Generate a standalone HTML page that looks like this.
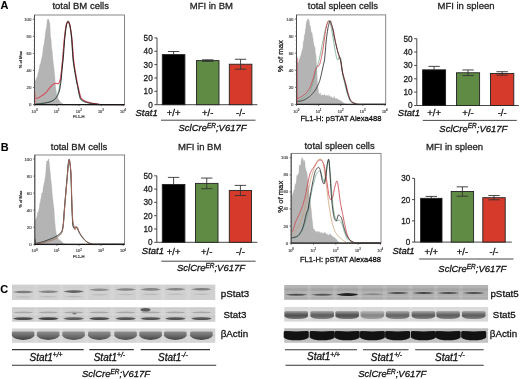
<!DOCTYPE html>
<html><head><meta charset="utf-8"><style>
html,body{margin:0;padding:0;background:#fff;width:520px;height:379px;overflow:hidden}
svg{display:block}
text{font-family:"Liberation Sans", sans-serif}
svg{filter:blur(0.35px)}
</style></head><body>
<svg width="520" height="379" viewBox="0 0 520 379">
<defs><filter id="b1" x="-20%" y="-50%" width="140%" height="200%"><feGaussianBlur stdDeviation="0.6"/></filter><filter id="b2" x="-20%" y="-50%" width="140%" height="200%"><feGaussianBlur stdDeviation="0.9"/></filter></defs>
<rect width="520" height="379" fill="#ffffff"/>
<g font-family='"Liberation Sans", sans-serif'>
<text x="0.50" y="9.20" font-size="10.9" text-anchor="start" font-weight="bold" font-style="normal" fill="#000" stroke="#000" stroke-width="0.1" >A</text>
<text x="0.80" y="151.20" font-size="10.9" text-anchor="start" font-weight="bold" font-style="normal" fill="#000" stroke="#000" stroke-width="0.1" >B</text>
<text x="0.30" y="293.00" font-size="10.9" text-anchor="start" font-weight="bold" font-style="normal" fill="#000" stroke="#000" stroke-width="0.1" >C</text>
<text x="80.70" y="9.00" font-size="9.5" text-anchor="middle" font-weight="normal" font-style="normal" fill="#222" stroke="#222" stroke-width="0.28" >total BM cells</text>
<text x="211.40" y="8.80" font-size="9.5" text-anchor="middle" font-weight="normal" font-style="normal" fill="#222" stroke="#222" stroke-width="0.28" >MFI in BM</text>
<text x="342.90" y="8.90" font-size="9.5" text-anchor="middle" font-weight="normal" font-style="normal" fill="#222" stroke="#222" stroke-width="0.28" >total spleen cells</text>
<text x="466.00" y="8.80" font-size="9.5" text-anchor="middle" font-weight="normal" font-style="normal" fill="#222" stroke="#222" stroke-width="0.28" >MFI in spleen</text>
<text x="79.00" y="149.90" font-size="9.5" text-anchor="middle" font-weight="normal" font-style="normal" fill="#222" stroke="#222" stroke-width="0.28" >total BM cells</text>
<text x="199.70" y="149.90" font-size="9.5" text-anchor="middle" font-weight="normal" font-style="normal" fill="#222" stroke="#222" stroke-width="0.28" >MFI in BM</text>
<text x="339.60" y="148.60" font-size="9.5" text-anchor="middle" font-weight="normal" font-style="normal" fill="#222" stroke="#222" stroke-width="0.28" >total spleen cells</text>
<text x="454.50" y="149.90" font-size="9.5" text-anchor="middle" font-weight="normal" font-style="normal" fill="#222" stroke="#222" stroke-width="0.28" >MFI in spleen</text>
<polygon points="34.80,104.60 34.80,80.72 35.02,80.48 35.25,81.36 35.47,80.58 35.70,80.98 35.92,79.58 36.15,79.85 36.37,78.46 36.60,78.74 36.82,77.19 37.05,77.35 37.27,76.49 37.50,76.31 37.72,74.00 37.95,73.37 38.17,72.37 38.40,72.40 38.62,71.04 38.85,69.85 39.07,69.10 39.30,67.73 39.52,66.70 39.75,65.05 39.97,64.25 40.20,64.09 40.42,63.45 40.65,63.39 40.87,62.19 41.09,60.82 41.32,59.61 41.54,58.56 41.77,58.05 41.99,56.96 42.22,55.89 42.44,54.28 42.67,53.16 42.89,51.35 43.12,49.07 43.34,46.63 43.57,45.48 43.79,45.57 44.02,45.05 44.24,42.49 44.47,40.46 44.69,38.93 44.92,38.39 45.14,35.61 45.37,33.55 45.59,31.49 45.82,30.76 46.04,29.13 46.27,28.40 46.49,27.06 46.72,25.38 46.94,22.86 47.16,21.05 47.39,19.49 47.61,19.30 47.84,19.30 48.06,19.30 48.29,19.30 48.51,19.30 48.74,19.30 48.96,20.35 49.19,21.72 49.41,21.77 49.64,22.60 49.86,23.22 50.09,27.50 50.31,32.19 50.54,36.59 50.76,38.01 50.99,38.90 51.21,40.80 51.44,44.53 51.66,47.63 51.89,49.72 52.11,50.81 52.34,52.58 52.56,55.46 52.78,57.92 53.01,60.36 53.23,62.03 53.46,63.69 53.68,65.52 53.91,67.84 54.13,69.69 54.36,71.81 54.58,73.60 54.81,76.35 55.03,79.49 55.26,82.82 55.48,85.57 55.71,87.44 55.93,89.16 56.16,90.80 56.38,92.48 56.61,94.03 56.83,94.93 57.06,95.95 57.28,96.22 57.51,96.89 57.73,97.23 57.96,98.19 58.18,98.67 58.41,99.04 58.63,99.38 58.85,99.80 59.08,100.23 59.30,100.60 59.53,100.80 59.75,100.98 59.98,101.20 60.20,101.48 60.43,102.04 60.65,102.19 60.88,102.67 61.10,102.62 61.33,102.80 61.55,102.86 61.78,103.24 62.00,103.35 62.23,103.36 62.45,103.60 62.68,103.74 62.90,103.90 63.13,103.91 63.35,104.17 63.58,104.32 63.80,104.43 64.03,104.50 64.25,104.59 64.48,104.60 64.70,104.60 64.92,104.60 65.15,104.60 65.37,104.60 65.60,104.60 65.82,104.60 66.05,104.60 66.27,104.60 66.50,104.60 66.72,104.60 66.95,104.60 67.17,104.60 67.40,104.60 67.62,104.60 67.85,104.60 68.07,104.60 68.30,104.60 68.52,104.60 68.75,104.60 68.97,104.60 69.20,104.60 69.42,104.60 69.65,104.60 69.87,104.60 70.10,104.60 70.32,104.60 70.55,104.60 70.77,104.60 70.99,104.60 71.22,104.60 71.44,104.60 71.67,104.60 71.89,104.60 72.12,104.60 72.34,104.60 72.57,104.60 72.79,104.60 73.02,104.60 73.24,104.60 73.47,104.60 73.69,104.60 73.92,104.60 74.14,104.60 74.37,104.60 74.59,104.60 74.82,104.60 75.04,104.60 75.27,104.60 75.49,104.60 75.72,104.60 75.94,104.60 76.17,104.60 76.39,104.60 76.62,104.60 76.84,104.60 77.06,104.60 77.29,104.60 77.51,104.60 77.74,104.60 77.96,104.60 78.19,104.60 78.41,104.60 78.64,104.60 78.86,104.60 79.09,104.60 79.31,104.60 79.54,104.60 79.76,104.60 79.99,104.60 80.21,104.60 80.44,104.60 80.66,104.60 80.89,104.60 81.11,104.60 81.34,104.60 81.56,104.60 81.79,104.60 82.01,104.60 82.24,104.60 82.46,104.60 82.68,104.60 82.91,104.60 83.13,104.60 83.36,104.60 83.58,104.60 83.81,104.60 84.03,104.60 84.26,104.60 84.48,104.60 84.71,104.60 84.93,104.60 85.16,104.60 85.38,104.60 85.61,104.60 85.83,104.60 86.06,104.60 86.28,104.60 86.51,104.60 86.73,104.60 86.96,104.60 87.18,104.60 87.41,104.60 87.63,104.60 87.86,104.60 88.08,104.60 88.31,104.60 88.53,104.60 88.75,104.60 88.98,104.60 89.20,104.60 89.43,104.60 89.65,104.60 89.88,104.60 90.10,104.60 90.33,104.60 90.55,104.60 90.78,104.60 91.00,104.60 91.23,104.60 91.45,104.60 91.68,104.60 91.90,104.60 92.13,104.60 92.35,104.60 92.58,104.60 92.80,104.60 93.03,104.60 93.25,104.60 93.48,104.60 93.70,104.60 93.93,104.60 94.15,104.60 94.38,104.60 94.60,104.60 94.82,104.60 95.05,104.60 95.27,104.60 95.50,104.60 95.72,104.60 95.95,104.60 96.17,104.60 96.40,104.60 96.62,104.60 96.85,104.60 97.07,104.60 97.30,104.60 97.52,104.60 97.75,104.60 97.97,104.60 98.20,104.60 98.42,104.60 98.65,104.60 98.87,104.60 99.10,104.60 99.32,104.60 99.55,104.60 99.77,104.60 100.00,104.60 100.22,104.60 100.45,104.60 100.67,104.60 100.89,104.60 101.12,104.60 101.34,104.60 101.57,104.60 101.79,104.60 102.02,104.60 102.24,104.60 102.47,104.60 102.69,104.60 102.92,104.60 103.14,104.60 103.37,104.60 103.59,104.60 103.82,104.60 104.04,104.60 104.27,104.60 104.49,104.60 104.72,104.60 104.94,104.60 105.17,104.60 105.39,104.60 105.62,104.60 105.84,104.60 106.07,104.60 106.29,104.60 106.52,104.60 106.74,104.60 106.96,104.60 107.19,104.60 107.41,104.60 107.64,104.60 107.86,104.60 108.09,104.60 108.31,104.60 108.54,104.60 108.76,104.60 108.99,104.60 109.21,104.60 109.44,104.60 109.66,104.60 109.89,104.60 110.11,104.60 110.34,104.60 110.56,104.60 110.79,104.60 111.01,104.60 111.24,104.60 111.46,104.60 111.69,104.60 111.91,104.60 112.14,104.60 112.36,104.60 112.58,104.60 112.81,104.60 113.03,104.60 113.26,104.60 113.48,104.60 113.71,104.60 113.93,104.60 114.16,104.60 114.38,104.60 114.61,104.60 114.83,104.60 115.06,104.60 115.28,104.60 115.51,104.60 115.73,104.60 115.96,104.60 116.18,104.60 116.41,104.60 116.63,104.60 116.86,104.60 117.08,104.60 117.31,104.60 117.53,104.60 117.76,104.60 117.98,104.60 118.21,104.60 118.43,104.60 118.65,104.60 118.88,104.60 119.10,104.60 119.33,104.60 119.55,104.60 119.78,104.60 120.00,104.60 120.23,104.60 120.45,104.60 120.68,104.60 120.90,104.60 121.13,104.60 121.35,104.60 121.58,104.60 121.80,104.60 122.03,104.60 122.25,104.60 122.48,104.60 122.70,104.60 122.93,104.60 123.15,104.60 123.38,104.60 123.60,104.60 123.83,104.60 124.05,104.60 124.28,104.60 124.50,104.60 124.50,104.60" fill="#b4b4b4" stroke="#acacac" stroke-width="0.3"/>
<polyline points="34.80,103.75 35.02,103.75 35.25,103.74 35.47,103.74 35.70,103.73 35.92,103.72 36.15,103.71 36.37,103.70 36.60,103.69 36.82,103.68 37.05,103.66 37.27,103.65 37.50,103.63 37.72,103.62 37.95,103.60 38.17,103.58 38.40,103.56 38.62,103.53 38.85,103.51 39.07,103.49 39.30,103.46 39.52,103.44 39.75,103.41 39.97,103.38 40.20,103.35 40.42,103.33 40.65,103.30 40.87,103.26 41.09,103.23 41.32,103.20 41.54,103.17 41.77,103.14 41.99,103.10 42.22,103.07 42.44,103.03 42.67,103.00 42.89,102.96 43.12,102.93 43.34,102.89 43.57,102.85 43.79,102.82 44.02,102.78 44.24,102.74 44.47,102.70 44.69,102.67 44.92,102.63 45.14,102.59 45.37,102.55 45.59,102.51 45.82,102.47 46.04,102.43 46.27,102.39 46.49,102.35 46.72,102.31 46.94,102.27 47.16,102.22 47.39,102.17 47.61,102.12 47.84,102.07 48.06,102.02 48.29,101.96 48.51,101.91 48.74,101.85 48.96,101.79 49.19,101.72 49.41,101.65 49.64,101.59 49.86,101.51 50.09,101.44 50.31,101.36 50.54,101.28 50.76,101.20 50.99,101.11 51.21,101.02 51.44,100.93 51.66,100.83 51.89,100.73 52.11,100.62 52.34,100.50 52.56,100.38 52.78,100.24 53.01,100.09 53.23,99.94 53.46,99.77 53.68,99.59 53.91,99.40 54.13,99.20 54.36,98.99 54.58,98.77 54.81,98.53 55.03,98.28 55.26,98.02 55.48,97.75 55.71,97.46 55.93,97.16 56.16,96.85 56.38,96.52 56.61,96.18 56.83,95.81 57.06,95.37 57.28,94.85 57.51,94.26 57.73,93.60 57.96,92.89 58.18,92.11 58.41,91.29 58.63,90.41 58.85,89.49 59.08,88.53 59.30,87.47 59.53,86.23 59.75,84.85 59.98,83.33 60.20,81.71 60.43,80.00 60.65,78.24 60.88,76.45 61.10,74.55 61.33,72.50 61.55,70.32 61.78,68.05 62.00,65.74 62.23,63.42 62.45,60.99 62.68,58.42 62.90,55.74 63.13,53.00 63.35,50.24 63.58,47.51 63.80,44.86 64.03,42.32 64.25,39.94 64.48,37.76 64.70,35.82 64.92,33.93 65.15,32.07 65.37,30.28 65.60,28.62 65.82,27.13 66.05,25.85 66.27,24.85 66.50,24.14 66.72,23.50 66.95,22.92 67.17,22.44 67.40,22.08 67.62,21.88 67.85,21.88 68.07,22.03 68.30,22.31 68.52,22.68 68.75,23.14 68.97,23.66 69.20,24.22 69.42,24.83 69.65,25.66 69.87,26.68 70.10,27.88 70.32,29.25 70.55,30.77 70.77,32.40 70.99,34.15 71.22,35.98 71.44,38.11 71.67,40.91 71.89,44.17 72.12,47.68 72.34,51.24 72.57,54.64 72.79,57.67 73.02,60.11 73.24,62.04 73.47,63.80 73.69,65.39 73.92,66.87 74.14,68.27 74.37,69.61 74.59,70.94 74.82,72.28 75.04,73.62 75.27,74.93 75.49,76.21 75.72,77.46 75.94,78.69 76.17,79.89 76.39,81.05 76.62,82.19 76.84,83.30 77.06,84.39 77.29,85.50 77.51,86.66 77.74,87.85 77.96,89.05 78.19,90.26 78.41,91.45 78.64,92.62 78.86,93.75 79.09,94.84 79.31,95.85 79.54,96.79 79.76,97.63 79.99,98.37 80.21,98.98 80.44,99.47 80.66,99.80 80.89,100.00 81.11,100.18 81.34,100.34 81.56,100.50 81.79,100.65 82.01,100.79 82.24,100.93 82.46,101.06 82.68,101.18 82.91,101.30 83.13,101.41 83.36,101.52 83.58,101.62 83.81,101.72 84.03,101.81 84.26,101.90 84.48,101.98 84.71,102.06 84.93,102.14 85.16,102.21 85.38,102.28 85.61,102.34 85.83,102.40 86.06,102.46 86.28,102.52 86.51,102.58 86.73,102.63 86.96,102.68 87.18,102.73 87.41,102.78 87.63,102.83 87.86,102.88 88.08,102.93 88.31,102.98 88.53,103.02 88.75,103.07 88.98,103.12 89.20,103.16 89.43,103.21 89.65,103.25 89.88,103.30 90.10,103.34 90.33,103.38 90.55,103.41 90.78,103.45 91.00,103.49 91.23,103.53 91.45,103.56 91.68,103.59 91.90,103.63 92.13,103.66 92.35,103.69 92.58,103.72 92.80,103.75 93.03,103.78 93.25,103.81 93.48,103.84 93.70,103.87 93.93,103.90 94.15,103.92 94.38,103.95 94.60,103.98 94.82,104.00 95.05,104.03 95.27,104.05 95.50,104.08 95.72,104.11 95.95,104.13 96.17,104.16 96.40,104.19 96.62,104.21 96.85,104.24 97.07,104.27 97.30,104.30 97.52,104.33 97.75,104.35 97.97,104.38 98.20,104.41 98.42,104.43 98.65,104.46 98.87,104.48 99.10,104.50 99.32,104.52 99.55,104.54 99.77,104.55 100.00,104.57 100.22,104.58 100.45,104.59 100.67,104.59 100.89,104.60 101.12,104.60 101.34,104.60 101.57,104.60 101.79,104.60 102.02,104.60 102.24,104.60 102.47,104.60 102.69,104.60 102.92,104.60 103.14,104.60 103.37,104.60 103.59,104.60 103.82,104.60 104.04,104.60 104.27,104.60 104.49,104.60 104.72,104.60 104.94,104.60 105.17,104.60 105.39,104.60 105.62,104.60 105.84,104.60 106.07,104.60 106.29,104.60 106.52,104.60 106.74,104.60 106.96,104.60 107.19,104.60 107.41,104.60 107.64,104.60 107.86,104.60 108.09,104.60 108.31,104.60 108.54,104.60 108.76,104.60 108.99,104.60 109.21,104.60 109.44,104.60 109.66,104.60 109.89,104.60 110.11,104.60 110.34,104.60 110.56,104.60 110.79,104.60 111.01,104.60 111.24,104.60 111.46,104.60 111.69,104.60 111.91,104.60 112.14,104.60 112.36,104.60 112.58,104.60 112.81,104.60 113.03,104.60 113.26,104.60 113.48,104.60 113.71,104.60 113.93,104.60 114.16,104.60 114.38,104.60 114.61,104.60 114.83,104.60 115.06,104.60 115.28,104.60 115.51,104.60 115.73,104.60 115.96,104.60 116.18,104.60 116.41,104.60 116.63,104.60 116.86,104.60 117.08,104.60 117.31,104.60 117.53,104.60 117.76,104.60 117.98,104.60 118.21,104.60 118.43,104.60 118.65,104.60 118.88,104.60 119.10,104.60 119.33,104.60 119.55,104.60 119.78,104.60 120.00,104.60 120.23,104.60 120.45,104.60 120.68,104.60 120.90,104.60 121.13,104.60 121.35,104.60 121.58,104.60 121.80,104.60 122.03,104.60 122.25,104.60 122.48,104.60 122.70,104.60 122.93,104.60 123.15,104.60 123.38,104.60 123.60,104.60 123.83,104.60 124.05,104.60 124.28,104.60 124.50,104.60" fill="none" stroke="#6aa488" stroke-width="0.8" stroke-linejoin="round"/>
<polyline points="34.80,97.78 35.02,97.89 35.25,98.00 35.47,98.09 35.70,98.18 35.92,98.24 36.15,98.28 36.37,98.29 36.60,98.28 36.82,98.25 37.05,98.21 37.27,98.16 37.50,98.09 37.72,98.01 37.95,97.92 38.17,97.83 38.40,97.72 38.62,97.61 38.85,97.48 39.07,97.36 39.30,97.23 39.52,97.09 39.75,96.95 39.97,96.82 40.20,96.68 40.42,96.54 40.65,96.40 40.87,96.27 41.09,96.14 41.32,96.01 41.54,95.88 41.77,95.74 41.99,95.61 42.22,95.46 42.44,95.32 42.67,95.17 42.89,95.02 43.12,94.86 43.34,94.70 43.57,94.54 43.79,94.37 44.02,94.20 44.24,94.03 44.47,93.85 44.69,93.67 44.92,93.48 45.14,93.29 45.37,93.09 45.59,92.89 45.82,92.69 46.04,92.48 46.27,92.25 46.49,92.01 46.72,91.75 46.94,91.48 47.16,91.21 47.39,90.92 47.61,90.63 47.84,90.33 48.06,90.03 48.29,89.72 48.51,89.42 48.74,89.11 48.96,88.81 49.19,88.51 49.41,88.22 49.64,87.93 49.86,87.65 50.09,87.38 50.31,87.12 50.54,86.87 50.76,86.64 50.99,86.40 51.21,86.17 51.44,85.94 51.66,85.70 51.89,85.48 52.11,85.26 52.34,85.04 52.56,84.84 52.78,84.66 53.01,84.48 53.23,84.33 53.46,84.19 53.68,84.08 53.91,83.97 54.13,83.85 54.36,83.74 54.58,83.64 54.81,83.55 55.03,83.46 55.26,83.39 55.48,83.33 55.71,83.30 55.93,83.28 56.16,83.28 56.38,83.31 56.61,83.35 56.83,83.41 57.06,83.47 57.28,83.53 57.51,83.60 57.73,83.65 57.96,83.68 58.18,83.70 58.41,83.65 58.63,83.45 58.85,83.11 59.08,82.65 59.30,82.09 59.53,81.43 59.75,80.69 59.98,79.90 60.20,79.06 60.43,78.19 60.65,77.12 60.88,75.69 61.10,73.98 61.33,72.05 61.55,69.96 61.78,67.78 62.00,65.59 62.23,63.44 62.45,61.17 62.68,58.68 62.90,56.03 63.13,53.27 63.35,50.47 63.58,47.67 63.80,44.95 64.03,42.34 64.25,39.92 64.48,37.74 64.70,35.83 64.92,33.98 65.15,32.14 65.37,30.36 65.60,28.67 65.82,27.14 66.05,25.79 66.27,24.69 66.50,23.88 66.72,23.36 66.95,22.93 67.17,22.54 67.40,22.22 67.62,21.99 67.85,21.87 68.07,21.88 68.30,22.04 68.52,22.32 68.75,22.71 68.97,23.17 69.20,23.69 69.42,24.23 69.65,24.82 69.87,25.57 70.10,26.47 70.32,27.51 70.55,28.68 70.77,29.97 70.99,31.37 71.22,32.86 71.44,34.43 71.67,36.08 71.89,37.97 72.12,40.36 72.34,43.13 72.57,46.15 72.79,49.28 73.02,52.38 73.24,55.33 73.47,57.98 73.69,60.21 73.92,62.11 74.14,63.87 74.37,65.52 74.59,67.07 74.82,68.55 75.04,69.98 75.27,71.36 75.49,72.72 75.72,74.08 75.94,75.43 76.17,76.77 76.39,78.09 76.62,79.38 76.84,80.63 77.06,81.84 77.29,83.01 77.51,84.11 77.74,85.15 77.96,86.13 78.19,87.10 78.41,88.08 78.64,89.07 78.86,90.04 79.09,91.01 79.31,91.95 79.54,92.87 79.76,93.75 79.99,94.58 80.21,95.37 80.44,96.09 80.66,96.74 80.89,97.32 81.11,97.82 81.34,98.23 81.56,98.53 81.79,98.75 82.01,98.96 82.24,99.15 82.46,99.34 82.68,99.52 82.91,99.69 83.13,99.86 83.36,100.02 83.58,100.17 83.81,100.32 84.03,100.46 84.26,100.59 84.48,100.72 84.71,100.84 84.93,100.96 85.16,101.08 85.38,101.18 85.61,101.29 85.83,101.39 86.06,101.48 86.28,101.57 86.51,101.66 86.73,101.74 86.96,101.83 87.18,101.90 87.41,101.98 87.63,102.05 87.86,102.12 88.08,102.19 88.31,102.25 88.53,102.32 88.75,102.38 88.98,102.44 89.20,102.50 89.43,102.56 89.65,102.62 89.88,102.68 90.10,102.74 90.33,102.79 90.55,102.85 90.78,102.90 91.00,102.95 91.23,103.00 91.45,103.05 91.68,103.10 91.90,103.15 92.13,103.19 92.35,103.23 92.58,103.27 92.80,103.32 93.03,103.36 93.25,103.39 93.48,103.43 93.70,103.47 93.93,103.51 94.15,103.54 94.38,103.58 94.60,103.61 94.82,103.65 95.05,103.68 95.27,103.71 95.50,103.75 95.72,103.78 95.95,103.81 96.17,103.84 96.40,103.88 96.62,103.91 96.85,103.94 97.07,103.98 97.30,104.01 97.52,104.05 97.75,104.09 97.97,104.12 98.20,104.16 98.42,104.20 98.65,104.23 98.87,104.27 99.10,104.31 99.32,104.34 99.55,104.37 99.77,104.41 100.00,104.44 100.22,104.47 100.45,104.49 100.67,104.52 100.89,104.54 101.12,104.56 101.34,104.57 101.57,104.58 101.79,104.59 102.02,104.60 102.24,104.60 102.47,104.60 102.69,104.60 102.92,104.60 103.14,104.60 103.37,104.60 103.59,104.60 103.82,104.60 104.04,104.60 104.27,104.60 104.49,104.60 104.72,104.60 104.94,104.60 105.17,104.60 105.39,104.60 105.62,104.60 105.84,104.60 106.07,104.60 106.29,104.60 106.52,104.60 106.74,104.60 106.96,104.60 107.19,104.60 107.41,104.60 107.64,104.60 107.86,104.60 108.09,104.60 108.31,104.60 108.54,104.60 108.76,104.60 108.99,104.60 109.21,104.60 109.44,104.60 109.66,104.60 109.89,104.60 110.11,104.60 110.34,104.60 110.56,104.60 110.79,104.60 111.01,104.60 111.24,104.60 111.46,104.60 111.69,104.60 111.91,104.60 112.14,104.60 112.36,104.60 112.58,104.60 112.81,104.60 113.03,104.60 113.26,104.60 113.48,104.60 113.71,104.60 113.93,104.60 114.16,104.60 114.38,104.60 114.61,104.60 114.83,104.60 115.06,104.60 115.28,104.60 115.51,104.60 115.73,104.60 115.96,104.60 116.18,104.60 116.41,104.60 116.63,104.60 116.86,104.60 117.08,104.60 117.31,104.60 117.53,104.60 117.76,104.60 117.98,104.60 118.21,104.60 118.43,104.60 118.65,104.60 118.88,104.60 119.10,104.60 119.33,104.60 119.55,104.60 119.78,104.60 120.00,104.60 120.23,104.60 120.45,104.60 120.68,104.60 120.90,104.60 121.13,104.60 121.35,104.60 121.58,104.60 121.80,104.60 122.03,104.60 122.25,104.60 122.48,104.60 122.70,104.60 122.93,104.60 123.15,104.60 123.38,104.60 123.60,104.60 123.83,104.60 124.05,104.60 124.28,104.60 124.50,104.60" fill="none" stroke="#d44a5a" stroke-width="1.1" stroke-linejoin="round"/>
<polyline points="34.80,104.17 35.02,104.17 35.25,104.16 35.47,104.16 35.70,104.15 35.92,104.14 36.15,104.13 36.37,104.12 36.60,104.11 36.82,104.09 37.05,104.08 37.27,104.06 37.50,104.04 37.72,104.03 37.95,104.01 38.17,103.99 38.40,103.96 38.62,103.94 38.85,103.92 39.07,103.90 39.30,103.87 39.52,103.85 39.75,103.82 39.97,103.79 40.20,103.76 40.42,103.73 40.65,103.71 40.87,103.68 41.09,103.64 41.32,103.61 41.54,103.58 41.77,103.55 41.99,103.52 42.22,103.48 42.44,103.45 42.67,103.41 42.89,103.38 43.12,103.34 43.34,103.31 43.57,103.27 43.79,103.24 44.02,103.20 44.24,103.16 44.47,103.13 44.69,103.09 44.92,103.05 45.14,103.01 45.37,102.98 45.59,102.94 45.82,102.90 46.04,102.86 46.27,102.82 46.49,102.78 46.72,102.74 46.94,102.70 47.16,102.65 47.39,102.61 47.61,102.56 47.84,102.51 48.06,102.46 48.29,102.41 48.51,102.35 48.74,102.30 48.96,102.24 49.19,102.18 49.41,102.11 49.64,102.05 49.86,101.98 50.09,101.91 50.31,101.84 50.54,101.76 50.76,101.68 50.99,101.60 51.21,101.52 51.44,101.43 51.66,101.34 51.89,101.24 52.11,101.14 52.34,101.03 52.56,100.91 52.78,100.79 53.01,100.65 53.23,100.50 53.46,100.35 53.68,100.18 53.91,100.01 54.13,99.83 54.36,99.64 54.58,99.44 54.81,99.23 55.03,99.01 55.26,98.78 55.48,98.54 55.71,98.29 55.93,98.03 56.16,97.76 56.38,97.48 56.61,97.19 56.83,96.88 57.06,96.55 57.28,96.17 57.51,95.76 57.73,95.32 57.96,94.83 58.18,94.30 58.41,93.73 58.63,93.11 58.85,92.45 59.08,91.74 59.30,90.99 59.53,90.18 59.75,89.25 59.98,88.09 60.20,86.74 60.43,85.23 60.65,83.58 60.88,81.82 61.10,79.98 61.33,78.09 61.55,75.94 61.78,73.46 62.00,70.85 62.23,68.28 62.45,65.96 62.68,63.95 62.90,62.01 63.13,59.85 63.35,57.28 63.58,54.40 63.80,51.33 64.03,48.17 64.25,45.03 64.48,42.04 64.70,39.31 64.92,36.95 65.15,34.93 65.37,32.96 65.60,31.07 65.82,29.28 66.05,27.63 66.27,26.17 66.50,24.94 66.72,23.97 66.95,23.26 67.17,22.63 67.40,22.05 67.62,21.57 67.85,21.21 68.07,21.03 68.30,21.04 68.52,21.25 68.75,21.63 68.97,22.13 69.20,22.71 69.42,23.35 69.65,24.04 69.87,24.96 70.10,26.08 70.32,27.38 70.55,28.86 70.77,30.48 70.99,32.22 71.22,34.07 71.44,36.00 71.67,38.21 71.89,41.06 72.12,44.33 72.34,47.83 72.57,51.37 72.79,54.73 73.02,57.73 73.24,60.14 73.47,62.08 73.69,63.82 73.92,65.42 74.14,66.90 74.37,68.29 74.59,69.64 74.82,70.96 75.04,72.30 75.27,73.64 75.49,74.96 75.72,76.24 75.94,77.50 76.17,78.73 76.39,79.93 76.62,81.09 76.84,82.23 77.06,83.33 77.29,84.40 77.51,85.50 77.74,86.63 77.96,87.78 78.19,88.95 78.41,90.12 78.64,91.28 78.86,92.41 79.09,93.50 79.31,94.54 79.54,95.52 79.76,96.42 79.99,97.24 80.21,97.95 80.44,98.56 80.66,99.04 80.89,99.38 81.11,99.59 81.34,99.78 81.56,99.96 81.79,100.13 82.01,100.29 82.24,100.45 82.46,100.60 82.68,100.75 82.91,100.88 83.13,101.01 83.36,101.14 83.58,101.25 83.81,101.37 84.03,101.47 84.26,101.58 84.48,101.67 84.71,101.76 84.93,101.85 85.16,101.94 85.38,102.02 85.61,102.09 85.83,102.16 86.06,102.23 86.28,102.30 86.51,102.36 86.73,102.42 86.96,102.48 87.18,102.54 87.41,102.59 87.63,102.65 87.86,102.70 88.08,102.75 88.31,102.80 88.53,102.85 88.75,102.90 88.98,102.95 89.20,103.00 89.43,103.04 89.65,103.08 89.88,103.13 90.10,103.17 90.33,103.21 90.55,103.24 90.78,103.28 91.00,103.31 91.23,103.35 91.45,103.38 91.68,103.41 91.90,103.45 92.13,103.48 92.35,103.51 92.58,103.54 92.80,103.57 93.03,103.59 93.25,103.62 93.48,103.65 93.70,103.68 93.93,103.71 94.15,103.73 94.38,103.76 94.60,103.79 94.82,103.82 95.05,103.85 95.27,103.88 95.50,103.91 95.72,103.94 95.95,103.97 96.17,104.00 96.40,104.04 96.62,104.07 96.85,104.11 97.07,104.15 97.30,104.19 97.52,104.22 97.75,104.26 97.97,104.30 98.20,104.33 98.42,104.36 98.65,104.40 98.87,104.43 99.10,104.46 99.32,104.49 99.55,104.51 99.77,104.53 100.00,104.55 100.22,104.57 100.45,104.58 100.67,104.59 100.89,104.60 101.12,104.60 101.34,104.60 101.57,104.60 101.79,104.60 102.02,104.60 102.24,104.60 102.47,104.60 102.69,104.60 102.92,104.60 103.14,104.60 103.37,104.60 103.59,104.60 103.82,104.60 104.04,104.60 104.27,104.60 104.49,104.60 104.72,104.60 104.94,104.60 105.17,104.60 105.39,104.60 105.62,104.60 105.84,104.60 106.07,104.60 106.29,104.60 106.52,104.60 106.74,104.60 106.96,104.60 107.19,104.60 107.41,104.60 107.64,104.60 107.86,104.60 108.09,104.60 108.31,104.60 108.54,104.60 108.76,104.60 108.99,104.60 109.21,104.60 109.44,104.60 109.66,104.60 109.89,104.60 110.11,104.60 110.34,104.60 110.56,104.60 110.79,104.60 111.01,104.60 111.24,104.60 111.46,104.60 111.69,104.60 111.91,104.60 112.14,104.60 112.36,104.60 112.58,104.60 112.81,104.60 113.03,104.60 113.26,104.60 113.48,104.60 113.71,104.60 113.93,104.60 114.16,104.60 114.38,104.60 114.61,104.60 114.83,104.60 115.06,104.60 115.28,104.60 115.51,104.60 115.73,104.60 115.96,104.60 116.18,104.60 116.41,104.60 116.63,104.60 116.86,104.60 117.08,104.60 117.31,104.60 117.53,104.60 117.76,104.60 117.98,104.60 118.21,104.60 118.43,104.60 118.65,104.60 118.88,104.60 119.10,104.60 119.33,104.60 119.55,104.60 119.78,104.60 120.00,104.60 120.23,104.60 120.45,104.60 120.68,104.60 120.90,104.60 121.13,104.60 121.35,104.60 121.58,104.60 121.80,104.60 122.03,104.60 122.25,104.60 122.48,104.60 122.70,104.60 122.93,104.60 123.15,104.60 123.38,104.60 123.60,104.60 123.83,104.60 124.05,104.60 124.28,104.60 124.50,104.60" fill="none" stroke="#1a1a1a" stroke-width="0.9" stroke-linejoin="round"/>
<line x1="35.30" y1="104.60" x2="35.30" y2="92.66" stroke="#e07a7a" stroke-width="0.8" />
<rect x="34.50" y="15.00" width="90.00" height="89.60" fill="none" stroke="#7a7a7a" stroke-width="0.9"/>
<line x1="34.50" y1="15.00" x2="34.50" y2="104.60" stroke="#444" stroke-width="0.9" />
<line x1="34.50" y1="104.60" x2="124.50" y2="104.60" stroke="#111" stroke-width="1.3" />
<line x1="32.90" y1="104.60" x2="34.50" y2="104.60" stroke="#444" stroke-width="0.7" />
<text x="31.30" y="106.10" font-size="4.3" text-anchor="end" fill="#555" stroke="#555" stroke-width="0.2">0</text>
<line x1="32.90" y1="87.54" x2="34.50" y2="87.54" stroke="#444" stroke-width="0.7" />
<text x="31.30" y="89.04" font-size="4.3" text-anchor="end" fill="#555" stroke="#555" stroke-width="0.2">20</text>
<line x1="32.90" y1="70.48" x2="34.50" y2="70.48" stroke="#444" stroke-width="0.7" />
<text x="31.30" y="71.98" font-size="4.3" text-anchor="end" fill="#555" stroke="#555" stroke-width="0.2">40</text>
<line x1="32.90" y1="53.42" x2="34.50" y2="53.42" stroke="#444" stroke-width="0.7" />
<text x="31.30" y="54.92" font-size="4.3" text-anchor="end" fill="#555" stroke="#555" stroke-width="0.2">60</text>
<line x1="32.90" y1="36.36" x2="34.50" y2="36.36" stroke="#444" stroke-width="0.7" />
<text x="31.30" y="37.86" font-size="4.3" text-anchor="end" fill="#555" stroke="#555" stroke-width="0.2">80</text>
<line x1="32.90" y1="19.30" x2="34.50" y2="19.30" stroke="#444" stroke-width="0.7" />
<text x="31.30" y="20.80" font-size="4.3" text-anchor="end" fill="#555" stroke="#555" stroke-width="0.2">100</text>
<line x1="33.60" y1="104.60" x2="34.50" y2="104.60" stroke="#666" stroke-width="0.5" />
<line x1="33.60" y1="100.33" x2="34.50" y2="100.33" stroke="#666" stroke-width="0.5" />
<line x1="33.60" y1="96.07" x2="34.50" y2="96.07" stroke="#666" stroke-width="0.5" />
<line x1="33.60" y1="91.80" x2="34.50" y2="91.80" stroke="#666" stroke-width="0.5" />
<line x1="33.60" y1="87.54" x2="34.50" y2="87.54" stroke="#666" stroke-width="0.5" />
<line x1="33.60" y1="83.27" x2="34.50" y2="83.27" stroke="#666" stroke-width="0.5" />
<line x1="33.60" y1="79.01" x2="34.50" y2="79.01" stroke="#666" stroke-width="0.5" />
<line x1="33.60" y1="74.74" x2="34.50" y2="74.74" stroke="#666" stroke-width="0.5" />
<line x1="33.60" y1="70.48" x2="34.50" y2="70.48" stroke="#666" stroke-width="0.5" />
<line x1="33.60" y1="66.22" x2="34.50" y2="66.22" stroke="#666" stroke-width="0.5" />
<line x1="33.60" y1="61.95" x2="34.50" y2="61.95" stroke="#666" stroke-width="0.5" />
<line x1="33.60" y1="57.68" x2="34.50" y2="57.68" stroke="#666" stroke-width="0.5" />
<line x1="33.60" y1="53.42" x2="34.50" y2="53.42" stroke="#666" stroke-width="0.5" />
<line x1="33.60" y1="49.15" x2="34.50" y2="49.15" stroke="#666" stroke-width="0.5" />
<line x1="33.60" y1="44.89" x2="34.50" y2="44.89" stroke="#666" stroke-width="0.5" />
<line x1="33.60" y1="40.62" x2="34.50" y2="40.62" stroke="#666" stroke-width="0.5" />
<line x1="33.60" y1="36.36" x2="34.50" y2="36.36" stroke="#666" stroke-width="0.5" />
<line x1="33.60" y1="32.09" x2="34.50" y2="32.09" stroke="#666" stroke-width="0.5" />
<line x1="33.60" y1="27.83" x2="34.50" y2="27.83" stroke="#666" stroke-width="0.5" />
<line x1="33.60" y1="23.56" x2="34.50" y2="23.56" stroke="#666" stroke-width="0.5" />
<line x1="33.60" y1="19.30" x2="34.50" y2="19.30" stroke="#666" stroke-width="0.5" />
<line x1="34.80" y1="104.60" x2="34.80" y2="106.20" stroke="#333" stroke-width="0.7" />
<text x="34.60" y="112.60" font-size="3.9" text-anchor="middle" fill="#555" stroke="#555" stroke-width="0.2">10<tspan dy="-1.8" font-size="2.92">0</tspan></text>
<line x1="41.45" y1="104.60" x2="41.45" y2="105.60" stroke="#555" stroke-width="0.5" />
<line x1="45.34" y1="104.60" x2="45.34" y2="105.60" stroke="#555" stroke-width="0.5" />
<line x1="48.11" y1="104.60" x2="48.11" y2="105.60" stroke="#555" stroke-width="0.5" />
<line x1="50.25" y1="104.60" x2="50.25" y2="105.60" stroke="#555" stroke-width="0.5" />
<line x1="52.00" y1="104.60" x2="52.00" y2="105.60" stroke="#555" stroke-width="0.5" />
<line x1="53.48" y1="104.60" x2="53.48" y2="105.60" stroke="#555" stroke-width="0.5" />
<line x1="54.76" y1="104.60" x2="54.76" y2="105.60" stroke="#555" stroke-width="0.5" />
<line x1="55.89" y1="104.60" x2="55.89" y2="105.60" stroke="#555" stroke-width="0.5" />
<line x1="56.90" y1="104.60" x2="56.90" y2="106.20" stroke="#333" stroke-width="0.7" />
<text x="56.70" y="112.60" font-size="3.9" text-anchor="middle" fill="#555" stroke="#555" stroke-width="0.2">10<tspan dy="-1.8" font-size="2.92">1</tspan></text>
<line x1="63.55" y1="104.60" x2="63.55" y2="105.60" stroke="#555" stroke-width="0.5" />
<line x1="67.44" y1="104.60" x2="67.44" y2="105.60" stroke="#555" stroke-width="0.5" />
<line x1="70.21" y1="104.60" x2="70.21" y2="105.60" stroke="#555" stroke-width="0.5" />
<line x1="72.35" y1="104.60" x2="72.35" y2="105.60" stroke="#555" stroke-width="0.5" />
<line x1="74.10" y1="104.60" x2="74.10" y2="105.60" stroke="#555" stroke-width="0.5" />
<line x1="75.58" y1="104.60" x2="75.58" y2="105.60" stroke="#555" stroke-width="0.5" />
<line x1="76.86" y1="104.60" x2="76.86" y2="105.60" stroke="#555" stroke-width="0.5" />
<line x1="77.99" y1="104.60" x2="77.99" y2="105.60" stroke="#555" stroke-width="0.5" />
<line x1="79.00" y1="104.60" x2="79.00" y2="106.20" stroke="#333" stroke-width="0.7" />
<text x="78.80" y="112.60" font-size="3.9" text-anchor="middle" fill="#555" stroke="#555" stroke-width="0.2">10<tspan dy="-1.8" font-size="2.92">2</tspan></text>
<line x1="85.65" y1="104.60" x2="85.65" y2="105.60" stroke="#555" stroke-width="0.5" />
<line x1="89.54" y1="104.60" x2="89.54" y2="105.60" stroke="#555" stroke-width="0.5" />
<line x1="92.31" y1="104.60" x2="92.31" y2="105.60" stroke="#555" stroke-width="0.5" />
<line x1="94.45" y1="104.60" x2="94.45" y2="105.60" stroke="#555" stroke-width="0.5" />
<line x1="96.20" y1="104.60" x2="96.20" y2="105.60" stroke="#555" stroke-width="0.5" />
<line x1="97.68" y1="104.60" x2="97.68" y2="105.60" stroke="#555" stroke-width="0.5" />
<line x1="98.96" y1="104.60" x2="98.96" y2="105.60" stroke="#555" stroke-width="0.5" />
<line x1="100.09" y1="104.60" x2="100.09" y2="105.60" stroke="#555" stroke-width="0.5" />
<line x1="101.10" y1="104.60" x2="101.10" y2="106.20" stroke="#333" stroke-width="0.7" />
<text x="100.90" y="112.60" font-size="3.9" text-anchor="middle" fill="#555" stroke="#555" stroke-width="0.2">10<tspan dy="-1.8" font-size="2.92">3</tspan></text>
<line x1="107.75" y1="104.60" x2="107.75" y2="105.60" stroke="#555" stroke-width="0.5" />
<line x1="111.64" y1="104.60" x2="111.64" y2="105.60" stroke="#555" stroke-width="0.5" />
<line x1="114.41" y1="104.60" x2="114.41" y2="105.60" stroke="#555" stroke-width="0.5" />
<line x1="116.55" y1="104.60" x2="116.55" y2="105.60" stroke="#555" stroke-width="0.5" />
<line x1="118.30" y1="104.60" x2="118.30" y2="105.60" stroke="#555" stroke-width="0.5" />
<line x1="119.78" y1="104.60" x2="119.78" y2="105.60" stroke="#555" stroke-width="0.5" />
<line x1="121.06" y1="104.60" x2="121.06" y2="105.60" stroke="#555" stroke-width="0.5" />
<line x1="122.19" y1="104.60" x2="122.19" y2="105.60" stroke="#555" stroke-width="0.5" />
<line x1="123.20" y1="104.60" x2="123.20" y2="106.20" stroke="#333" stroke-width="0.7" />
<text x="123.00" y="112.60" font-size="3.9" text-anchor="middle" fill="#555" stroke="#555" stroke-width="0.2">10<tspan dy="-1.8" font-size="2.92">4</tspan></text>
<text x="78.7" y="117.6" font-size="4.2" text-anchor="middle" fill="#333" stroke="#333" stroke-width="0.2">FL1-H</text>
<text transform="translate(21.7,59.8) rotate(-90)" font-size="4.1" text-anchor="middle" fill="#333" stroke="#333" stroke-width="0.2">% of Max</text>
<polygon points="296.60,104.40 296.60,61.70 296.82,63.53 297.05,62.05 297.27,63.23 297.49,62.25 297.72,62.97 297.94,62.49 298.16,62.53 298.39,63.40 298.61,61.99 298.83,59.45 299.06,58.48 299.28,59.19 299.50,59.85 299.73,59.62 299.95,58.09 300.17,56.90 300.40,56.26 300.62,55.43 300.84,56.13 301.07,54.78 301.29,53.64 301.51,52.74 301.74,51.86 301.96,51.20 302.18,49.83 302.41,49.40 302.63,49.24 302.85,47.69 303.08,45.75 303.30,41.47 303.52,42.18 303.75,40.63 303.97,41.02 304.19,36.47 304.42,34.87 304.64,34.70 304.86,34.55 305.09,33.03 305.31,30.99 305.53,28.68 305.76,29.37 305.98,25.93 306.20,23.86 306.43,21.13 306.65,21.17 306.87,21.72 307.10,21.40 307.32,21.15 307.54,19.55 307.77,19.00 307.99,19.00 308.21,19.88 308.44,19.38 308.66,19.00 308.88,19.53 309.11,20.23 309.33,22.04 309.55,23.95 309.78,25.61 310.00,26.75 310.22,25.85 310.45,26.05 310.67,28.80 310.89,29.70 311.12,31.65 311.34,32.12 311.56,32.74 311.78,32.54 312.01,32.95 312.23,33.80 312.45,35.96 312.68,36.46 312.90,39.28 313.12,38.64 313.35,42.07 313.57,42.27 313.79,44.11 314.02,44.70 314.24,45.95 314.46,47.81 314.69,46.78 314.91,47.03 315.13,48.83 315.36,52.21 315.58,53.88 315.80,54.56 316.03,55.98 316.25,59.01 316.47,62.78 316.70,66.47 316.92,71.04 317.14,74.81 317.37,80.46 317.59,83.51 317.81,86.42 318.04,87.71 318.26,89.35 318.48,92.10 318.71,93.03 318.93,94.01 319.15,93.78 319.38,94.18 319.60,94.54 319.82,93.35 320.05,92.95 320.27,92.77 320.49,93.95 320.72,94.82 320.94,95.14 321.16,95.14 321.39,95.29 321.61,95.43 321.83,95.37 322.06,95.28 322.28,95.36 322.50,95.61 322.73,94.63 322.95,94.93 323.17,95.00 323.40,95.74 323.62,95.39 323.84,94.96 324.07,94.87 324.29,94.39 324.51,94.32 324.74,94.94 324.96,95.02 325.18,95.87 325.41,95.62 325.63,96.17 325.85,95.98 326.08,95.79 326.30,95.72 326.52,95.09 326.75,95.80 326.97,95.51 327.19,95.72 327.42,95.26 327.64,96.03 327.86,96.32 328.09,96.90 328.31,97.17 328.53,96.14 328.76,95.44 328.98,94.35 329.20,95.59 329.43,95.79 329.65,96.23 329.87,96.03 330.10,96.36 330.32,96.74 330.54,97.64 330.77,97.57 330.99,97.48 331.21,96.66 331.44,97.01 331.66,96.73 331.88,97.25 332.11,97.60 332.33,97.89 332.55,97.96 332.78,98.01 333.00,98.29 333.22,98.01 333.45,97.65 333.67,97.60 333.89,96.74 334.12,96.64 334.34,96.42 334.56,98.12 334.79,98.30 335.01,98.56 335.23,98.20 335.46,98.60 335.68,98.78 335.90,98.84 336.13,98.85 336.35,98.75 336.57,98.42 336.80,98.29 337.02,98.79 337.24,99.09 337.47,99.07 337.69,98.91 337.91,99.49 338.14,99.87 338.36,100.04 338.58,99.67 338.81,99.48 339.03,99.51 339.25,100.03 339.48,100.51 339.70,101.05 339.92,100.54 340.15,100.47 340.37,100.23 340.59,100.51 340.82,100.74 341.04,101.21 341.26,101.62 341.48,101.72 341.71,101.38 341.93,101.31 342.15,101.64 342.38,101.95 342.60,102.13 342.82,102.28 343.05,102.55 343.27,103.07 343.49,103.00 343.72,103.15 343.94,103.20 344.16,103.43 344.39,103.46 344.61,103.48 344.83,103.49 345.06,103.58 345.28,103.72 345.50,103.88 345.73,103.87 345.95,103.91 346.17,104.05 346.40,104.24 346.62,104.36 346.84,104.34 347.07,104.37 347.29,104.38 347.51,104.40 347.74,104.40 347.96,104.40 348.18,104.40 348.41,104.40 348.63,104.40 348.85,104.40 349.08,104.40 349.30,104.40 349.52,104.40 349.75,104.40 349.97,104.40 350.19,104.40 350.42,104.40 350.64,104.40 350.86,104.40 351.09,104.40 351.31,104.40 351.53,104.40 351.76,104.40 351.98,104.40 352.20,104.40 352.43,104.40 352.65,104.40 352.87,104.40 353.10,104.40 353.32,104.40 353.54,104.40 353.77,104.40 353.99,104.40 354.21,104.40 354.44,104.40 354.66,104.40 354.88,104.40 355.11,104.40 355.33,104.40 355.55,104.40 355.78,104.40 356.00,104.40 356.22,104.40 356.45,104.40 356.67,104.40 356.89,104.40 357.12,104.40 357.34,104.40 357.56,104.40 357.79,104.40 358.01,104.40 358.23,104.40 358.46,104.40 358.68,104.40 358.90,104.40 359.13,104.40 359.35,104.40 359.57,104.40 359.80,104.40 360.02,104.40 360.24,104.40 360.47,104.40 360.69,104.40 360.91,104.40 361.14,104.40 361.36,104.40 361.58,104.40 361.81,104.40 362.03,104.40 362.25,104.40 362.48,104.40 362.70,104.40 362.92,104.40 363.15,104.40 363.37,104.40 363.59,104.40 363.82,104.40 364.04,104.40 364.26,104.40 364.49,104.40 364.71,104.40 364.93,104.40 365.16,104.40 365.38,104.40 365.60,104.40 365.83,104.40 366.05,104.40 366.27,104.40 366.50,104.40 366.72,104.40 366.94,104.40 367.17,104.40 367.39,104.40 367.61,104.40 367.84,104.40 368.06,104.40 368.28,104.40 368.51,104.40 368.73,104.40 368.95,104.40 369.18,104.40 369.40,104.40 369.62,104.40 369.85,104.40 370.07,104.40 370.29,104.40 370.52,104.40 370.74,104.40 370.96,104.40 371.18,104.40 371.41,104.40 371.63,104.40 371.85,104.40 372.08,104.40 372.30,104.40 372.52,104.40 372.75,104.40 372.97,104.40 373.19,104.40 373.42,104.40 373.64,104.40 373.86,104.40 374.09,104.40 374.31,104.40 374.53,104.40 374.76,104.40 374.98,104.40 375.20,104.40 375.43,104.40 375.65,104.40 375.87,104.40 376.10,104.40 376.32,104.40 376.54,104.40 376.77,104.40 376.99,104.40 377.21,104.40 377.44,104.40 377.66,104.40 377.88,104.40 378.11,104.40 378.33,104.40 378.55,104.40 378.78,104.40 379.00,104.40 379.22,104.40 379.45,104.40 379.67,104.40 379.89,104.40 380.12,104.40 380.34,104.40 380.56,104.40 380.79,104.40 381.01,104.40 381.23,104.40 381.46,104.40 381.68,104.40 381.90,104.40 382.13,104.40 382.35,104.40 382.57,104.40 382.80,104.40 383.02,104.40 383.24,104.40 383.47,104.40 383.69,104.40 383.91,104.40 384.14,104.40 384.36,104.40 384.58,104.40 384.81,104.40 385.03,104.40 385.25,104.40 385.48,104.40 385.70,104.40 385.70,104.40" fill="#b4b4b4" stroke="#acacac" stroke-width="0.3"/>
<polyline points="296.60,100.98 296.82,100.94 297.05,100.89 297.27,100.84 297.49,100.78 297.72,100.71 297.94,100.64 298.16,100.57 298.39,100.49 298.61,100.40 298.83,100.31 299.06,100.22 299.28,100.12 299.50,100.02 299.73,99.92 299.95,99.81 300.17,99.70 300.40,99.59 300.62,99.47 300.84,99.35 301.07,99.23 301.29,99.11 301.51,98.98 301.74,98.85 301.96,98.72 302.18,98.59 302.41,98.45 302.63,98.32 302.85,98.18 303.08,98.04 303.30,97.90 303.52,97.75 303.75,97.60 303.97,97.45 304.19,97.29 304.42,97.13 304.64,96.96 304.86,96.79 305.09,96.62 305.31,96.44 305.53,96.25 305.76,96.05 305.98,95.86 306.20,95.65 306.43,95.44 306.65,95.22 306.87,94.99 307.10,94.76 307.32,94.52 307.54,94.27 307.77,94.01 307.99,93.74 308.21,93.47 308.44,93.19 308.66,92.90 308.88,92.60 309.11,92.29 309.33,91.97 309.55,91.64 309.78,91.29 310.00,90.94 310.22,90.53 310.45,90.08 310.67,89.59 310.89,89.06 311.12,88.49 311.34,87.89 311.56,87.25 311.78,86.59 312.01,85.90 312.23,85.19 312.45,84.46 312.68,83.71 312.90,82.94 313.12,82.16 313.35,81.38 313.57,80.58 313.79,79.79 314.02,78.96 314.24,78.03 314.46,77.04 314.69,76.00 314.91,74.96 315.13,73.93 315.36,72.95 315.58,72.04 315.80,71.21 316.03,70.42 316.25,69.67 316.47,68.95 316.70,68.25 316.92,67.56 317.14,66.88 317.37,66.20 317.59,65.51 317.81,64.80 318.04,64.07 318.26,63.31 318.48,62.52 318.71,61.67 318.93,60.78 319.15,59.84 319.38,58.86 319.60,57.85 319.82,56.81 320.05,55.74 320.27,54.64 320.49,53.52 320.72,52.39 320.94,51.25 321.16,50.10 321.39,48.95 321.61,47.80 321.83,46.65 322.06,45.52 322.28,44.39 322.50,43.28 322.73,42.20 322.95,41.14 323.17,40.10 323.40,39.05 323.62,37.97 323.84,36.88 324.07,35.77 324.29,34.66 324.51,33.56 324.74,32.48 324.96,31.43 325.18,30.41 325.41,29.44 325.63,28.53 325.85,27.68 326.08,26.90 326.30,26.21 326.52,25.60 326.75,24.99 326.97,24.39 327.19,23.79 327.42,23.22 327.64,22.67 327.86,22.17 328.09,21.72 328.31,21.34 328.53,21.04 328.76,20.83 328.98,20.72 329.20,20.74 329.43,21.01 329.65,21.48 329.87,22.12 330.10,22.89 330.32,23.74 330.54,24.62 330.77,25.50 330.99,26.36 331.21,27.33 331.44,28.41 331.66,29.57 331.88,30.81 332.11,32.09 332.33,33.42 332.55,34.75 332.78,36.09 333.00,37.41 333.22,38.72 333.45,40.09 333.67,41.52 333.89,42.98 334.12,44.45 334.34,45.91 334.56,47.34 334.79,48.71 335.01,50.02 335.23,51.23 335.46,52.38 335.68,53.53 335.90,54.65 336.13,55.71 336.35,56.68 336.57,57.52 336.80,58.21 337.02,58.81 337.24,59.37 337.47,59.81 337.69,59.99 337.91,59.83 338.14,59.35 338.36,58.68 338.58,57.95 338.81,57.27 339.03,56.77 339.25,56.58 339.48,56.60 339.70,56.69 339.92,56.82 340.15,56.99 340.37,57.20 340.59,57.45 340.82,58.17 341.04,59.61 341.26,61.55 341.48,63.81 341.71,66.20 341.93,68.51 342.15,70.55 342.38,72.14 342.60,73.47 342.82,74.73 343.05,75.93 343.27,77.08 343.49,78.17 343.72,79.22 343.94,80.24 344.16,81.22 344.39,82.18 344.61,83.12 344.83,84.04 345.06,84.95 345.28,85.86 345.50,86.77 345.73,87.66 345.95,88.54 346.17,89.41 346.40,90.25 346.62,91.08 346.84,91.89 347.07,92.67 347.29,93.42 347.51,94.14 347.74,94.83 347.96,95.49 348.18,96.11 348.41,96.74 348.63,97.36 348.85,97.99 349.08,98.59 349.30,99.18 349.52,99.73 349.75,100.25 349.97,100.71 350.19,101.12 350.42,101.47 350.64,101.74 350.86,101.94 351.09,102.11 351.31,102.28 351.53,102.43 351.76,102.56 351.98,102.69 352.20,102.81 352.43,102.92 352.65,103.02 352.87,103.11 353.10,103.20 353.32,103.29 353.54,103.37 353.77,103.44 353.99,103.52 354.21,103.60 354.44,103.68 354.66,103.76 354.88,103.84 355.11,103.92 355.33,103.99 355.55,104.06 355.78,104.13 356.00,104.20 356.22,104.25 356.45,104.30 356.67,104.34 356.89,104.37 357.12,104.39 357.34,104.40 357.56,104.40 357.79,104.40 358.01,104.40 358.23,104.40 358.46,104.40 358.68,104.40 358.90,104.40 359.13,104.40 359.35,104.40 359.57,104.40 359.80,104.40 360.02,104.40 360.24,104.40 360.47,104.40 360.69,104.40 360.91,104.40 361.14,104.40 361.36,104.40 361.58,104.40 361.81,104.40 362.03,104.40 362.25,104.40 362.48,104.40 362.70,104.40 362.92,104.40 363.15,104.40 363.37,104.40 363.59,104.40 363.82,104.40 364.04,104.40 364.26,104.40 364.49,104.40 364.71,104.40 364.93,104.40 365.16,104.40 365.38,104.40 365.60,104.40 365.83,104.40 366.05,104.40 366.27,104.40 366.50,104.40 366.72,104.40 366.94,104.40 367.17,104.40 367.39,104.40 367.61,104.40 367.84,104.40 368.06,104.40 368.28,104.40 368.51,104.40 368.73,104.40 368.95,104.40 369.18,104.40 369.40,104.40 369.62,104.40 369.85,104.40 370.07,104.40 370.29,104.40 370.52,104.40 370.74,104.40 370.96,104.40 371.18,104.40 371.41,104.40 371.63,104.40 371.85,104.40 372.08,104.40 372.30,104.40 372.52,104.40 372.75,104.40 372.97,104.40 373.19,104.40 373.42,104.40 373.64,104.40 373.86,104.40 374.09,104.40 374.31,104.40 374.53,104.40 374.76,104.40 374.98,104.40 375.20,104.40 375.43,104.40 375.65,104.40 375.87,104.40 376.10,104.40 376.32,104.40 376.54,104.40 376.77,104.40 376.99,104.40 377.21,104.40 377.44,104.40 377.66,104.40 377.88,104.40 378.11,104.40 378.33,104.40 378.55,104.40 378.78,104.40 379.00,104.40 379.22,104.40 379.45,104.40 379.67,104.40 379.89,104.40 380.12,104.40 380.34,104.40 380.56,104.40 380.79,104.40 381.01,104.40 381.23,104.40 381.46,104.40 381.68,104.40 381.90,104.40 382.13,104.40 382.35,104.40 382.57,104.40 382.80,104.40 383.02,104.40 383.24,104.40 383.47,104.40 383.69,104.40 383.91,104.40 384.14,104.40 384.36,104.40 384.58,104.40 384.81,104.40 385.03,104.40 385.25,104.40 385.48,104.40 385.70,104.40" fill="none" stroke="#6aa488" stroke-width="0.8" stroke-linejoin="round"/>
<polyline points="296.60,97.57 296.82,97.71 297.05,97.85 297.27,97.97 297.49,98.05 297.72,98.08 297.94,98.07 298.16,98.05 298.39,98.02 298.61,97.97 298.83,97.91 299.06,97.85 299.28,97.77 299.50,97.68 299.73,97.59 299.95,97.48 300.17,97.37 300.40,97.25 300.62,97.13 300.84,97.00 301.07,96.86 301.29,96.73 301.51,96.58 301.74,96.44 301.96,96.30 302.18,96.15 302.41,96.00 302.63,95.85 302.85,95.71 303.08,95.56 303.30,95.41 303.52,95.25 303.75,95.09 303.97,94.92 304.19,94.74 304.42,94.55 304.64,94.36 304.86,94.16 305.09,93.96 305.31,93.74 305.53,93.52 305.76,93.29 305.98,93.06 306.20,92.81 306.43,92.56 306.65,92.30 306.87,92.04 307.10,91.76 307.32,91.48 307.54,91.19 307.77,90.89 307.99,90.58 308.21,90.26 308.44,89.94 308.66,89.61 308.88,89.27 309.11,88.92 309.33,88.56 309.55,88.16 309.78,87.73 310.00,87.27 310.22,86.79 310.45,86.27 310.67,85.73 310.89,85.16 311.12,84.58 311.34,83.97 311.56,83.34 311.78,82.69 312.01,82.03 312.23,81.35 312.45,80.66 312.68,79.96 312.90,79.25 313.12,78.54 313.35,77.82 313.57,77.09 313.79,76.36 314.02,75.59 314.24,74.71 314.46,73.76 314.69,72.79 314.91,71.83 315.13,70.93 315.36,70.12 315.58,69.45 315.80,68.88 316.03,68.31 316.25,67.78 316.47,67.29 316.70,66.89 316.92,66.58 317.14,66.40 317.37,66.31 317.59,66.25 317.81,66.20 318.04,66.17 318.26,66.12 318.48,66.06 318.71,65.97 318.93,65.77 319.15,65.43 319.38,64.97 319.60,64.42 319.82,63.81 320.05,63.15 320.27,62.48 320.49,61.70 320.72,60.76 320.94,59.72 321.16,58.61 321.39,57.49 321.61,56.40 321.83,55.32 322.06,54.23 322.28,53.11 322.50,51.95 322.73,50.73 322.95,49.44 323.17,48.02 323.40,46.48 323.62,44.84 323.84,43.14 324.07,41.40 324.29,39.65 324.51,37.92 324.74,36.23 324.96,34.62 325.18,33.12 325.41,31.75 325.63,30.54 325.85,29.35 326.08,28.17 326.30,27.03 326.52,25.95 326.75,24.95 326.97,24.06 327.19,23.29 327.42,22.68 327.64,22.23 327.86,21.81 328.09,21.42 328.31,21.10 328.53,20.86 328.76,20.73 328.98,20.73 329.20,20.88 329.43,21.15 329.65,21.51 329.87,21.95 330.10,22.44 330.32,22.95 330.54,23.46 330.77,23.94 330.99,24.39 331.21,24.82 331.44,25.26 331.66,25.71 331.88,26.17 332.11,26.67 332.33,27.19 332.55,27.76 332.78,28.37 333.00,29.04 333.22,29.81 333.45,30.75 333.67,31.84 333.89,33.03 334.12,34.30 334.34,35.59 334.56,36.88 334.79,38.12 335.01,39.28 335.23,40.36 335.46,41.43 335.68,42.50 335.90,43.57 336.13,44.62 336.35,45.66 336.57,46.68 336.80,47.68 337.02,48.65 337.24,49.59 337.47,50.51 337.69,51.39 337.91,52.22 338.14,52.99 338.36,53.72 338.58,54.41 338.81,55.08 339.03,55.73 339.25,56.38 339.48,57.04 339.70,57.72 339.92,58.43 340.15,59.18 340.37,59.97 340.59,60.83 340.82,61.77 341.04,62.85 341.26,64.12 341.48,65.50 341.71,66.94 341.93,68.37 342.15,69.75 342.38,71.01 342.60,72.10 342.82,73.07 343.05,73.98 343.27,74.84 343.49,75.66 343.72,76.45 343.94,77.21 344.16,77.95 344.39,78.68 344.61,79.41 344.83,80.14 345.06,80.89 345.28,81.66 345.50,82.46 345.73,83.30 345.95,84.18 346.17,85.11 346.40,86.05 346.62,87.02 346.84,87.99 347.07,88.96 347.29,89.92 347.51,90.86 347.74,91.76 347.96,92.63 348.18,93.44 348.41,94.18 348.63,94.87 348.85,95.54 349.08,96.21 349.30,96.87 349.52,97.52 349.75,98.13 349.97,98.72 350.19,99.26 350.42,99.75 350.64,100.19 350.86,100.57 351.09,100.87 351.31,101.11 351.53,101.32 351.76,101.52 351.98,101.71 352.20,101.88 352.43,102.04 352.65,102.19 352.87,102.33 353.10,102.46 353.32,102.58 353.54,102.69 353.77,102.80 353.99,102.90 354.21,103.00 354.44,103.09 354.66,103.18 354.88,103.28 355.11,103.37 355.33,103.46 355.55,103.55 355.78,103.64 356.00,103.73 356.22,103.81 356.45,103.89 356.67,103.97 356.89,104.04 357.12,104.11 357.34,104.17 357.56,104.23 357.79,104.28 358.01,104.32 358.23,104.35 358.46,104.38 358.68,104.39 358.90,104.40 359.13,104.40 359.35,104.40 359.57,104.40 359.80,104.40 360.02,104.40 360.24,104.40 360.47,104.40 360.69,104.40 360.91,104.40 361.14,104.40 361.36,104.40 361.58,104.40 361.81,104.40 362.03,104.40 362.25,104.40 362.48,104.40 362.70,104.40 362.92,104.40 363.15,104.40 363.37,104.40 363.59,104.40 363.82,104.40 364.04,104.40 364.26,104.40 364.49,104.40 364.71,104.40 364.93,104.40 365.16,104.40 365.38,104.40 365.60,104.40 365.83,104.40 366.05,104.40 366.27,104.40 366.50,104.40 366.72,104.40 366.94,104.40 367.17,104.40 367.39,104.40 367.61,104.40 367.84,104.40 368.06,104.40 368.28,104.40 368.51,104.40 368.73,104.40 368.95,104.40 369.18,104.40 369.40,104.40 369.62,104.40 369.85,104.40 370.07,104.40 370.29,104.40 370.52,104.40 370.74,104.40 370.96,104.40 371.18,104.40 371.41,104.40 371.63,104.40 371.85,104.40 372.08,104.40 372.30,104.40 372.52,104.40 372.75,104.40 372.97,104.40 373.19,104.40 373.42,104.40 373.64,104.40 373.86,104.40 374.09,104.40 374.31,104.40 374.53,104.40 374.76,104.40 374.98,104.40 375.20,104.40 375.43,104.40 375.65,104.40 375.87,104.40 376.10,104.40 376.32,104.40 376.54,104.40 376.77,104.40 376.99,104.40 377.21,104.40 377.44,104.40 377.66,104.40 377.88,104.40 378.11,104.40 378.33,104.40 378.55,104.40 378.78,104.40 379.00,104.40 379.22,104.40 379.45,104.40 379.67,104.40 379.89,104.40 380.12,104.40 380.34,104.40 380.56,104.40 380.79,104.40 381.01,104.40 381.23,104.40 381.46,104.40 381.68,104.40 381.90,104.40 382.13,104.40 382.35,104.40 382.57,104.40 382.80,104.40 383.02,104.40 383.24,104.40 383.47,104.40 383.69,104.40 383.91,104.40 384.14,104.40 384.36,104.40 384.58,104.40 384.81,104.40 385.03,104.40 385.25,104.40 385.48,104.40 385.70,104.40" fill="none" stroke="#cc4a52" stroke-width="0.9" stroke-linejoin="round"/>
<polyline points="296.60,101.41 296.82,101.41 297.05,101.41 297.27,101.41 297.49,101.41 297.72,101.41 297.94,101.41 298.16,101.40 298.39,101.38 298.61,101.37 298.83,101.34 299.06,101.31 299.28,101.28 299.50,101.25 299.73,101.21 299.95,101.17 300.17,101.12 300.40,101.08 300.62,101.03 300.84,100.98 301.07,100.93 301.29,100.87 301.51,100.82 301.74,100.77 301.96,100.71 302.18,100.66 302.41,100.59 302.63,100.52 302.85,100.45 303.08,100.37 303.30,100.28 303.52,100.19 303.75,100.10 303.97,100.00 304.19,99.89 304.42,99.78 304.64,99.67 304.86,99.55 305.09,99.44 305.31,99.31 305.53,99.19 305.76,99.06 305.98,98.93 306.20,98.79 306.43,98.66 306.65,98.52 306.87,98.38 307.10,98.24 307.32,98.10 307.54,97.95 307.77,97.81 307.99,97.66 308.21,97.51 308.44,97.35 308.66,97.19 308.88,97.02 309.11,96.84 309.33,96.66 309.55,96.47 309.78,96.28 310.00,96.08 310.22,95.88 310.45,95.67 310.67,95.46 310.89,95.24 311.12,95.02 311.34,94.80 311.56,94.57 311.78,94.34 312.01,94.10 312.23,93.86 312.45,93.62 312.68,93.37 312.90,93.12 313.12,92.86 313.35,92.59 313.57,92.32 313.79,92.04 314.02,91.75 314.24,91.46 314.46,91.16 314.69,90.85 314.91,90.54 315.13,90.21 315.36,89.88 315.58,89.54 315.80,89.18 316.03,88.82 316.25,88.45 316.47,88.07 316.70,87.69 316.92,87.28 317.14,86.87 317.37,86.44 317.59,86.00 317.81,85.53 318.04,85.05 318.26,84.55 318.48,84.03 318.71,83.49 318.93,82.93 319.15,82.34 319.38,81.73 319.60,81.09 319.82,80.43 320.05,79.70 320.27,78.88 320.49,78.00 320.72,77.07 320.94,76.10 321.16,75.11 321.39,74.13 321.61,73.15 321.83,72.16 322.06,71.14 322.28,70.10 322.50,69.04 322.73,67.98 322.95,66.93 323.17,65.88 323.40,64.87 323.62,63.94 323.84,63.05 324.07,62.12 324.29,61.05 324.51,59.72 324.74,57.91 324.96,55.65 325.18,53.06 325.41,50.28 325.63,47.44 325.85,44.65 326.08,42.07 326.30,39.80 326.52,37.95 326.75,36.23 326.97,34.56 327.19,32.97 327.42,31.46 327.64,30.03 327.86,28.70 328.09,27.49 328.31,26.39 328.53,25.41 328.76,24.56 328.98,23.70 329.20,22.86 329.43,22.10 329.65,21.45 329.87,20.98 330.10,20.73 330.32,20.75 330.54,20.99 330.77,21.43 330.99,22.03 331.21,22.76 331.44,23.59 331.66,24.49 331.88,25.42 332.11,26.36 332.33,27.26 332.55,28.14 332.78,29.13 333.00,30.21 333.22,31.36 333.45,32.56 333.67,33.77 333.89,34.99 334.12,36.18 334.34,37.33 334.56,38.41 334.79,39.43 335.01,40.43 335.23,41.42 335.46,42.40 335.68,43.36 335.90,44.31 336.13,45.25 336.35,46.17 336.57,47.08 336.80,47.97 337.02,48.85 337.24,49.71 337.47,50.56 337.69,51.39 337.91,52.18 338.14,52.93 338.36,53.62 338.58,54.29 338.81,54.94 339.03,55.58 339.25,56.22 339.48,56.88 339.70,57.56 339.92,58.28 340.15,59.05 340.37,59.88 340.59,60.78 340.82,61.77 341.04,62.98 341.26,64.45 341.48,66.08 341.71,67.76 341.93,69.39 342.15,70.87 342.38,72.10 342.60,73.17 342.82,74.17 343.05,75.11 343.27,75.99 343.49,76.84 343.72,77.65 343.94,78.44 344.16,79.22 344.39,80.00 344.61,80.79 344.83,81.59 345.06,82.42 345.28,83.29 345.50,84.20 345.73,85.14 345.95,86.09 346.17,87.06 346.40,88.03 346.62,89.00 346.84,89.95 347.07,90.87 347.29,91.77 347.51,92.62 347.74,93.42 347.96,94.17 348.18,94.85 348.41,95.53 348.63,96.20 348.85,96.86 349.08,97.50 349.30,98.12 349.52,98.70 349.75,99.25 349.97,99.74 350.19,100.18 350.42,100.56 350.64,100.87 350.86,101.11 351.09,101.32 351.31,101.52 351.53,101.71 351.76,101.88 351.98,102.04 352.20,102.19 352.43,102.33 352.65,102.46 352.87,102.58 353.10,102.69 353.32,102.80 353.54,102.90 353.77,103.00 353.99,103.09 354.21,103.18 354.44,103.27 354.66,103.37 354.88,103.46 355.11,103.55 355.33,103.64 355.55,103.73 355.78,103.81 356.00,103.89 356.22,103.97 356.45,104.04 356.67,104.11 356.89,104.17 357.12,104.23 357.34,104.28 357.56,104.32 357.79,104.35 358.01,104.38 358.23,104.39 358.46,104.40 358.68,104.40 358.90,104.40 359.13,104.40 359.35,104.40 359.57,104.40 359.80,104.40 360.02,104.40 360.24,104.40 360.47,104.40 360.69,104.40 360.91,104.40 361.14,104.40 361.36,104.40 361.58,104.40 361.81,104.40 362.03,104.40 362.25,104.40 362.48,104.40 362.70,104.40 362.92,104.40 363.15,104.40 363.37,104.40 363.59,104.40 363.82,104.40 364.04,104.40 364.26,104.40 364.49,104.40 364.71,104.40 364.93,104.40 365.16,104.40 365.38,104.40 365.60,104.40 365.83,104.40 366.05,104.40 366.27,104.40 366.50,104.40 366.72,104.40 366.94,104.40 367.17,104.40 367.39,104.40 367.61,104.40 367.84,104.40 368.06,104.40 368.28,104.40 368.51,104.40 368.73,104.40 368.95,104.40 369.18,104.40 369.40,104.40 369.62,104.40 369.85,104.40 370.07,104.40 370.29,104.40 370.52,104.40 370.74,104.40 370.96,104.40 371.18,104.40 371.41,104.40 371.63,104.40 371.85,104.40 372.08,104.40 372.30,104.40 372.52,104.40 372.75,104.40 372.97,104.40 373.19,104.40 373.42,104.40 373.64,104.40 373.86,104.40 374.09,104.40 374.31,104.40 374.53,104.40 374.76,104.40 374.98,104.40 375.20,104.40 375.43,104.40 375.65,104.40 375.87,104.40 376.10,104.40 376.32,104.40 376.54,104.40 376.77,104.40 376.99,104.40 377.21,104.40 377.44,104.40 377.66,104.40 377.88,104.40 378.11,104.40 378.33,104.40 378.55,104.40 378.78,104.40 379.00,104.40 379.22,104.40 379.45,104.40 379.67,104.40 379.89,104.40 380.12,104.40 380.34,104.40 380.56,104.40 380.79,104.40 381.01,104.40 381.23,104.40 381.46,104.40 381.68,104.40 381.90,104.40 382.13,104.40 382.35,104.40 382.57,104.40 382.80,104.40 383.02,104.40 383.24,104.40 383.47,104.40 383.69,104.40 383.91,104.40 384.14,104.40 384.36,104.40 384.58,104.40 384.81,104.40 385.03,104.40 385.25,104.40 385.48,104.40 385.70,104.40" fill="none" stroke="#1a1a1a" stroke-width="0.8" stroke-linejoin="round"/>
<line x1="297.20" y1="104.40" x2="297.20" y2="57.43" stroke="#d05a62" stroke-width="0.9" />
<rect x="296.50" y="14.90" width="89.20" height="89.50" fill="none" stroke="#7a7a7a" stroke-width="0.9"/>
<line x1="296.50" y1="14.90" x2="296.50" y2="104.40" stroke="#444" stroke-width="0.9" />
<line x1="296.50" y1="104.40" x2="385.70" y2="104.40" stroke="#222" stroke-width="1.1" />
<line x1="294.90" y1="104.40" x2="296.50" y2="104.40" stroke="#444" stroke-width="0.7" />
<text x="293.50" y="105.90" font-size="4.3" text-anchor="end" fill="#555" stroke="#555" stroke-width="0.2">0</text>
<line x1="294.90" y1="87.32" x2="296.50" y2="87.32" stroke="#444" stroke-width="0.7" />
<text x="293.50" y="88.82" font-size="4.3" text-anchor="end" fill="#555" stroke="#555" stroke-width="0.2">20</text>
<line x1="294.90" y1="70.24" x2="296.50" y2="70.24" stroke="#444" stroke-width="0.7" />
<text x="293.50" y="71.74" font-size="4.3" text-anchor="end" fill="#555" stroke="#555" stroke-width="0.2">40</text>
<line x1="294.90" y1="53.16" x2="296.50" y2="53.16" stroke="#444" stroke-width="0.7" />
<text x="293.50" y="54.66" font-size="4.3" text-anchor="end" fill="#555" stroke="#555" stroke-width="0.2">60</text>
<line x1="294.90" y1="36.08" x2="296.50" y2="36.08" stroke="#444" stroke-width="0.7" />
<text x="293.50" y="37.58" font-size="4.3" text-anchor="end" fill="#555" stroke="#555" stroke-width="0.2">80</text>
<line x1="294.90" y1="19.00" x2="296.50" y2="19.00" stroke="#444" stroke-width="0.7" />
<text x="293.50" y="20.50" font-size="4.3" text-anchor="end" fill="#555" stroke="#555" stroke-width="0.2">100</text>
<line x1="295.60" y1="104.40" x2="296.50" y2="104.40" stroke="#666" stroke-width="0.5" />
<line x1="295.60" y1="100.13" x2="296.50" y2="100.13" stroke="#666" stroke-width="0.5" />
<line x1="295.60" y1="95.86" x2="296.50" y2="95.86" stroke="#666" stroke-width="0.5" />
<line x1="295.60" y1="91.59" x2="296.50" y2="91.59" stroke="#666" stroke-width="0.5" />
<line x1="295.60" y1="87.32" x2="296.50" y2="87.32" stroke="#666" stroke-width="0.5" />
<line x1="295.60" y1="83.05" x2="296.50" y2="83.05" stroke="#666" stroke-width="0.5" />
<line x1="295.60" y1="78.78" x2="296.50" y2="78.78" stroke="#666" stroke-width="0.5" />
<line x1="295.60" y1="74.51" x2="296.50" y2="74.51" stroke="#666" stroke-width="0.5" />
<line x1="295.60" y1="70.24" x2="296.50" y2="70.24" stroke="#666" stroke-width="0.5" />
<line x1="295.60" y1="65.97" x2="296.50" y2="65.97" stroke="#666" stroke-width="0.5" />
<line x1="295.60" y1="61.70" x2="296.50" y2="61.70" stroke="#666" stroke-width="0.5" />
<line x1="295.60" y1="57.43" x2="296.50" y2="57.43" stroke="#666" stroke-width="0.5" />
<line x1="295.60" y1="53.16" x2="296.50" y2="53.16" stroke="#666" stroke-width="0.5" />
<line x1="295.60" y1="48.89" x2="296.50" y2="48.89" stroke="#666" stroke-width="0.5" />
<line x1="295.60" y1="44.62" x2="296.50" y2="44.62" stroke="#666" stroke-width="0.5" />
<line x1="295.60" y1="40.35" x2="296.50" y2="40.35" stroke="#666" stroke-width="0.5" />
<line x1="295.60" y1="36.08" x2="296.50" y2="36.08" stroke="#666" stroke-width="0.5" />
<line x1="295.60" y1="31.81" x2="296.50" y2="31.81" stroke="#666" stroke-width="0.5" />
<line x1="295.60" y1="27.54" x2="296.50" y2="27.54" stroke="#666" stroke-width="0.5" />
<line x1="295.60" y1="23.27" x2="296.50" y2="23.27" stroke="#666" stroke-width="0.5" />
<line x1="295.60" y1="19.00" x2="296.50" y2="19.00" stroke="#666" stroke-width="0.5" />
<line x1="296.60" y1="104.40" x2="296.60" y2="106.00" stroke="#333" stroke-width="0.7" />
<text x="296.40" y="112.80" font-size="3.7" text-anchor="middle" fill="#555" stroke="#555" stroke-width="0.2">10<tspan dy="-1.8" font-size="2.78">0</tspan></text>
<line x1="303.25" y1="104.40" x2="303.25" y2="105.40" stroke="#555" stroke-width="0.5" />
<line x1="307.14" y1="104.40" x2="307.14" y2="105.40" stroke="#555" stroke-width="0.5" />
<line x1="309.91" y1="104.40" x2="309.91" y2="105.40" stroke="#555" stroke-width="0.5" />
<line x1="312.05" y1="104.40" x2="312.05" y2="105.40" stroke="#555" stroke-width="0.5" />
<line x1="313.80" y1="104.40" x2="313.80" y2="105.40" stroke="#555" stroke-width="0.5" />
<line x1="315.28" y1="104.40" x2="315.28" y2="105.40" stroke="#555" stroke-width="0.5" />
<line x1="316.56" y1="104.40" x2="316.56" y2="105.40" stroke="#555" stroke-width="0.5" />
<line x1="317.69" y1="104.40" x2="317.69" y2="105.40" stroke="#555" stroke-width="0.5" />
<line x1="318.70" y1="104.40" x2="318.70" y2="106.00" stroke="#333" stroke-width="0.7" />
<text x="318.50" y="112.80" font-size="3.7" text-anchor="middle" fill="#555" stroke="#555" stroke-width="0.2">10<tspan dy="-1.8" font-size="2.78">1</tspan></text>
<line x1="325.35" y1="104.40" x2="325.35" y2="105.40" stroke="#555" stroke-width="0.5" />
<line x1="329.24" y1="104.40" x2="329.24" y2="105.40" stroke="#555" stroke-width="0.5" />
<line x1="332.01" y1="104.40" x2="332.01" y2="105.40" stroke="#555" stroke-width="0.5" />
<line x1="334.15" y1="104.40" x2="334.15" y2="105.40" stroke="#555" stroke-width="0.5" />
<line x1="335.90" y1="104.40" x2="335.90" y2="105.40" stroke="#555" stroke-width="0.5" />
<line x1="337.38" y1="104.40" x2="337.38" y2="105.40" stroke="#555" stroke-width="0.5" />
<line x1="338.66" y1="104.40" x2="338.66" y2="105.40" stroke="#555" stroke-width="0.5" />
<line x1="339.79" y1="104.40" x2="339.79" y2="105.40" stroke="#555" stroke-width="0.5" />
<line x1="340.80" y1="104.40" x2="340.80" y2="106.00" stroke="#333" stroke-width="0.7" />
<text x="340.60" y="112.80" font-size="3.7" text-anchor="middle" fill="#555" stroke="#555" stroke-width="0.2">10<tspan dy="-1.8" font-size="2.78">2</tspan></text>
<line x1="347.45" y1="104.40" x2="347.45" y2="105.40" stroke="#555" stroke-width="0.5" />
<line x1="351.34" y1="104.40" x2="351.34" y2="105.40" stroke="#555" stroke-width="0.5" />
<line x1="354.11" y1="104.40" x2="354.11" y2="105.40" stroke="#555" stroke-width="0.5" />
<line x1="356.25" y1="104.40" x2="356.25" y2="105.40" stroke="#555" stroke-width="0.5" />
<line x1="358.00" y1="104.40" x2="358.00" y2="105.40" stroke="#555" stroke-width="0.5" />
<line x1="359.48" y1="104.40" x2="359.48" y2="105.40" stroke="#555" stroke-width="0.5" />
<line x1="360.76" y1="104.40" x2="360.76" y2="105.40" stroke="#555" stroke-width="0.5" />
<line x1="361.89" y1="104.40" x2="361.89" y2="105.40" stroke="#555" stroke-width="0.5" />
<line x1="362.90" y1="104.40" x2="362.90" y2="106.00" stroke="#333" stroke-width="0.7" />
<text x="362.70" y="112.80" font-size="3.7" text-anchor="middle" fill="#555" stroke="#555" stroke-width="0.2">10<tspan dy="-1.8" font-size="2.78">3</tspan></text>
<line x1="369.55" y1="104.40" x2="369.55" y2="105.40" stroke="#555" stroke-width="0.5" />
<line x1="373.44" y1="104.40" x2="373.44" y2="105.40" stroke="#555" stroke-width="0.5" />
<line x1="376.21" y1="104.40" x2="376.21" y2="105.40" stroke="#555" stroke-width="0.5" />
<line x1="378.35" y1="104.40" x2="378.35" y2="105.40" stroke="#555" stroke-width="0.5" />
<line x1="380.10" y1="104.40" x2="380.10" y2="105.40" stroke="#555" stroke-width="0.5" />
<line x1="381.58" y1="104.40" x2="381.58" y2="105.40" stroke="#555" stroke-width="0.5" />
<line x1="382.86" y1="104.40" x2="382.86" y2="105.40" stroke="#555" stroke-width="0.5" />
<line x1="383.99" y1="104.40" x2="383.99" y2="105.40" stroke="#555" stroke-width="0.5" />
<line x1="385.00" y1="104.40" x2="385.00" y2="106.00" stroke="#333" stroke-width="0.7" />
<text x="384.80" y="112.80" font-size="3.7" text-anchor="middle" fill="#555" stroke="#555" stroke-width="0.2">10<tspan dy="-1.8" font-size="2.78">4</tspan></text>
<text x="341.00" y="120.90" font-size="7.6" text-anchor="middle" font-weight="normal" font-style="normal" fill="#111" stroke="#111" stroke-width="0.28" >FL1-H: pSTAT Alexa488</text>
<text transform="translate(283.3,56.2) rotate(-90)" font-size="7.7" text-anchor="middle" fill="#222" stroke="#222" stroke-width="0.28">% of max</text>
<polygon points="34.80,244.30 34.80,220.42 35.03,219.32 35.25,220.42 35.48,220.37 35.70,220.18 35.93,219.08 36.15,218.73 36.38,218.05 36.60,217.59 36.83,217.20 37.05,216.10 37.28,214.78 37.50,212.70 37.73,212.21 37.95,211.92 38.18,212.05 38.40,211.85 38.63,210.25 38.85,209.45 39.08,208.19 39.30,207.62 39.53,205.22 39.75,203.34 39.98,202.54 40.20,202.46 40.43,201.11 40.65,199.54 40.88,198.47 41.10,197.82 41.33,196.27 41.55,193.71 41.78,193.18 42.00,192.87 42.23,193.35 42.45,192.95 42.68,192.06 42.90,191.12 43.13,187.98 43.35,186.40 43.58,185.60 43.80,184.72 44.03,183.66 44.25,182.50 44.48,182.00 44.70,180.85 44.93,178.97 45.15,177.19 45.38,176.71 45.60,174.54 45.83,171.94 46.05,167.86 46.28,164.95 46.50,163.04 46.73,161.03 46.95,161.38 47.18,160.59 47.40,162.01 47.63,160.86 47.85,162.29 48.08,160.05 48.30,159.00 48.53,159.00 48.75,159.00 48.98,160.92 49.20,161.74 49.43,164.44 49.65,166.89 49.88,169.26 50.10,170.81 50.33,173.46 50.55,175.55 50.78,179.14 51.00,179.69 51.23,182.22 51.45,184.00 51.68,186.91 51.90,189.28 52.13,192.65 52.35,194.42 52.58,197.44 52.81,198.71 53.03,201.20 53.26,202.88 53.48,204.81 53.71,206.45 53.93,208.10 54.16,210.78 54.38,215.11 54.61,218.54 54.83,221.61 55.06,223.68 55.28,226.16 55.51,228.22 55.73,230.35 55.96,231.76 56.18,232.85 56.41,233.96 56.63,234.94 56.86,235.43 57.08,235.79 57.31,236.65 57.53,237.63 57.76,238.10 57.98,237.96 58.21,238.24 58.43,238.73 58.66,239.34 58.88,239.49 59.11,239.57 59.33,239.74 59.56,240.06 59.78,240.35 60.01,240.33 60.23,240.57 60.46,240.60 60.68,240.75 60.91,240.75 61.13,241.10 61.36,241.21 61.58,241.55 61.81,241.59 62.03,242.04 62.26,242.36 62.48,242.57 62.71,242.66 62.93,242.69 63.16,242.89 63.38,243.16 63.61,243.39 63.83,243.59 64.06,243.58 64.28,243.66 64.51,243.83 64.73,244.01 64.96,244.16 65.18,244.23 65.41,244.27 65.63,244.30 65.86,244.30 66.08,244.30 66.31,244.30 66.53,244.30 66.76,244.30 66.98,244.30 67.21,244.30 67.43,244.30 67.66,244.30 67.88,244.30 68.11,244.30 68.33,244.30 68.56,244.30 68.78,244.30 69.01,244.30 69.23,244.30 69.46,244.30 69.68,244.30 69.91,244.30 70.13,244.30 70.36,244.30 70.58,244.30 70.81,244.30 71.04,244.30 71.26,244.30 71.49,244.30 71.71,244.30 71.94,244.30 72.16,244.30 72.39,244.30 72.61,244.30 72.84,244.30 73.06,244.30 73.29,244.30 73.51,244.30 73.74,244.30 73.96,244.30 74.19,244.30 74.41,244.30 74.64,244.30 74.86,244.30 75.09,244.30 75.31,244.30 75.54,244.30 75.76,244.30 75.99,244.30 76.21,244.30 76.44,244.30 76.66,244.30 76.89,244.30 77.11,244.30 77.34,244.30 77.56,244.30 77.79,244.30 78.01,244.30 78.24,244.30 78.46,244.30 78.69,244.30 78.91,244.30 79.14,244.30 79.36,244.30 79.59,244.30 79.81,244.30 80.04,244.30 80.26,244.30 80.49,244.30 80.71,244.30 80.94,244.30 81.16,244.30 81.39,244.30 81.61,244.30 81.84,244.30 82.06,244.30 82.29,244.30 82.51,244.30 82.74,244.30 82.96,244.30 83.19,244.30 83.41,244.30 83.64,244.30 83.86,244.30 84.09,244.30 84.31,244.30 84.54,244.30 84.76,244.30 84.99,244.30 85.21,244.30 85.44,244.30 85.66,244.30 85.89,244.30 86.11,244.30 86.34,244.30 86.56,244.30 86.79,244.30 87.01,244.30 87.24,244.30 87.46,244.30 87.69,244.30 87.91,244.30 88.14,244.30 88.36,244.30 88.59,244.30 88.82,244.30 89.04,244.30 89.27,244.30 89.49,244.30 89.72,244.30 89.94,244.30 90.17,244.30 90.39,244.30 90.62,244.30 90.84,244.30 91.07,244.30 91.29,244.30 91.52,244.30 91.74,244.30 91.97,244.30 92.19,244.30 92.42,244.30 92.64,244.30 92.87,244.30 93.09,244.30 93.32,244.30 93.54,244.30 93.77,244.30 93.99,244.30 94.22,244.30 94.44,244.30 94.67,244.30 94.89,244.30 95.12,244.30 95.34,244.30 95.57,244.30 95.79,244.30 96.02,244.30 96.24,244.30 96.47,244.30 96.69,244.30 96.92,244.30 97.14,244.30 97.37,244.30 97.59,244.30 97.82,244.30 98.04,244.30 98.27,244.30 98.49,244.30 98.72,244.30 98.94,244.30 99.17,244.30 99.39,244.30 99.62,244.30 99.84,244.30 100.07,244.30 100.29,244.30 100.52,244.30 100.74,244.30 100.97,244.30 101.19,244.30 101.42,244.30 101.64,244.30 101.87,244.30 102.09,244.30 102.32,244.30 102.54,244.30 102.77,244.30 102.99,244.30 103.22,244.30 103.44,244.30 103.67,244.30 103.89,244.30 104.12,244.30 104.34,244.30 104.57,244.30 104.79,244.30 105.02,244.30 105.24,244.30 105.47,244.30 105.69,244.30 105.92,244.30 106.14,244.30 106.37,244.30 106.59,244.30 106.82,244.30 107.05,244.30 107.27,244.30 107.50,244.30 107.72,244.30 107.95,244.30 108.17,244.30 108.40,244.30 108.62,244.30 108.85,244.30 109.07,244.30 109.30,244.30 109.52,244.30 109.75,244.30 109.97,244.30 110.20,244.30 110.42,244.30 110.65,244.30 110.87,244.30 111.10,244.30 111.32,244.30 111.55,244.30 111.77,244.30 112.00,244.30 112.22,244.30 112.45,244.30 112.67,244.30 112.90,244.30 113.12,244.30 113.35,244.30 113.57,244.30 113.80,244.30 114.02,244.30 114.25,244.30 114.47,244.30 114.70,244.30 114.92,244.30 115.15,244.30 115.37,244.30 115.60,244.30 115.82,244.30 116.05,244.30 116.27,244.30 116.50,244.30 116.72,244.30 116.95,244.30 117.17,244.30 117.40,244.30 117.62,244.30 117.85,244.30 118.07,244.30 118.30,244.30 118.52,244.30 118.75,244.30 118.97,244.30 119.20,244.30 119.42,244.30 119.65,244.30 119.87,244.30 120.10,244.30 120.32,244.30 120.55,244.30 120.77,244.30 121.00,244.30 121.22,244.30 121.45,244.30 121.67,244.30 121.90,244.30 122.12,244.30 122.35,244.30 122.57,244.30 122.80,244.30 123.02,244.30 123.25,244.30 123.47,244.30 123.70,244.30 123.92,244.30 124.15,244.30 124.37,244.30 124.60,244.30 124.60,244.30" fill="#b4b4b4" stroke="#acacac" stroke-width="0.3"/>
<polyline points="34.80,243.62 35.03,243.60 35.25,243.57 35.48,243.55 35.70,243.52 35.93,243.50 36.15,243.47 36.38,243.44 36.60,243.41 36.83,243.38 37.05,243.35 37.28,243.31 37.50,243.28 37.73,243.24 37.95,243.21 38.18,243.17 38.40,243.13 38.63,243.09 38.85,243.05 39.08,243.01 39.30,242.97 39.53,242.93 39.75,242.89 39.98,242.84 40.20,242.80 40.43,242.75 40.65,242.71 40.88,242.66 41.10,242.62 41.33,242.57 41.55,242.52 41.78,242.47 42.00,242.42 42.23,242.36 42.45,242.31 42.68,242.25 42.90,242.19 43.13,242.13 43.35,242.07 43.58,242.00 43.80,241.94 44.03,241.87 44.25,241.81 44.48,241.74 44.70,241.67 44.93,241.60 45.15,241.53 45.38,241.45 45.60,241.38 45.83,241.31 46.05,241.23 46.28,241.16 46.50,241.08 46.73,241.00 46.95,240.92 47.18,240.85 47.40,240.77 47.63,240.69 47.85,240.61 48.08,240.53 48.30,240.45 48.53,240.37 48.75,240.29 48.98,240.21 49.20,240.13 49.43,240.05 49.65,239.97 49.88,239.89 50.10,239.81 50.33,239.72 50.55,239.64 50.78,239.55 51.00,239.47 51.23,239.38 51.45,239.29 51.68,239.20 51.90,239.11 52.13,239.01 52.35,238.92 52.58,238.82 52.81,238.73 53.03,238.63 53.26,238.52 53.48,238.42 53.71,238.32 53.93,238.21 54.16,238.10 54.38,237.99 54.61,237.87 54.83,237.76 55.06,237.64 55.28,237.52 55.51,237.39 55.73,237.26 55.96,237.13 56.18,236.98 56.41,236.84 56.63,236.69 56.86,236.53 57.08,236.37 57.31,236.21 57.53,236.04 57.76,235.86 57.98,235.68 58.21,235.50 58.43,235.31 58.66,235.12 58.88,234.92 59.11,234.73 59.33,234.55 59.56,234.37 59.78,234.20 60.01,234.01 60.23,233.82 60.46,233.62 60.68,233.40 60.91,233.15 61.13,232.88 61.36,232.57 61.58,232.23 61.81,231.84 62.03,231.40 62.26,230.75 62.48,229.84 62.71,228.70 62.93,227.35 63.16,225.81 63.38,224.05 63.61,221.44 63.83,218.17 64.06,214.71 64.28,211.46 64.51,208.13 64.73,204.76 64.96,201.53 65.18,198.58 65.41,195.81 65.63,193.15 65.86,190.59 66.08,188.09 66.31,185.63 66.53,183.19 66.76,180.74 66.98,178.24 67.21,175.68 67.43,172.84 67.66,169.85 67.88,167.00 68.11,164.60 68.33,162.93 68.56,161.55 68.78,160.43 69.01,159.87 69.23,160.12 69.46,161.05 69.68,162.36 69.91,163.80 70.13,165.54 70.36,167.76 70.58,170.52 70.81,173.91 71.04,178.50 71.26,186.78 71.49,196.08 71.71,203.35 71.94,209.47 72.16,214.60 72.39,219.38 72.61,222.96 72.84,224.76 73.06,226.15 73.29,227.23 73.51,227.91 73.74,228.09 73.96,228.07 74.19,228.01 74.41,227.94 74.64,227.86 74.86,227.78 75.09,227.72 75.31,227.68 75.54,227.67 75.76,227.70 75.99,227.76 76.21,227.85 76.44,227.97 76.66,228.10 76.89,228.26 77.11,228.43 77.34,228.62 77.56,228.95 77.79,229.40 78.01,229.94 78.24,230.53 78.46,231.12 78.69,231.69 78.91,232.19 79.14,232.61 79.36,233.02 79.59,233.42 79.81,233.81 80.04,234.20 80.26,234.58 80.49,234.96 80.71,235.33 80.94,235.68 81.16,236.03 81.39,236.38 81.61,236.71 81.84,237.03 82.06,237.34 82.29,237.65 82.51,237.94 82.74,238.22 82.96,238.49 83.19,238.74 83.41,238.99 83.64,239.24 83.86,239.48 84.09,239.71 84.31,239.95 84.54,240.17 84.76,240.39 84.99,240.61 85.21,240.82 85.44,241.02 85.66,241.21 85.89,241.40 86.11,241.58 86.34,241.75 86.56,241.91 86.79,242.06 87.01,242.20 87.24,242.34 87.46,242.46 87.69,242.57 87.91,242.69 88.14,242.80 88.36,242.90 88.59,243.00 88.82,243.10 89.04,243.19 89.27,243.28 89.49,243.36 89.72,243.44 89.94,243.52 90.17,243.59 90.39,243.66 90.62,243.73 90.84,243.79 91.07,243.85 91.29,243.91 91.52,243.97 91.74,244.03 91.97,244.08 92.19,244.14 92.42,244.19 92.64,244.23 92.87,244.27 93.09,244.29 93.32,244.30 93.54,244.30 93.77,244.30 93.99,244.30 94.22,244.30 94.44,244.30 94.67,244.30 94.89,244.30 95.12,244.30 95.34,244.30 95.57,244.30 95.79,244.30 96.02,244.30 96.24,244.30 96.47,244.30 96.69,244.30 96.92,244.30 97.14,244.30 97.37,244.30 97.59,244.30 97.82,244.30 98.04,244.30 98.27,244.30 98.49,244.30 98.72,244.30 98.94,244.30 99.17,244.30 99.39,244.30 99.62,244.30 99.84,244.30 100.07,244.30 100.29,244.30 100.52,244.30 100.74,244.30 100.97,244.30 101.19,244.30 101.42,244.30 101.64,244.30 101.87,244.30 102.09,244.30 102.32,244.30 102.54,244.30 102.77,244.30 102.99,244.30 103.22,244.30 103.44,244.30 103.67,244.30 103.89,244.30 104.12,244.30 104.34,244.30 104.57,244.30 104.79,244.30 105.02,244.30 105.24,244.30 105.47,244.30 105.69,244.30 105.92,244.30 106.14,244.30 106.37,244.30 106.59,244.30 106.82,244.30 107.05,244.30 107.27,244.30 107.50,244.30 107.72,244.30 107.95,244.30 108.17,244.30 108.40,244.30 108.62,244.30 108.85,244.30 109.07,244.30 109.30,244.30 109.52,244.30 109.75,244.30 109.97,244.30 110.20,244.30 110.42,244.30 110.65,244.30 110.87,244.30 111.10,244.30 111.32,244.30 111.55,244.30 111.77,244.30 112.00,244.30 112.22,244.30 112.45,244.30 112.67,244.30 112.90,244.30 113.12,244.30 113.35,244.30 113.57,244.30 113.80,244.30 114.02,244.30 114.25,244.30 114.47,244.30 114.70,244.30 114.92,244.30 115.15,244.30 115.37,244.30 115.60,244.30 115.82,244.30 116.05,244.30 116.27,244.30 116.50,244.30 116.72,244.30 116.95,244.30 117.17,244.30 117.40,244.30 117.62,244.30 117.85,244.30 118.07,244.30 118.30,244.30 118.52,244.30 118.75,244.30 118.97,244.30 119.20,244.30 119.42,244.30 119.65,244.30 119.87,244.30 120.10,244.30 120.32,244.30 120.55,244.30 120.77,244.30 121.00,244.30 121.22,244.30 121.45,244.30 121.67,244.30 121.90,244.30 122.12,244.30 122.35,244.30 122.57,244.30 122.80,244.30 123.02,244.30 123.25,244.30 123.47,244.30 123.70,244.30 123.92,244.30 124.15,244.30 124.37,244.30 124.60,244.30" fill="none" stroke="#7fb0a0" stroke-width="0.8" stroke-linejoin="round"/>
<polyline points="34.80,243.45 35.03,243.42 35.25,243.39 35.48,243.37 35.70,243.34 35.93,243.31 36.15,243.27 36.38,243.24 36.60,243.20 36.83,243.17 37.05,243.13 37.28,243.09 37.50,243.05 37.73,243.01 37.95,242.97 38.18,242.92 38.40,242.88 38.63,242.83 38.85,242.79 39.08,242.74 39.30,242.69 39.53,242.64 39.75,242.59 39.98,242.54 40.20,242.49 40.43,242.44 40.65,242.39 40.88,242.33 41.10,242.28 41.33,242.22 41.55,242.17 41.78,242.11 42.00,242.05 42.23,241.98 42.45,241.91 42.68,241.85 42.90,241.78 43.13,241.70 43.35,241.63 43.58,241.55 43.80,241.48 44.03,241.40 44.25,241.32 44.48,241.24 44.70,241.16 44.93,241.07 45.15,240.99 45.38,240.90 45.60,240.82 45.83,240.73 46.05,240.64 46.28,240.56 46.50,240.47 46.73,240.38 46.95,240.29 47.18,240.21 47.40,240.12 47.63,240.03 47.85,239.94 48.08,239.86 48.30,239.77 48.53,239.68 48.75,239.60 48.98,239.51 49.20,239.43 49.43,239.34 49.65,239.26 49.88,239.17 50.10,239.09 50.33,239.00 50.55,238.92 50.78,238.83 51.00,238.74 51.23,238.65 51.45,238.56 51.68,238.47 51.90,238.38 52.13,238.29 52.35,238.20 52.58,238.10 52.81,238.01 53.03,237.91 53.26,237.81 53.48,237.71 53.71,237.61 53.93,237.50 54.16,237.40 54.38,237.29 54.61,237.18 54.83,237.07 55.06,236.95 55.28,236.83 55.51,236.71 55.73,236.59 55.96,236.46 56.18,236.33 56.41,236.19 56.63,236.06 56.86,235.91 57.08,235.77 57.31,235.61 57.53,235.46 57.76,235.30 57.98,235.13 58.21,234.96 58.43,234.78 58.66,234.60 58.88,234.41 59.11,234.22 59.33,234.05 59.56,233.87 59.78,233.69 60.01,233.50 60.23,233.31 60.46,233.10 60.68,232.87 60.91,232.61 61.13,232.33 61.36,232.01 61.58,231.65 61.81,231.25 62.03,230.80 62.26,230.13 62.48,229.18 62.71,227.99 62.93,226.58 63.16,224.99 63.38,223.17 63.61,220.47 63.83,217.14 64.06,213.73 64.28,210.75 64.51,207.97 64.73,205.28 64.96,202.63 65.18,199.99 65.41,197.37 65.63,194.78 65.86,192.22 66.08,189.67 66.31,187.14 66.53,184.60 66.76,182.07 66.98,179.52 67.21,176.95 67.43,174.28 67.66,171.36 67.88,168.43 68.11,165.77 68.33,163.68 68.56,162.13 68.78,160.71 69.01,159.71 69.23,159.45 69.46,160.14 69.68,161.47 69.91,163.06 70.13,164.72 70.36,166.72 70.58,169.17 70.81,172.19 71.04,175.90 71.26,182.37 71.49,191.61 71.71,200.04 71.94,206.60 72.16,212.14 72.39,217.11 72.61,221.42 72.84,224.00 73.06,225.49 73.29,226.69 73.51,227.45 73.74,227.67 73.96,227.64 74.19,227.59 74.41,227.51 74.64,227.43 74.86,227.35 75.09,227.29 75.31,227.25 75.54,227.24 75.76,227.27 75.99,227.33 76.21,227.42 76.44,227.54 76.66,227.68 76.89,227.83 77.11,228.00 77.34,228.20 77.56,228.53 77.79,229.00 78.01,229.55 78.24,230.15 78.46,230.76 78.69,231.34 78.91,231.85 79.14,232.27 79.36,232.67 79.59,233.07 79.81,233.46 80.04,233.85 80.26,234.22 80.49,234.59 80.71,234.95 80.94,235.30 81.16,235.64 81.39,235.97 81.61,236.30 81.84,236.61 82.06,236.92 82.29,237.22 82.51,237.51 82.74,237.79 82.96,238.06 83.19,238.32 83.41,238.57 83.64,238.82 83.86,239.07 84.09,239.31 84.31,239.55 84.54,239.79 84.76,240.02 84.99,240.24 85.21,240.46 85.44,240.67 85.66,240.87 85.89,241.07 86.11,241.26 86.34,241.44 86.56,241.61 86.79,241.78 87.01,241.93 87.24,242.07 87.46,242.21 87.69,242.33 87.91,242.46 88.14,242.58 88.36,242.69 88.59,242.80 88.82,242.91 89.04,243.01 89.27,243.11 89.49,243.20 89.72,243.29 89.94,243.38 90.17,243.46 90.39,243.54 90.62,243.62 90.84,243.69 91.07,243.76 91.29,243.83 91.52,243.90 91.74,243.97 91.97,244.04 92.19,244.11 92.42,244.17 92.64,244.22 92.87,244.26 93.09,244.29 93.32,244.30 93.54,244.30 93.77,244.30 93.99,244.30 94.22,244.30 94.44,244.30 94.67,244.30 94.89,244.30 95.12,244.30 95.34,244.30 95.57,244.30 95.79,244.30 96.02,244.30 96.24,244.30 96.47,244.30 96.69,244.30 96.92,244.30 97.14,244.30 97.37,244.30 97.59,244.30 97.82,244.30 98.04,244.30 98.27,244.30 98.49,244.30 98.72,244.30 98.94,244.30 99.17,244.30 99.39,244.30 99.62,244.30 99.84,244.30 100.07,244.30 100.29,244.30 100.52,244.30 100.74,244.30 100.97,244.30 101.19,244.30 101.42,244.30 101.64,244.30 101.87,244.30 102.09,244.30 102.32,244.30 102.54,244.30 102.77,244.30 102.99,244.30 103.22,244.30 103.44,244.30 103.67,244.30 103.89,244.30 104.12,244.30 104.34,244.30 104.57,244.30 104.79,244.30 105.02,244.30 105.24,244.30 105.47,244.30 105.69,244.30 105.92,244.30 106.14,244.30 106.37,244.30 106.59,244.30 106.82,244.30 107.05,244.30 107.27,244.30 107.50,244.30 107.72,244.30 107.95,244.30 108.17,244.30 108.40,244.30 108.62,244.30 108.85,244.30 109.07,244.30 109.30,244.30 109.52,244.30 109.75,244.30 109.97,244.30 110.20,244.30 110.42,244.30 110.65,244.30 110.87,244.30 111.10,244.30 111.32,244.30 111.55,244.30 111.77,244.30 112.00,244.30 112.22,244.30 112.45,244.30 112.67,244.30 112.90,244.30 113.12,244.30 113.35,244.30 113.57,244.30 113.80,244.30 114.02,244.30 114.25,244.30 114.47,244.30 114.70,244.30 114.92,244.30 115.15,244.30 115.37,244.30 115.60,244.30 115.82,244.30 116.05,244.30 116.27,244.30 116.50,244.30 116.72,244.30 116.95,244.30 117.17,244.30 117.40,244.30 117.62,244.30 117.85,244.30 118.07,244.30 118.30,244.30 118.52,244.30 118.75,244.30 118.97,244.30 119.20,244.30 119.42,244.30 119.65,244.30 119.87,244.30 120.10,244.30 120.32,244.30 120.55,244.30 120.77,244.30 121.00,244.30 121.22,244.30 121.45,244.30 121.67,244.30 121.90,244.30 122.12,244.30 122.35,244.30 122.57,244.30 122.80,244.30 123.02,244.30 123.25,244.30 123.47,244.30 123.70,244.30 123.92,244.30 124.15,244.30 124.37,244.30 124.60,244.30" fill="none" stroke="#1a1a1a" stroke-width="0.9" stroke-linejoin="round"/>
<polyline points="34.80,243.87 35.03,243.85 35.25,243.83 35.48,243.81 35.70,243.79 35.93,243.77 36.15,243.75 36.38,243.72 36.60,243.70 36.83,243.67 37.05,243.64 37.28,243.61 37.50,243.59 37.73,243.56 37.95,243.53 38.18,243.49 38.40,243.46 38.63,243.43 38.85,243.40 39.08,243.36 39.30,243.33 39.53,243.30 39.75,243.26 39.98,243.22 40.20,243.19 40.43,243.15 40.65,243.11 40.88,243.08 41.10,243.04 41.33,243.00 41.55,242.96 41.78,242.92 42.00,242.88 42.23,242.83 42.45,242.79 42.68,242.74 42.90,242.70 43.13,242.65 43.35,242.60 43.58,242.55 43.80,242.50 44.03,242.45 44.25,242.39 44.48,242.34 44.70,242.28 44.93,242.23 45.15,242.17 45.38,242.11 45.60,242.05 45.83,242.00 46.05,241.94 46.28,241.88 46.50,241.82 46.73,241.75 46.95,241.69 47.18,241.63 47.40,241.57 47.63,241.50 47.85,241.44 48.08,241.37 48.30,241.31 48.53,241.24 48.75,241.18 48.98,241.11 49.20,241.05 49.43,240.98 49.65,240.91 49.88,240.84 50.10,240.78 50.33,240.71 50.55,240.64 50.78,240.57 51.00,240.49 51.23,240.42 51.45,240.35 51.68,240.27 51.90,240.19 52.13,240.11 52.35,240.03 52.58,239.95 52.81,239.87 53.03,239.78 53.26,239.69 53.48,239.60 53.71,239.51 53.93,239.41 54.16,239.32 54.38,239.22 54.61,239.11 54.83,239.01 55.06,238.90 55.28,238.79 55.51,238.68 55.73,238.56 55.96,238.43 56.18,238.29 56.41,238.15 56.63,238.00 56.86,237.85 57.08,237.69 57.31,237.52 57.53,237.35 57.76,237.17 57.98,236.99 58.21,236.80 58.43,236.61 58.66,236.41 58.88,236.20 59.11,236.00 59.33,235.81 59.56,235.61 59.78,235.42 60.01,235.21 60.23,235.00 60.46,234.76 60.68,234.51 60.91,234.23 61.13,233.91 61.36,233.56 61.58,233.17 61.81,232.73 62.03,232.24 62.26,231.49 62.48,230.43 62.71,229.11 62.93,227.58 63.16,225.89 63.38,224.03 63.61,221.50 63.83,218.44 64.06,215.20 64.28,212.14 64.51,209.36 64.73,206.64 64.96,203.95 65.18,201.29 65.41,198.65 65.63,196.05 65.86,193.47 66.08,190.92 66.31,188.38 66.53,185.85 66.76,183.31 66.98,180.77 67.21,178.22 67.43,175.63 67.66,172.82 67.88,169.86 68.11,167.04 68.33,164.64 68.56,162.87 68.78,161.33 69.01,160.07 69.23,159.44 69.46,159.75 69.68,160.82 69.91,162.30 70.13,163.86 70.36,165.67 70.58,167.88 70.81,170.62 71.04,173.98 71.26,178.62 71.49,186.95 71.71,196.23 71.94,203.52 72.16,209.69 72.39,214.39 72.61,218.50 72.84,221.45 73.06,222.84 73.29,223.71 73.51,224.35 73.74,224.95 73.96,225.70 74.19,226.73 74.41,227.88 74.64,228.92 74.86,229.63 75.09,229.75 75.31,228.94 75.54,227.68 75.76,226.63 75.99,226.39 76.21,226.43 76.44,226.51 76.66,226.63 76.89,226.77 77.11,226.94 77.34,227.13 77.56,227.37 77.79,227.82 78.01,228.45 78.24,229.19 78.46,229.96 78.69,230.69 78.91,231.31 79.14,231.78 79.36,232.23 79.59,232.65 79.81,233.06 80.04,233.46 80.26,233.84 80.49,234.20 80.71,234.56 80.94,234.90 81.16,235.23 81.39,235.56 81.61,235.87 81.84,236.18 82.06,236.47 82.29,236.77 82.51,237.05 82.74,237.34 82.96,237.61 83.19,237.89 83.41,238.16 83.64,238.44 83.86,238.71 84.09,238.98 84.31,239.25 84.54,239.51 84.76,239.77 84.99,240.02 85.21,240.27 85.44,240.51 85.66,240.74 85.89,240.96 86.11,241.18 86.34,241.38 86.56,241.57 86.79,241.75 87.01,241.92 87.24,242.07 87.46,242.21 87.69,242.34 87.91,242.46 88.14,242.58 88.36,242.70 88.59,242.81 88.82,242.92 89.04,243.02 89.27,243.12 89.49,243.21 89.72,243.30 89.94,243.39 90.17,243.47 90.39,243.55 90.62,243.62 90.84,243.69 91.07,243.76 91.29,243.83 91.52,243.90 91.74,243.97 91.97,244.04 92.19,244.11 92.42,244.17 92.64,244.22 92.87,244.26 93.09,244.29 93.32,244.30 93.54,244.30 93.77,244.30 93.99,244.30 94.22,244.30 94.44,244.30 94.67,244.30 94.89,244.30 95.12,244.30 95.34,244.30 95.57,244.30 95.79,244.30 96.02,244.30 96.24,244.30 96.47,244.30 96.69,244.30 96.92,244.30 97.14,244.30 97.37,244.30 97.59,244.30 97.82,244.30 98.04,244.30 98.27,244.30 98.49,244.30 98.72,244.30 98.94,244.30 99.17,244.30 99.39,244.30 99.62,244.30 99.84,244.30 100.07,244.30 100.29,244.30 100.52,244.30 100.74,244.30 100.97,244.30 101.19,244.30 101.42,244.30 101.64,244.30 101.87,244.30 102.09,244.30 102.32,244.30 102.54,244.30 102.77,244.30 102.99,244.30 103.22,244.30 103.44,244.30 103.67,244.30 103.89,244.30 104.12,244.30 104.34,244.30 104.57,244.30 104.79,244.30 105.02,244.30 105.24,244.30 105.47,244.30 105.69,244.30 105.92,244.30 106.14,244.30 106.37,244.30 106.59,244.30 106.82,244.30 107.05,244.30 107.27,244.30 107.50,244.30 107.72,244.30 107.95,244.30 108.17,244.30 108.40,244.30 108.62,244.30 108.85,244.30 109.07,244.30 109.30,244.30 109.52,244.30 109.75,244.30 109.97,244.30 110.20,244.30 110.42,244.30 110.65,244.30 110.87,244.30 111.10,244.30 111.32,244.30 111.55,244.30 111.77,244.30 112.00,244.30 112.22,244.30 112.45,244.30 112.67,244.30 112.90,244.30 113.12,244.30 113.35,244.30 113.57,244.30 113.80,244.30 114.02,244.30 114.25,244.30 114.47,244.30 114.70,244.30 114.92,244.30 115.15,244.30 115.37,244.30 115.60,244.30 115.82,244.30 116.05,244.30 116.27,244.30 116.50,244.30 116.72,244.30 116.95,244.30 117.17,244.30 117.40,244.30 117.62,244.30 117.85,244.30 118.07,244.30 118.30,244.30 118.52,244.30 118.75,244.30 118.97,244.30 119.20,244.30 119.42,244.30 119.65,244.30 119.87,244.30 120.10,244.30 120.32,244.30 120.55,244.30 120.77,244.30 121.00,244.30 121.22,244.30 121.45,244.30 121.67,244.30 121.90,244.30 122.12,244.30 122.35,244.30 122.57,244.30 122.80,244.30 123.02,244.30 123.25,244.30 123.47,244.30 123.70,244.30 123.92,244.30 124.15,244.30 124.37,244.30 124.60,244.30" fill="none" stroke="#a86a5e" stroke-width="1.0" stroke-linejoin="round"/>
<line x1="35.30" y1="244.30" x2="35.30" y2="239.18" stroke="#1a1a1a" stroke-width="0.8" />
<rect x="34.80" y="155.00" width="89.80" height="89.30" fill="none" stroke="#7a7a7a" stroke-width="0.9"/>
<line x1="34.80" y1="155.00" x2="34.80" y2="244.30" stroke="#444" stroke-width="0.9" />
<line x1="34.80" y1="244.30" x2="124.60" y2="244.30" stroke="#111" stroke-width="1.3" />
<line x1="33.20" y1="244.30" x2="34.80" y2="244.30" stroke="#444" stroke-width="0.7" />
<text x="31.60" y="245.80" font-size="4.3" text-anchor="end" fill="#555" stroke="#555" stroke-width="0.2">0</text>
<line x1="33.20" y1="227.24" x2="34.80" y2="227.24" stroke="#444" stroke-width="0.7" />
<text x="31.60" y="228.74" font-size="4.3" text-anchor="end" fill="#555" stroke="#555" stroke-width="0.2">20</text>
<line x1="33.20" y1="210.18" x2="34.80" y2="210.18" stroke="#444" stroke-width="0.7" />
<text x="31.60" y="211.68" font-size="4.3" text-anchor="end" fill="#555" stroke="#555" stroke-width="0.2">40</text>
<line x1="33.20" y1="193.12" x2="34.80" y2="193.12" stroke="#444" stroke-width="0.7" />
<text x="31.60" y="194.62" font-size="4.3" text-anchor="end" fill="#555" stroke="#555" stroke-width="0.2">60</text>
<line x1="33.20" y1="176.06" x2="34.80" y2="176.06" stroke="#444" stroke-width="0.7" />
<text x="31.60" y="177.56" font-size="4.3" text-anchor="end" fill="#555" stroke="#555" stroke-width="0.2">80</text>
<line x1="33.20" y1="159.00" x2="34.80" y2="159.00" stroke="#444" stroke-width="0.7" />
<text x="31.60" y="160.50" font-size="4.3" text-anchor="end" fill="#555" stroke="#555" stroke-width="0.2">100</text>
<line x1="33.90" y1="244.30" x2="34.80" y2="244.30" stroke="#666" stroke-width="0.5" />
<line x1="33.90" y1="240.04" x2="34.80" y2="240.04" stroke="#666" stroke-width="0.5" />
<line x1="33.90" y1="235.77" x2="34.80" y2="235.77" stroke="#666" stroke-width="0.5" />
<line x1="33.90" y1="231.51" x2="34.80" y2="231.51" stroke="#666" stroke-width="0.5" />
<line x1="33.90" y1="227.24" x2="34.80" y2="227.24" stroke="#666" stroke-width="0.5" />
<line x1="33.90" y1="222.98" x2="34.80" y2="222.98" stroke="#666" stroke-width="0.5" />
<line x1="33.90" y1="218.71" x2="34.80" y2="218.71" stroke="#666" stroke-width="0.5" />
<line x1="33.90" y1="214.45" x2="34.80" y2="214.45" stroke="#666" stroke-width="0.5" />
<line x1="33.90" y1="210.18" x2="34.80" y2="210.18" stroke="#666" stroke-width="0.5" />
<line x1="33.90" y1="205.92" x2="34.80" y2="205.92" stroke="#666" stroke-width="0.5" />
<line x1="33.90" y1="201.65" x2="34.80" y2="201.65" stroke="#666" stroke-width="0.5" />
<line x1="33.90" y1="197.39" x2="34.80" y2="197.39" stroke="#666" stroke-width="0.5" />
<line x1="33.90" y1="193.12" x2="34.80" y2="193.12" stroke="#666" stroke-width="0.5" />
<line x1="33.90" y1="188.86" x2="34.80" y2="188.86" stroke="#666" stroke-width="0.5" />
<line x1="33.90" y1="184.59" x2="34.80" y2="184.59" stroke="#666" stroke-width="0.5" />
<line x1="33.90" y1="180.33" x2="34.80" y2="180.33" stroke="#666" stroke-width="0.5" />
<line x1="33.90" y1="176.06" x2="34.80" y2="176.06" stroke="#666" stroke-width="0.5" />
<line x1="33.90" y1="171.80" x2="34.80" y2="171.80" stroke="#666" stroke-width="0.5" />
<line x1="33.90" y1="167.53" x2="34.80" y2="167.53" stroke="#666" stroke-width="0.5" />
<line x1="33.90" y1="163.27" x2="34.80" y2="163.27" stroke="#666" stroke-width="0.5" />
<line x1="33.90" y1="159.00" x2="34.80" y2="159.00" stroke="#666" stroke-width="0.5" />
<line x1="34.80" y1="244.30" x2="34.80" y2="245.90" stroke="#333" stroke-width="0.7" />
<text x="34.60" y="252.30" font-size="3.9" text-anchor="middle" fill="#555" stroke="#555" stroke-width="0.2">10<tspan dy="-1.8" font-size="2.92">0</tspan></text>
<line x1="41.45" y1="244.30" x2="41.45" y2="245.30" stroke="#555" stroke-width="0.5" />
<line x1="45.34" y1="244.30" x2="45.34" y2="245.30" stroke="#555" stroke-width="0.5" />
<line x1="48.11" y1="244.30" x2="48.11" y2="245.30" stroke="#555" stroke-width="0.5" />
<line x1="50.25" y1="244.30" x2="50.25" y2="245.30" stroke="#555" stroke-width="0.5" />
<line x1="52.00" y1="244.30" x2="52.00" y2="245.30" stroke="#555" stroke-width="0.5" />
<line x1="53.48" y1="244.30" x2="53.48" y2="245.30" stroke="#555" stroke-width="0.5" />
<line x1="54.76" y1="244.30" x2="54.76" y2="245.30" stroke="#555" stroke-width="0.5" />
<line x1="55.89" y1="244.30" x2="55.89" y2="245.30" stroke="#555" stroke-width="0.5" />
<line x1="56.90" y1="244.30" x2="56.90" y2="245.90" stroke="#333" stroke-width="0.7" />
<text x="56.70" y="252.30" font-size="3.9" text-anchor="middle" fill="#555" stroke="#555" stroke-width="0.2">10<tspan dy="-1.8" font-size="2.92">1</tspan></text>
<line x1="63.55" y1="244.30" x2="63.55" y2="245.30" stroke="#555" stroke-width="0.5" />
<line x1="67.44" y1="244.30" x2="67.44" y2="245.30" stroke="#555" stroke-width="0.5" />
<line x1="70.21" y1="244.30" x2="70.21" y2="245.30" stroke="#555" stroke-width="0.5" />
<line x1="72.35" y1="244.30" x2="72.35" y2="245.30" stroke="#555" stroke-width="0.5" />
<line x1="74.10" y1="244.30" x2="74.10" y2="245.30" stroke="#555" stroke-width="0.5" />
<line x1="75.58" y1="244.30" x2="75.58" y2="245.30" stroke="#555" stroke-width="0.5" />
<line x1="76.86" y1="244.30" x2="76.86" y2="245.30" stroke="#555" stroke-width="0.5" />
<line x1="77.99" y1="244.30" x2="77.99" y2="245.30" stroke="#555" stroke-width="0.5" />
<line x1="79.00" y1="244.30" x2="79.00" y2="245.90" stroke="#333" stroke-width="0.7" />
<text x="78.80" y="252.30" font-size="3.9" text-anchor="middle" fill="#555" stroke="#555" stroke-width="0.2">10<tspan dy="-1.8" font-size="2.92">2</tspan></text>
<line x1="85.65" y1="244.30" x2="85.65" y2="245.30" stroke="#555" stroke-width="0.5" />
<line x1="89.54" y1="244.30" x2="89.54" y2="245.30" stroke="#555" stroke-width="0.5" />
<line x1="92.31" y1="244.30" x2="92.31" y2="245.30" stroke="#555" stroke-width="0.5" />
<line x1="94.45" y1="244.30" x2="94.45" y2="245.30" stroke="#555" stroke-width="0.5" />
<line x1="96.20" y1="244.30" x2="96.20" y2="245.30" stroke="#555" stroke-width="0.5" />
<line x1="97.68" y1="244.30" x2="97.68" y2="245.30" stroke="#555" stroke-width="0.5" />
<line x1="98.96" y1="244.30" x2="98.96" y2="245.30" stroke="#555" stroke-width="0.5" />
<line x1="100.09" y1="244.30" x2="100.09" y2="245.30" stroke="#555" stroke-width="0.5" />
<line x1="101.10" y1="244.30" x2="101.10" y2="245.90" stroke="#333" stroke-width="0.7" />
<text x="100.90" y="252.30" font-size="3.9" text-anchor="middle" fill="#555" stroke="#555" stroke-width="0.2">10<tspan dy="-1.8" font-size="2.92">3</tspan></text>
<line x1="107.75" y1="244.30" x2="107.75" y2="245.30" stroke="#555" stroke-width="0.5" />
<line x1="111.64" y1="244.30" x2="111.64" y2="245.30" stroke="#555" stroke-width="0.5" />
<line x1="114.41" y1="244.30" x2="114.41" y2="245.30" stroke="#555" stroke-width="0.5" />
<line x1="116.55" y1="244.30" x2="116.55" y2="245.30" stroke="#555" stroke-width="0.5" />
<line x1="118.30" y1="244.30" x2="118.30" y2="245.30" stroke="#555" stroke-width="0.5" />
<line x1="119.78" y1="244.30" x2="119.78" y2="245.30" stroke="#555" stroke-width="0.5" />
<line x1="121.06" y1="244.30" x2="121.06" y2="245.30" stroke="#555" stroke-width="0.5" />
<line x1="122.19" y1="244.30" x2="122.19" y2="245.30" stroke="#555" stroke-width="0.5" />
<line x1="123.20" y1="244.30" x2="123.20" y2="245.90" stroke="#333" stroke-width="0.7" />
<text x="123.00" y="252.30" font-size="3.9" text-anchor="middle" fill="#555" stroke="#555" stroke-width="0.2">10<tspan dy="-1.8" font-size="2.92">4</tspan></text>
<text x="78.7" y="257.6" font-size="4.2" text-anchor="middle" fill="#333" stroke="#333" stroke-width="0.2">FL1-H</text>
<text transform="translate(21.7,199.2) rotate(-90)" font-size="4.1" text-anchor="middle" fill="#333" stroke="#333" stroke-width="0.2">% of Max</text>
<polygon points="291.20,243.10 291.20,195.33 291.43,195.50 291.65,194.80 291.88,195.23 292.10,195.36 292.33,196.03 292.55,194.89 292.78,193.03 293.00,192.97 293.23,192.50 293.45,192.35 293.68,190.60 293.90,190.19 294.13,190.33 294.35,189.62 294.58,189.53 294.80,186.49 295.03,185.26 295.25,183.76 295.48,184.85 295.70,184.42 295.93,183.34 296.15,182.56 296.38,179.76 296.60,178.61 296.83,175.20 297.05,177.18 297.28,175.17 297.50,176.92 297.73,175.58 297.95,175.62 298.18,173.42 298.40,174.02 298.63,174.58 298.85,172.94 299.08,167.92 299.30,165.11 299.53,165.22 299.75,165.52 299.98,166.59 300.20,164.99 300.43,166.20 300.65,164.19 300.88,163.81 301.10,160.71 301.33,160.01 301.55,157.80 301.78,158.02 302.00,157.80 302.23,157.80 302.45,158.04 302.68,159.01 302.90,160.08 303.13,159.51 303.35,159.96 303.58,162.11 303.80,161.57 304.03,162.06 304.25,161.22 304.48,160.24 304.70,161.26 304.93,162.34 305.15,166.32 305.38,167.37 305.60,169.41 305.83,168.70 306.05,170.79 306.28,171.03 306.50,171.71 306.73,171.46 306.95,172.80 307.18,174.78 307.40,177.29 307.63,178.29 307.85,181.00 308.08,183.33 308.30,185.30 308.53,186.28 308.75,187.62 308.98,190.64 309.21,193.60 309.43,196.98 309.66,198.44 309.88,200.66 310.11,199.36 310.33,201.26 310.56,203.54 310.78,206.31 311.01,208.11 311.23,209.24 311.46,211.98 311.68,214.30 311.91,217.14 312.13,219.19 312.36,221.16 312.58,223.07 312.81,225.41 313.03,227.66 313.26,228.61 313.48,229.04 313.71,228.85 313.93,229.12 314.16,229.81 314.38,229.76 314.61,230.34 314.83,230.51 315.06,231.41 315.28,231.46 315.51,231.68 315.73,230.90 315.96,230.85 316.18,231.45 316.41,232.41 316.63,233.13 316.86,232.26 317.08,231.66 317.31,231.36 317.53,231.50 317.76,232.11 317.98,231.84 318.21,231.48 318.43,231.56 318.66,232.18 318.88,232.57 319.11,232.29 319.33,231.64 319.56,231.56 319.78,232.01 320.01,232.96 320.23,232.98 320.46,232.91 320.68,232.67 320.91,233.47 321.13,232.96 321.36,232.50 321.58,232.02 321.81,232.15 322.03,232.49 322.26,233.02 322.48,233.66 322.71,233.85 322.93,233.60 323.16,233.67 323.38,233.33 323.61,233.46 323.83,233.25 324.06,233.11 324.28,232.55 324.51,232.08 324.73,232.35 324.96,232.83 325.18,233.60 325.41,233.39 325.63,233.04 325.86,233.15 326.08,233.32 326.31,234.01 326.53,233.95 326.76,234.21 326.98,234.30 327.21,234.02 327.44,234.63 327.66,234.78 327.89,235.16 328.11,235.07 328.34,234.79 328.56,235.28 328.79,234.99 329.01,235.60 329.24,235.23 329.46,235.15 329.69,234.08 329.91,233.77 330.14,233.50 330.36,234.22 330.59,233.99 330.81,234.63 331.04,234.81 331.26,235.92 331.49,235.88 331.71,235.60 331.94,235.52 332.16,235.83 332.39,236.40 332.61,236.46 332.84,236.67 333.06,237.08 333.29,236.77 333.51,237.32 333.74,237.38 333.96,237.83 334.19,237.25 334.41,237.26 334.64,237.63 334.86,238.07 335.09,238.29 335.31,238.22 335.54,238.56 335.76,238.93 335.99,239.44 336.21,239.55 336.44,239.36 336.66,239.23 336.89,239.63 337.11,240.42 337.34,241.19 337.56,241.02 337.79,241.10 338.01,241.07 338.24,241.33 338.46,241.61 338.69,241.94 338.91,242.42 339.14,242.65 339.36,242.75 339.59,242.82 339.81,242.99 340.04,243.07 340.26,243.10 340.49,243.10 340.71,243.10 340.94,243.10 341.16,243.10 341.39,243.10 341.61,243.10 341.84,243.10 342.06,243.10 342.29,243.10 342.51,243.10 342.74,243.10 342.96,243.10 343.19,243.10 343.41,243.10 343.64,243.10 343.86,243.10 344.09,243.10 344.31,243.10 344.54,243.10 344.76,243.10 344.99,243.10 345.22,243.10 345.44,243.10 345.67,243.10 345.89,243.10 346.12,243.10 346.34,243.10 346.57,243.10 346.79,243.10 347.02,243.10 347.24,243.10 347.47,243.10 347.69,243.10 347.92,243.10 348.14,243.10 348.37,243.10 348.59,243.10 348.82,243.10 349.04,243.10 349.27,243.10 349.49,243.10 349.72,243.10 349.94,243.10 350.17,243.10 350.39,243.10 350.62,243.10 350.84,243.10 351.07,243.10 351.29,243.10 351.52,243.10 351.74,243.10 351.97,243.10 352.19,243.10 352.42,243.10 352.64,243.10 352.87,243.10 353.09,243.10 353.32,243.10 353.54,243.10 353.77,243.10 353.99,243.10 354.22,243.10 354.44,243.10 354.67,243.10 354.89,243.10 355.12,243.10 355.34,243.10 355.57,243.10 355.79,243.10 356.02,243.10 356.24,243.10 356.47,243.10 356.69,243.10 356.92,243.10 357.14,243.10 357.37,243.10 357.59,243.10 357.82,243.10 358.04,243.10 358.27,243.10 358.49,243.10 358.72,243.10 358.94,243.10 359.17,243.10 359.39,243.10 359.62,243.10 359.84,243.10 360.07,243.10 360.29,243.10 360.52,243.10 360.74,243.10 360.97,243.10 361.19,243.10 361.42,243.10 361.64,243.10 361.87,243.10 362.09,243.10 362.32,243.10 362.54,243.10 362.77,243.10 362.99,243.10 363.22,243.10 363.45,243.10 363.67,243.10 363.90,243.10 364.12,243.10 364.35,243.10 364.57,243.10 364.80,243.10 365.02,243.10 365.25,243.10 365.47,243.10 365.70,243.10 365.92,243.10 366.15,243.10 366.37,243.10 366.60,243.10 366.82,243.10 367.05,243.10 367.27,243.10 367.50,243.10 367.72,243.10 367.95,243.10 368.17,243.10 368.40,243.10 368.62,243.10 368.85,243.10 369.07,243.10 369.30,243.10 369.52,243.10 369.75,243.10 369.97,243.10 370.20,243.10 370.42,243.10 370.65,243.10 370.87,243.10 371.10,243.10 371.32,243.10 371.55,243.10 371.77,243.10 372.00,243.10 372.22,243.10 372.45,243.10 372.67,243.10 372.90,243.10 373.12,243.10 373.35,243.10 373.57,243.10 373.80,243.10 374.02,243.10 374.25,243.10 374.47,243.10 374.70,243.10 374.92,243.10 375.15,243.10 375.37,243.10 375.60,243.10 375.82,243.10 376.05,243.10 376.27,243.10 376.50,243.10 376.72,243.10 376.95,243.10 377.17,243.10 377.40,243.10 377.62,243.10 377.85,243.10 378.07,243.10 378.30,243.10 378.52,243.10 378.75,243.10 378.97,243.10 379.20,243.10 379.42,243.10 379.65,243.10 379.87,243.10 380.10,243.10 380.32,243.10 380.55,243.10 380.77,243.10 381.00,243.10 381.00,243.10" fill="#b4b4b4" stroke="#acacac" stroke-width="0.3"/>
<polyline points="291.20,235.42 291.43,235.26 291.65,235.09 291.88,234.91 292.10,234.72 292.33,234.52 292.55,234.32 292.78,234.10 293.00,233.87 293.23,233.63 293.45,233.39 293.68,233.13 293.90,232.86 294.13,232.59 294.35,232.31 294.58,232.02 294.80,231.72 295.03,231.41 295.25,231.10 295.48,230.78 295.70,230.45 295.93,230.11 296.15,229.77 296.38,229.42 296.60,229.06 296.83,228.70 297.05,228.33 297.28,227.95 297.50,227.57 297.73,227.18 297.95,226.78 298.18,226.38 298.40,225.97 298.63,225.55 298.85,225.11 299.08,224.67 299.30,224.21 299.53,223.75 299.75,223.27 299.98,222.78 300.20,222.28 300.43,221.77 300.65,221.24 300.88,220.71 301.10,220.16 301.33,219.59 301.55,219.02 301.78,218.43 302.00,217.82 302.23,217.20 302.45,216.57 302.68,215.92 302.90,215.24 303.13,214.52 303.35,213.77 303.58,212.99 303.80,212.17 304.03,211.33 304.25,210.46 304.48,209.56 304.70,208.64 304.93,207.69 305.15,206.71 305.38,205.64 305.60,204.50 305.83,203.31 306.05,202.10 306.28,200.89 306.50,199.69 306.73,198.54 306.95,197.44 307.18,196.34 307.40,195.23 307.63,194.11 307.85,193.00 308.08,191.89 308.30,190.78 308.53,189.67 308.75,188.58 308.98,187.49 309.21,186.42 309.43,185.36 309.66,184.32 309.88,183.30 310.11,182.30 310.33,181.32 310.56,180.37 310.78,179.45 311.01,178.55 311.23,177.69 311.46,176.87 311.68,176.07 311.91,175.29 312.13,174.52 312.36,173.76 312.58,173.02 312.81,172.30 313.03,171.58 313.26,170.89 313.48,170.21 313.71,169.55 313.93,168.91 314.16,168.28 314.38,167.68 314.61,167.09 314.83,166.53 315.06,165.99 315.28,165.47 315.51,164.97 315.73,164.47 315.96,163.96 316.18,163.45 316.41,162.94 316.63,162.44 316.86,161.95 317.08,161.49 317.31,161.06 317.53,160.66 317.76,160.31 317.98,160.02 318.21,159.78 318.43,159.60 318.66,159.50 318.88,159.42 319.11,159.36 319.33,159.30 319.56,159.24 319.78,159.19 320.01,159.15 320.23,159.12 320.46,159.10 320.68,159.08 320.91,159.08 321.13,159.16 321.36,159.33 321.58,159.59 321.81,159.94 322.03,160.36 322.26,160.85 322.48,161.39 322.71,161.99 322.93,162.63 323.16,163.30 323.38,164.02 323.61,165.09 323.83,166.52 324.06,168.21 324.28,170.07 324.51,172.01 324.73,173.93 324.96,175.74 325.18,177.35 325.41,178.85 325.63,180.32 325.86,181.76 326.08,183.20 326.31,184.67 326.53,186.19 326.76,187.79 326.98,189.50 327.21,191.38 327.44,193.37 327.66,195.37 327.89,197.28 328.11,199.03 328.34,200.70 328.56,202.33 328.79,203.90 329.01,205.44 329.24,206.93 329.46,208.38 329.69,209.80 329.91,211.21 330.14,212.60 330.36,213.96 330.59,215.27 330.81,216.53 331.04,217.73 331.26,218.85 331.49,219.89 331.71,220.89 331.94,221.86 332.16,222.80 332.39,223.70 332.61,224.57 332.84,225.39 333.06,226.16 333.29,226.89 333.51,227.58 333.74,228.22 333.96,228.84 334.19,229.43 334.41,230.01 334.64,230.55 334.86,231.07 335.09,231.55 335.31,232.00 335.54,232.42 335.76,232.80 335.99,233.16 336.21,233.50 336.44,233.82 336.66,234.13 336.89,234.43 337.11,234.72 337.34,235.00 337.56,235.27 337.79,235.53 338.01,235.78 338.24,236.02 338.46,236.26 338.69,236.49 338.91,236.71 339.14,236.93 339.36,237.15 339.59,237.36 339.81,237.57 340.04,237.78 340.26,237.99 340.49,238.19 340.71,238.40 340.94,238.60 341.16,238.80 341.39,239.00 341.61,239.19 341.84,239.38 342.06,239.57 342.29,239.75 342.51,239.93 342.74,240.11 342.96,240.28 343.19,240.44 343.41,240.60 343.64,240.76 343.86,240.90 344.09,241.04 344.31,241.17 344.54,241.30 344.76,241.42 344.99,241.53 345.22,241.65 345.44,241.77 345.67,241.89 345.89,242.01 346.12,242.13 346.34,242.24 346.57,242.35 346.79,242.46 347.02,242.56 347.24,242.66 347.47,242.74 347.69,242.83 347.92,242.90 348.14,242.96 348.37,243.01 348.59,243.05 348.82,243.08 349.04,243.10 349.27,243.10 349.49,243.10 349.72,243.10 349.94,243.10 350.17,243.10 350.39,243.10 350.62,243.10 350.84,243.10 351.07,243.10 351.29,243.10 351.52,243.10 351.74,243.10 351.97,243.10 352.19,243.10 352.42,243.10 352.64,243.10 352.87,243.10 353.09,243.10 353.32,243.10 353.54,243.10 353.77,243.10 353.99,243.10 354.22,243.10 354.44,243.10 354.67,243.10 354.89,243.10 355.12,243.10 355.34,243.10 355.57,243.10 355.79,243.10 356.02,243.10 356.24,243.10 356.47,243.10 356.69,243.10 356.92,243.10 357.14,243.10 357.37,243.10 357.59,243.10 357.82,243.10 358.04,243.10 358.27,243.10 358.49,243.10 358.72,243.10 358.94,243.10 359.17,243.10 359.39,243.10 359.62,243.10 359.84,243.10 360.07,243.10 360.29,243.10 360.52,243.10 360.74,243.10 360.97,243.10 361.19,243.10 361.42,243.10 361.64,243.10 361.87,243.10 362.09,243.10 362.32,243.10 362.54,243.10 362.77,243.10 362.99,243.10 363.22,243.10 363.45,243.10 363.67,243.10 363.90,243.10 364.12,243.10 364.35,243.10 364.57,243.10 364.80,243.10 365.02,243.10 365.25,243.10 365.47,243.10 365.70,243.10 365.92,243.10 366.15,243.10 366.37,243.10 366.60,243.10 366.82,243.10 367.05,243.10 367.27,243.10 367.50,243.10 367.72,243.10 367.95,243.10 368.17,243.10 368.40,243.10 368.62,243.10 368.85,243.10 369.07,243.10 369.30,243.10 369.52,243.10 369.75,243.10 369.97,243.10 370.20,243.10 370.42,243.10 370.65,243.10 370.87,243.10 371.10,243.10 371.32,243.10 371.55,243.10 371.77,243.10 372.00,243.10 372.22,243.10 372.45,243.10 372.67,243.10 372.90,243.10 373.12,243.10 373.35,243.10 373.57,243.10 373.80,243.10 374.02,243.10 374.25,243.10 374.47,243.10 374.70,243.10 374.92,243.10 375.15,243.10 375.37,243.10 375.60,243.10 375.82,243.10 376.05,243.10 376.27,243.10 376.50,243.10 376.72,243.10 376.95,243.10 377.17,243.10 377.40,243.10 377.62,243.10 377.85,243.10 378.07,243.10 378.30,243.10 378.52,243.10 378.75,243.10 378.97,243.10 379.20,243.10 379.42,243.10 379.65,243.10 379.87,243.10 380.10,243.10 380.32,243.10 380.55,243.10 380.77,243.10 381.00,243.10" fill="none" stroke="#c8a070" stroke-width="0.8" stroke-linejoin="round"/>
<polyline points="291.20,238.41 291.43,238.41 291.65,238.40 291.88,238.39 292.10,238.37 292.33,238.35 292.55,238.32 292.78,238.29 293.00,238.26 293.23,238.22 293.45,238.18 293.68,238.14 293.90,238.09 294.13,238.03 294.35,237.98 294.58,237.92 294.80,237.86 295.03,237.80 295.25,237.73 295.48,237.66 295.70,237.59 295.93,237.51 296.15,237.44 296.38,237.36 296.60,237.28 296.83,237.19 297.05,237.11 297.28,237.01 297.50,236.89 297.73,236.75 297.95,236.60 298.18,236.43 298.40,236.24 298.63,236.03 298.85,235.81 299.08,235.58 299.30,235.33 299.53,235.07 299.75,234.79 299.98,234.50 300.20,234.21 300.43,233.90 300.65,233.58 300.88,233.25 301.10,232.91 301.33,232.57 301.55,232.21 301.78,231.85 302.00,231.44 302.23,230.97 302.45,230.46 302.68,229.91 302.90,229.32 303.13,228.70 303.35,228.05 303.58,227.39 303.80,226.71 304.03,226.02 304.25,225.33 304.48,224.64 304.70,223.96 304.93,223.27 305.15,222.57 305.38,221.86 305.60,221.14 305.83,220.40 306.05,219.65 306.28,218.87 306.50,218.08 306.73,217.26 306.95,216.41 307.18,215.53 307.40,214.62 307.63,213.68 307.85,212.71 308.08,211.67 308.30,210.52 308.53,209.26 308.75,207.94 308.98,206.55 309.21,205.14 309.43,203.72 309.66,202.31 309.88,200.94 310.11,199.63 310.33,198.40 310.56,197.23 310.78,196.08 311.01,194.94 311.23,193.81 311.46,192.70 311.68,191.60 311.91,190.53 312.13,189.47 312.36,188.44 312.58,187.43 312.81,186.45 313.03,185.50 313.26,184.58 313.48,183.70 313.71,182.85 313.93,182.02 314.16,181.18 314.38,180.34 314.61,179.50 314.83,178.67 315.06,177.87 315.28,177.10 315.51,176.36 315.73,175.68 315.96,175.04 316.18,174.47 316.41,173.97 316.63,173.56 316.86,173.22 317.08,172.94 317.31,172.66 317.53,172.38 317.76,172.13 317.98,171.88 318.21,171.66 318.43,171.46 318.66,171.28 318.88,171.13 319.11,171.01 319.33,170.92 319.56,170.86 319.78,170.85 320.01,170.98 320.23,171.26 320.46,171.68 320.68,172.21 320.91,172.82 321.13,173.50 321.36,174.21 321.58,174.93 321.81,175.63 322.03,176.29 322.26,176.90 322.48,177.60 322.71,178.40 322.93,179.23 323.16,180.03 323.38,180.74 323.61,181.29 323.83,181.62 324.06,181.67 324.28,181.45 324.51,180.99 324.73,180.35 324.96,179.54 325.18,178.61 325.41,177.60 325.63,176.54 325.86,175.47 326.08,174.36 326.31,172.89 326.53,171.12 326.76,169.20 326.98,167.31 327.21,165.61 327.44,164.27 327.66,163.36 327.89,162.53 328.11,161.77 328.34,161.13 328.56,160.65 328.79,160.39 329.01,160.55 329.24,161.78 329.46,163.86 329.69,166.49 329.91,169.36 330.14,172.14 330.36,174.70 330.59,177.48 330.81,180.44 331.04,183.47 331.26,186.46 331.49,189.30 331.71,191.97 331.94,194.64 332.16,197.28 332.39,199.80 332.61,202.12 332.84,204.18 333.06,205.99 333.29,207.72 333.51,209.37 333.74,210.92 333.96,212.34 334.19,213.61 334.41,214.72 334.64,215.64 334.86,216.41 335.09,217.16 335.31,217.90 335.54,218.58 335.76,219.22 335.99,219.77 336.21,220.24 336.44,220.59 336.66,220.83 336.89,220.92 337.11,220.90 337.34,220.84 337.56,220.75 337.79,220.63 338.01,220.51 338.24,220.38 338.46,220.26 338.69,220.16 338.91,220.09 339.14,220.07 339.36,220.11 339.59,220.22 339.81,220.40 340.04,220.65 340.26,220.95 340.49,221.29 340.71,221.68 340.94,222.09 341.16,222.53 341.39,222.99 341.61,223.45 341.84,223.92 342.06,224.38 342.29,224.89 342.51,225.50 342.74,226.18 342.96,226.92 343.19,227.71 343.41,228.52 343.64,229.33 343.86,230.14 344.09,230.93 344.31,231.68 344.54,232.36 344.76,232.98 344.99,233.58 345.22,234.17 345.44,234.76 345.67,235.34 345.89,235.90 346.12,236.44 346.34,236.95 346.57,237.43 346.79,237.87 347.02,238.27 347.24,238.62 347.47,238.92 347.69,239.20 347.92,239.46 348.14,239.70 348.37,239.93 348.59,240.15 348.82,240.35 349.04,240.54 349.27,240.72 349.49,240.89 349.72,241.04 349.94,241.19 350.17,241.32 350.39,241.45 350.62,241.57 350.84,241.70 351.07,241.82 351.29,241.94 351.52,242.06 351.74,242.18 351.97,242.29 352.19,242.40 352.42,242.51 352.64,242.60 352.87,242.69 353.09,242.78 353.32,242.85 353.54,242.92 353.77,242.98 353.99,243.03 354.22,243.06 354.44,243.09 354.67,243.10 354.89,243.10 355.12,243.10 355.34,243.10 355.57,243.10 355.79,243.10 356.02,243.10 356.24,243.10 356.47,243.10 356.69,243.10 356.92,243.10 357.14,243.10 357.37,243.10 357.59,243.10 357.82,243.10 358.04,243.10 358.27,243.10 358.49,243.10 358.72,243.10 358.94,243.10 359.17,243.10 359.39,243.10 359.62,243.10 359.84,243.10 360.07,243.10 360.29,243.10 360.52,243.10 360.74,243.10 360.97,243.10 361.19,243.10 361.42,243.10 361.64,243.10 361.87,243.10 362.09,243.10 362.32,243.10 362.54,243.10 362.77,243.10 362.99,243.10 363.22,243.10 363.45,243.10 363.67,243.10 363.90,243.10 364.12,243.10 364.35,243.10 364.57,243.10 364.80,243.10 365.02,243.10 365.25,243.10 365.47,243.10 365.70,243.10 365.92,243.10 366.15,243.10 366.37,243.10 366.60,243.10 366.82,243.10 367.05,243.10 367.27,243.10 367.50,243.10 367.72,243.10 367.95,243.10 368.17,243.10 368.40,243.10 368.62,243.10 368.85,243.10 369.07,243.10 369.30,243.10 369.52,243.10 369.75,243.10 369.97,243.10 370.20,243.10 370.42,243.10 370.65,243.10 370.87,243.10 371.10,243.10 371.32,243.10 371.55,243.10 371.77,243.10 372.00,243.10 372.22,243.10 372.45,243.10 372.67,243.10 372.90,243.10 373.12,243.10 373.35,243.10 373.57,243.10 373.80,243.10 374.02,243.10 374.25,243.10 374.47,243.10 374.70,243.10 374.92,243.10 375.15,243.10 375.37,243.10 375.60,243.10 375.82,243.10 376.05,243.10 376.27,243.10 376.50,243.10 376.72,243.10 376.95,243.10 377.17,243.10 377.40,243.10 377.62,243.10 377.85,243.10 378.07,243.10 378.30,243.10 378.52,243.10 378.75,243.10 378.97,243.10 379.20,243.10 379.42,243.10 379.65,243.10 379.87,243.10 380.10,243.10 380.32,243.10 380.55,243.10 380.77,243.10 381.00,243.10" fill="none" stroke="#6aa488" stroke-width="0.8" stroke-linejoin="round"/>
<polyline points="291.20,231.50 291.43,231.50 291.65,231.50 291.88,231.50 292.10,231.50 292.33,231.42 292.55,231.19 292.78,230.84 293.00,230.37 293.23,229.81 293.45,229.17 293.68,228.47 293.90,227.72 294.13,226.93 294.35,226.13 294.58,225.33 294.80,224.54 295.03,223.78 295.25,223.07 295.48,222.42 295.70,221.85 295.93,221.31 296.15,220.79 296.38,220.29 296.60,219.80 296.83,219.31 297.05,218.84 297.28,218.37 297.50,217.91 297.73,217.45 297.95,216.99 298.18,216.53 298.40,216.07 298.63,215.61 298.85,215.14 299.08,214.66 299.30,214.18 299.53,213.68 299.75,213.17 299.98,212.65 300.20,212.11 300.43,211.55 300.65,210.97 300.88,210.39 301.10,209.80 301.33,209.20 301.55,208.59 301.78,207.97 302.00,207.33 302.23,206.69 302.45,206.03 302.68,205.36 302.90,204.67 303.13,203.97 303.35,203.25 303.58,202.51 303.80,201.76 304.03,200.98 304.25,200.18 304.48,199.37 304.70,198.52 304.93,197.65 305.15,196.71 305.38,195.70 305.60,194.63 305.83,193.52 306.05,192.37 306.28,191.20 306.50,190.01 306.73,188.82 306.95,187.63 307.18,186.45 307.40,185.30 307.63,184.19 307.85,183.12 308.08,182.08 308.30,181.00 308.53,179.90 308.75,178.80 308.98,177.72 309.21,176.68 309.43,175.71 309.66,174.82 309.88,174.03 310.11,173.37 310.33,172.82 310.56,172.31 310.78,171.84 311.01,171.40 311.23,170.99 311.46,170.61 311.68,170.25 311.91,169.90 312.13,169.57 312.36,169.25 312.58,168.94 312.81,168.62 313.03,168.30 313.26,167.98 313.48,167.64 313.71,167.29 313.93,166.93 314.16,166.56 314.38,166.18 314.61,165.80 314.83,165.42 315.06,165.05 315.28,164.68 315.51,164.31 315.73,163.96 315.96,163.63 316.18,163.31 316.41,163.01 316.63,162.73 316.86,162.48 317.08,162.23 317.31,161.98 317.53,161.73 317.76,161.47 317.98,161.23 318.21,161.00 318.43,160.78 318.66,160.59 318.88,160.42 319.11,160.28 319.33,160.18 319.56,160.12 319.78,160.10 320.01,160.11 320.23,160.13 320.46,160.15 320.68,160.18 320.91,160.22 321.13,160.27 321.36,160.32 321.58,160.38 321.81,160.50 322.03,160.71 322.26,161.00 322.48,161.36 322.71,161.78 322.93,162.25 323.16,162.77 323.38,163.33 323.61,163.93 323.83,164.55 324.06,165.20 324.28,166.03 324.51,167.06 324.73,168.24 324.96,169.52 325.18,170.88 325.41,172.27 325.63,173.65 325.86,175.00 326.08,176.41 326.31,177.88 326.53,179.40 326.76,180.94 326.98,182.49 327.21,184.03 327.44,185.54 327.66,187.03 327.89,188.64 328.11,190.32 328.34,191.96 328.56,193.50 328.79,194.82 329.01,195.85 329.24,196.56 329.46,197.20 329.69,197.81 329.91,198.35 330.14,198.82 330.36,199.20 330.59,199.46 330.81,199.59 331.04,199.58 331.26,199.47 331.49,199.28 331.71,199.03 331.94,198.72 332.16,198.38 332.39,198.01 332.61,197.55 332.84,196.84 333.06,195.92 333.29,194.83 333.51,193.63 333.74,192.37 333.96,191.11 334.19,189.90 334.41,188.79 334.64,187.83 334.86,186.99 335.09,186.11 335.31,185.20 335.54,184.31 335.76,183.46 335.99,182.68 336.21,182.02 336.44,181.50 336.66,181.15 336.89,181.00 337.11,181.17 337.34,181.72 337.56,182.60 337.79,183.72 338.01,185.03 338.24,186.44 338.46,187.88 338.69,189.30 338.91,190.85 339.14,192.73 339.36,194.78 339.59,196.86 339.81,198.80 340.04,200.46 340.26,201.88 340.49,203.22 340.71,204.47 340.94,205.66 341.16,206.80 341.39,207.91 341.61,208.99 341.84,210.06 342.06,211.14 342.29,212.24 342.51,213.37 342.74,214.52 342.96,215.67 343.19,216.82 343.41,217.97 343.64,219.11 343.86,220.24 344.09,221.35 344.31,222.44 344.54,223.50 344.76,224.54 344.99,225.58 345.22,226.63 345.44,227.68 345.67,228.71 345.89,229.72 346.12,230.69 346.34,231.60 346.57,232.45 346.79,233.22 347.02,233.91 347.24,234.56 347.47,235.20 347.69,235.81 347.92,236.40 348.14,236.96 348.37,237.49 348.59,237.99 348.82,238.44 349.04,238.85 349.27,239.22 349.49,239.53 349.72,239.79 349.94,240.02 350.17,240.24 350.39,240.45 350.62,240.64 350.84,240.82 351.07,240.98 351.29,241.14 351.52,241.28 351.74,241.41 351.97,241.54 352.19,241.66 352.42,241.77 352.64,241.88 352.87,241.98 353.09,242.09 353.32,242.20 353.54,242.30 353.77,242.41 353.99,242.51 354.22,242.60 354.44,242.69 354.67,242.78 354.89,242.85 355.12,242.92 355.34,242.98 355.57,243.03 355.79,243.06 356.02,243.09 356.24,243.10 356.47,243.10 356.69,243.10 356.92,243.10 357.14,243.10 357.37,243.10 357.59,243.10 357.82,243.10 358.04,243.10 358.27,243.10 358.49,243.10 358.72,243.10 358.94,243.10 359.17,243.10 359.39,243.10 359.62,243.10 359.84,243.10 360.07,243.10 360.29,243.10 360.52,243.10 360.74,243.10 360.97,243.10 361.19,243.10 361.42,243.10 361.64,243.10 361.87,243.10 362.09,243.10 362.32,243.10 362.54,243.10 362.77,243.10 362.99,243.10 363.22,243.10 363.45,243.10 363.67,243.10 363.90,243.10 364.12,243.10 364.35,243.10 364.57,243.10 364.80,243.10 365.02,243.10 365.25,243.10 365.47,243.10 365.70,243.10 365.92,243.10 366.15,243.10 366.37,243.10 366.60,243.10 366.82,243.10 367.05,243.10 367.27,243.10 367.50,243.10 367.72,243.10 367.95,243.10 368.17,243.10 368.40,243.10 368.62,243.10 368.85,243.10 369.07,243.10 369.30,243.10 369.52,243.10 369.75,243.10 369.97,243.10 370.20,243.10 370.42,243.10 370.65,243.10 370.87,243.10 371.10,243.10 371.32,243.10 371.55,243.10 371.77,243.10 372.00,243.10 372.22,243.10 372.45,243.10 372.67,243.10 372.90,243.10 373.12,243.10 373.35,243.10 373.57,243.10 373.80,243.10 374.02,243.10 374.25,243.10 374.47,243.10 374.70,243.10 374.92,243.10 375.15,243.10 375.37,243.10 375.60,243.10 375.82,243.10 376.05,243.10 376.27,243.10 376.50,243.10 376.72,243.10 376.95,243.10 377.17,243.10 377.40,243.10 377.62,243.10 377.85,243.10 378.07,243.10 378.30,243.10 378.52,243.10 378.75,243.10 378.97,243.10 379.20,243.10 379.42,243.10 379.65,243.10 379.87,243.10 380.10,243.10 380.32,243.10 380.55,243.10 380.77,243.10 381.00,243.10" fill="none" stroke="#cc4a52" stroke-width="0.9" stroke-linejoin="round"/>
<polyline points="291.20,237.47 291.43,237.47 291.65,237.47 291.88,237.47 292.10,237.47 292.33,237.47 292.55,237.47 292.78,237.47 293.00,237.47 293.23,237.45 293.45,237.43 293.68,237.40 293.90,237.36 294.13,237.31 294.35,237.26 294.58,237.20 294.80,237.14 295.03,237.07 295.25,236.99 295.48,236.91 295.70,236.83 295.93,236.74 296.15,236.65 296.38,236.55 296.60,236.45 296.83,236.35 297.05,236.25 297.28,236.13 297.50,235.99 297.73,235.83 297.95,235.64 298.18,235.44 298.40,235.22 298.63,234.98 298.85,234.72 299.08,234.45 299.30,234.16 299.53,233.85 299.75,233.53 299.98,233.20 300.20,232.85 300.43,232.49 300.65,232.12 300.88,231.74 301.10,231.35 301.33,230.95 301.55,230.54 301.78,230.12 302.00,229.65 302.23,229.11 302.45,228.53 302.68,227.90 302.90,227.24 303.13,226.53 303.35,225.81 303.58,225.05 303.80,224.29 304.03,223.51 304.25,222.71 304.48,221.81 304.70,220.83 304.93,219.80 305.15,218.73 305.38,217.67 305.60,216.62 305.83,215.62 306.05,214.69 306.28,213.87 306.50,213.16 306.73,212.57 306.95,212.05 307.18,211.57 307.40,211.08 307.63,210.56 307.85,209.95 308.08,209.23 308.30,208.30 308.53,207.03 308.75,205.54 308.98,203.92 309.21,202.31 309.43,200.80 309.66,199.43 309.88,198.07 310.11,196.71 310.33,195.35 310.56,194.01 310.78,192.68 311.01,191.36 311.23,190.07 311.46,188.79 311.68,187.55 311.91,186.34 312.13,185.16 312.36,184.02 312.58,182.92 312.81,181.84 313.03,180.73 313.26,179.61 313.48,178.50 313.71,177.40 313.93,176.33 314.16,175.31 314.38,174.34 314.61,173.45 314.83,172.64 315.06,171.93 315.28,171.33 315.51,170.85 315.73,170.45 315.96,170.05 316.18,169.67 316.41,169.31 316.63,168.96 316.86,168.63 317.08,168.34 317.31,168.07 317.53,167.83 317.76,167.63 317.98,167.47 318.21,167.36 318.43,167.29 318.66,167.27 318.88,167.36 319.11,167.58 319.33,167.91 319.56,168.32 319.78,168.79 320.01,169.31 320.23,169.85 320.46,170.65 320.68,171.76 320.91,173.09 321.13,174.55 321.36,176.04 321.58,177.48 321.81,178.78 322.03,179.83 322.26,180.58 322.48,181.24 322.71,181.87 322.93,182.47 323.16,183.00 323.38,183.44 323.61,183.76 323.83,183.95 324.06,183.96 324.28,183.66 324.51,183.05 324.73,182.19 324.96,181.14 325.18,179.96 325.41,178.71 325.63,177.45 325.86,176.18 326.08,174.57 326.31,172.64 326.53,170.54 326.76,168.39 326.98,166.33 327.21,164.51 327.44,163.05 327.66,162.01 327.89,161.05 328.11,160.18 328.34,159.50 328.56,159.13 328.79,159.32 329.01,160.84 329.24,163.37 329.46,166.45 329.69,169.62 329.91,172.64 330.14,176.10 330.36,179.87 330.59,183.72 330.81,187.41 331.04,190.82 331.26,194.17 331.49,197.22 331.71,199.83 331.94,202.29 332.16,204.59 332.39,206.70 332.61,208.60 332.84,210.26 333.06,211.71 333.29,213.12 333.51,214.46 333.74,215.70 333.96,216.82 334.19,217.78 334.41,218.56 334.64,219.13 334.86,219.52 335.09,219.89 335.31,220.21 335.54,220.49 335.76,220.71 335.99,220.86 336.21,220.92 336.44,220.80 336.66,220.37 336.89,219.72 337.11,218.92 337.34,218.03 337.56,217.13 337.79,216.31 338.01,215.62 338.24,215.14 338.46,214.95 338.69,214.97 338.91,215.04 339.14,215.16 339.36,215.31 339.59,215.51 339.81,215.73 340.04,215.98 340.26,216.26 340.49,216.56 340.71,216.87 340.94,217.19 341.16,217.53 341.39,217.95 341.61,218.50 341.84,219.17 342.06,219.93 342.29,220.77 342.51,221.67 342.74,222.60 342.96,223.55 343.19,224.49 343.41,225.42 343.64,226.30 343.86,227.13 344.09,227.87 344.31,228.59 344.54,229.31 344.76,230.03 344.99,230.75 345.22,231.46 345.44,232.14 345.67,232.80 345.89,233.44 346.12,234.03 346.34,234.59 346.57,235.09 346.79,235.55 347.02,235.97 347.24,236.38 347.47,236.78 347.69,237.15 347.92,237.51 348.14,237.86 348.37,238.18 348.59,238.49 348.82,238.78 349.04,239.06 349.27,239.31 349.49,239.55 349.72,239.78 349.94,239.99 350.17,240.19 350.39,240.39 350.62,240.57 350.84,240.75 351.07,240.92 351.29,241.08 351.52,241.23 351.74,241.38 351.97,241.51 352.19,241.64 352.42,241.76 352.64,241.88 352.87,242.00 353.09,242.12 353.32,242.24 353.54,242.35 353.77,242.47 353.99,242.58 354.22,242.68 354.44,242.78 354.67,242.86 354.89,242.94 355.12,243.00 355.34,243.05 355.57,243.08 355.79,243.10 356.02,243.10 356.24,243.10 356.47,243.10 356.69,243.10 356.92,243.10 357.14,243.10 357.37,243.10 357.59,243.10 357.82,243.10 358.04,243.10 358.27,243.10 358.49,243.10 358.72,243.10 358.94,243.10 359.17,243.10 359.39,243.10 359.62,243.10 359.84,243.10 360.07,243.10 360.29,243.10 360.52,243.10 360.74,243.10 360.97,243.10 361.19,243.10 361.42,243.10 361.64,243.10 361.87,243.10 362.09,243.10 362.32,243.10 362.54,243.10 362.77,243.10 362.99,243.10 363.22,243.10 363.45,243.10 363.67,243.10 363.90,243.10 364.12,243.10 364.35,243.10 364.57,243.10 364.80,243.10 365.02,243.10 365.25,243.10 365.47,243.10 365.70,243.10 365.92,243.10 366.15,243.10 366.37,243.10 366.60,243.10 366.82,243.10 367.05,243.10 367.27,243.10 367.50,243.10 367.72,243.10 367.95,243.10 368.17,243.10 368.40,243.10 368.62,243.10 368.85,243.10 369.07,243.10 369.30,243.10 369.52,243.10 369.75,243.10 369.97,243.10 370.20,243.10 370.42,243.10 370.65,243.10 370.87,243.10 371.10,243.10 371.32,243.10 371.55,243.10 371.77,243.10 372.00,243.10 372.22,243.10 372.45,243.10 372.67,243.10 372.90,243.10 373.12,243.10 373.35,243.10 373.57,243.10 373.80,243.10 374.02,243.10 374.25,243.10 374.47,243.10 374.70,243.10 374.92,243.10 375.15,243.10 375.37,243.10 375.60,243.10 375.82,243.10 376.05,243.10 376.27,243.10 376.50,243.10 376.72,243.10 376.95,243.10 377.17,243.10 377.40,243.10 377.62,243.10 377.85,243.10 378.07,243.10 378.30,243.10 378.52,243.10 378.75,243.10 378.97,243.10 379.20,243.10 379.42,243.10 379.65,243.10 379.87,243.10 380.10,243.10 380.32,243.10 380.55,243.10 380.77,243.10 381.00,243.10" fill="none" stroke="#1a1a1a" stroke-width="0.8" stroke-linejoin="round"/>
<rect x="291.20" y="153.40" width="89.80" height="89.70" fill="none" stroke="#7a7a7a" stroke-width="0.9"/>
<line x1="291.20" y1="153.40" x2="291.20" y2="243.10" stroke="#444" stroke-width="0.9" />
<line x1="291.20" y1="243.10" x2="381.00" y2="243.10" stroke="#222" stroke-width="1.1" />
<line x1="289.60" y1="243.10" x2="291.20" y2="243.10" stroke="#444" stroke-width="0.7" />
<text x="288.20" y="244.60" font-size="4.3" text-anchor="end" fill="#555" stroke="#555" stroke-width="0.2">0</text>
<line x1="289.60" y1="226.04" x2="291.20" y2="226.04" stroke="#444" stroke-width="0.7" />
<text x="288.20" y="227.54" font-size="4.3" text-anchor="end" fill="#555" stroke="#555" stroke-width="0.2">20</text>
<line x1="289.60" y1="208.98" x2="291.20" y2="208.98" stroke="#444" stroke-width="0.7" />
<text x="288.20" y="210.48" font-size="4.3" text-anchor="end" fill="#555" stroke="#555" stroke-width="0.2">40</text>
<line x1="289.60" y1="191.92" x2="291.20" y2="191.92" stroke="#444" stroke-width="0.7" />
<text x="288.20" y="193.42" font-size="4.3" text-anchor="end" fill="#555" stroke="#555" stroke-width="0.2">60</text>
<line x1="289.60" y1="174.86" x2="291.20" y2="174.86" stroke="#444" stroke-width="0.7" />
<text x="288.20" y="176.36" font-size="4.3" text-anchor="end" fill="#555" stroke="#555" stroke-width="0.2">80</text>
<line x1="289.60" y1="157.80" x2="291.20" y2="157.80" stroke="#444" stroke-width="0.7" />
<text x="288.20" y="159.30" font-size="4.3" text-anchor="end" fill="#555" stroke="#555" stroke-width="0.2">100</text>
<line x1="290.30" y1="243.10" x2="291.20" y2="243.10" stroke="#666" stroke-width="0.5" />
<line x1="290.30" y1="238.84" x2="291.20" y2="238.84" stroke="#666" stroke-width="0.5" />
<line x1="290.30" y1="234.57" x2="291.20" y2="234.57" stroke="#666" stroke-width="0.5" />
<line x1="290.30" y1="230.31" x2="291.20" y2="230.31" stroke="#666" stroke-width="0.5" />
<line x1="290.30" y1="226.04" x2="291.20" y2="226.04" stroke="#666" stroke-width="0.5" />
<line x1="290.30" y1="221.78" x2="291.20" y2="221.78" stroke="#666" stroke-width="0.5" />
<line x1="290.30" y1="217.51" x2="291.20" y2="217.51" stroke="#666" stroke-width="0.5" />
<line x1="290.30" y1="213.25" x2="291.20" y2="213.25" stroke="#666" stroke-width="0.5" />
<line x1="290.30" y1="208.98" x2="291.20" y2="208.98" stroke="#666" stroke-width="0.5" />
<line x1="290.30" y1="204.72" x2="291.20" y2="204.72" stroke="#666" stroke-width="0.5" />
<line x1="290.30" y1="200.45" x2="291.20" y2="200.45" stroke="#666" stroke-width="0.5" />
<line x1="290.30" y1="196.19" x2="291.20" y2="196.19" stroke="#666" stroke-width="0.5" />
<line x1="290.30" y1="191.92" x2="291.20" y2="191.92" stroke="#666" stroke-width="0.5" />
<line x1="290.30" y1="187.66" x2="291.20" y2="187.66" stroke="#666" stroke-width="0.5" />
<line x1="290.30" y1="183.39" x2="291.20" y2="183.39" stroke="#666" stroke-width="0.5" />
<line x1="290.30" y1="179.12" x2="291.20" y2="179.12" stroke="#666" stroke-width="0.5" />
<line x1="290.30" y1="174.86" x2="291.20" y2="174.86" stroke="#666" stroke-width="0.5" />
<line x1="290.30" y1="170.59" x2="291.20" y2="170.59" stroke="#666" stroke-width="0.5" />
<line x1="290.30" y1="166.33" x2="291.20" y2="166.33" stroke="#666" stroke-width="0.5" />
<line x1="290.30" y1="162.06" x2="291.20" y2="162.06" stroke="#666" stroke-width="0.5" />
<line x1="290.30" y1="157.80" x2="291.20" y2="157.80" stroke="#666" stroke-width="0.5" />
<line x1="291.20" y1="243.10" x2="291.20" y2="244.70" stroke="#333" stroke-width="0.7" />
<text x="291.00" y="251.50" font-size="3.7" text-anchor="middle" fill="#555" stroke="#555" stroke-width="0.2">10<tspan dy="-1.8" font-size="2.78">0</tspan></text>
<line x1="297.91" y1="243.10" x2="297.91" y2="244.10" stroke="#555" stroke-width="0.5" />
<line x1="301.84" y1="243.10" x2="301.84" y2="244.10" stroke="#555" stroke-width="0.5" />
<line x1="304.63" y1="243.10" x2="304.63" y2="244.10" stroke="#555" stroke-width="0.5" />
<line x1="306.79" y1="243.10" x2="306.79" y2="244.10" stroke="#555" stroke-width="0.5" />
<line x1="308.55" y1="243.10" x2="308.55" y2="244.10" stroke="#555" stroke-width="0.5" />
<line x1="310.05" y1="243.10" x2="310.05" y2="244.10" stroke="#555" stroke-width="0.5" />
<line x1="311.34" y1="243.10" x2="311.34" y2="244.10" stroke="#555" stroke-width="0.5" />
<line x1="312.48" y1="243.10" x2="312.48" y2="244.10" stroke="#555" stroke-width="0.5" />
<line x1="313.50" y1="243.10" x2="313.50" y2="244.70" stroke="#333" stroke-width="0.7" />
<text x="313.30" y="251.50" font-size="3.7" text-anchor="middle" fill="#555" stroke="#555" stroke-width="0.2">10<tspan dy="-1.8" font-size="2.78">1</tspan></text>
<line x1="320.21" y1="243.10" x2="320.21" y2="244.10" stroke="#555" stroke-width="0.5" />
<line x1="324.14" y1="243.10" x2="324.14" y2="244.10" stroke="#555" stroke-width="0.5" />
<line x1="326.93" y1="243.10" x2="326.93" y2="244.10" stroke="#555" stroke-width="0.5" />
<line x1="329.09" y1="243.10" x2="329.09" y2="244.10" stroke="#555" stroke-width="0.5" />
<line x1="330.85" y1="243.10" x2="330.85" y2="244.10" stroke="#555" stroke-width="0.5" />
<line x1="332.35" y1="243.10" x2="332.35" y2="244.10" stroke="#555" stroke-width="0.5" />
<line x1="333.64" y1="243.10" x2="333.64" y2="244.10" stroke="#555" stroke-width="0.5" />
<line x1="334.78" y1="243.10" x2="334.78" y2="244.10" stroke="#555" stroke-width="0.5" />
<line x1="335.80" y1="243.10" x2="335.80" y2="244.70" stroke="#333" stroke-width="0.7" />
<text x="335.60" y="251.50" font-size="3.7" text-anchor="middle" fill="#555" stroke="#555" stroke-width="0.2">10<tspan dy="-1.8" font-size="2.78">2</tspan></text>
<line x1="342.51" y1="243.10" x2="342.51" y2="244.10" stroke="#555" stroke-width="0.5" />
<line x1="346.44" y1="243.10" x2="346.44" y2="244.10" stroke="#555" stroke-width="0.5" />
<line x1="349.23" y1="243.10" x2="349.23" y2="244.10" stroke="#555" stroke-width="0.5" />
<line x1="351.39" y1="243.10" x2="351.39" y2="244.10" stroke="#555" stroke-width="0.5" />
<line x1="353.15" y1="243.10" x2="353.15" y2="244.10" stroke="#555" stroke-width="0.5" />
<line x1="354.65" y1="243.10" x2="354.65" y2="244.10" stroke="#555" stroke-width="0.5" />
<line x1="355.94" y1="243.10" x2="355.94" y2="244.10" stroke="#555" stroke-width="0.5" />
<line x1="357.08" y1="243.10" x2="357.08" y2="244.10" stroke="#555" stroke-width="0.5" />
<line x1="358.10" y1="243.10" x2="358.10" y2="244.70" stroke="#333" stroke-width="0.7" />
<text x="357.90" y="251.50" font-size="3.7" text-anchor="middle" fill="#555" stroke="#555" stroke-width="0.2">10<tspan dy="-1.8" font-size="2.78">3</tspan></text>
<line x1="364.81" y1="243.10" x2="364.81" y2="244.10" stroke="#555" stroke-width="0.5" />
<line x1="368.74" y1="243.10" x2="368.74" y2="244.10" stroke="#555" stroke-width="0.5" />
<line x1="371.53" y1="243.10" x2="371.53" y2="244.10" stroke="#555" stroke-width="0.5" />
<line x1="373.69" y1="243.10" x2="373.69" y2="244.10" stroke="#555" stroke-width="0.5" />
<line x1="375.45" y1="243.10" x2="375.45" y2="244.10" stroke="#555" stroke-width="0.5" />
<line x1="376.95" y1="243.10" x2="376.95" y2="244.10" stroke="#555" stroke-width="0.5" />
<line x1="378.24" y1="243.10" x2="378.24" y2="244.10" stroke="#555" stroke-width="0.5" />
<line x1="379.38" y1="243.10" x2="379.38" y2="244.10" stroke="#555" stroke-width="0.5" />
<line x1="380.40" y1="243.10" x2="380.40" y2="244.70" stroke="#333" stroke-width="0.7" />
<text x="380.20" y="251.50" font-size="3.7" text-anchor="middle" fill="#555" stroke="#555" stroke-width="0.2">10<tspan dy="-1.8" font-size="2.78">4</tspan></text>
<text x="340.40" y="261.50" font-size="7.6" text-anchor="middle" font-weight="normal" font-style="normal" fill="#111" stroke="#111" stroke-width="0.28" >FL1-H: pSTAT Alexa488</text>
<text transform="translate(283.3,196.8) rotate(-90)" font-size="7.7" text-anchor="middle" fill="#222" stroke="#222" stroke-width="0.28">% of max</text>
<line x1="157.00" y1="37.90" x2="157.00" y2="104.70" stroke="#333" stroke-width="0.9" />
<line x1="157.00" y1="104.70" x2="257.40" y2="104.70" stroke="#333" stroke-width="0.9" />
<line x1="154.40" y1="104.70" x2="157.00" y2="104.70" stroke="#333" stroke-width="0.9" />
<text x="152.70" y="107.60" font-size="8.2" text-anchor="end" font-weight="normal" font-style="normal" fill="#222" stroke="#222" stroke-width="0.28" >0</text>
<line x1="154.40" y1="91.34" x2="157.00" y2="91.34" stroke="#333" stroke-width="0.9" />
<text x="152.70" y="94.24" font-size="8.2" text-anchor="end" font-weight="normal" font-style="normal" fill="#222" stroke="#222" stroke-width="0.28" >10</text>
<line x1="154.40" y1="77.98" x2="157.00" y2="77.98" stroke="#333" stroke-width="0.9" />
<text x="152.70" y="80.88" font-size="8.2" text-anchor="end" font-weight="normal" font-style="normal" fill="#222" stroke="#222" stroke-width="0.28" >20</text>
<line x1="154.40" y1="64.62" x2="157.00" y2="64.62" stroke="#333" stroke-width="0.9" />
<text x="152.70" y="67.52" font-size="8.2" text-anchor="end" font-weight="normal" font-style="normal" fill="#222" stroke="#222" stroke-width="0.28" >30</text>
<line x1="154.40" y1="51.26" x2="157.00" y2="51.26" stroke="#333" stroke-width="0.9" />
<text x="152.70" y="54.16" font-size="8.2" text-anchor="end" font-weight="normal" font-style="normal" fill="#222" stroke="#222" stroke-width="0.28" >40</text>
<line x1="154.40" y1="37.90" x2="157.00" y2="37.90" stroke="#333" stroke-width="0.9" />
<text x="152.70" y="40.80" font-size="8.2" text-anchor="end" font-weight="normal" font-style="normal" fill="#222" stroke="#222" stroke-width="0.28" >50</text>
<rect x="162.30" y="54.60" width="22.60" height="50.10" fill="#000000" stroke="#222" stroke-width="0.9"/>
<line x1="173.60" y1="51.53" x2="173.60" y2="54.60" stroke="#333" stroke-width="0.9" />
<line x1="167.90" y1="51.53" x2="179.30" y2="51.53" stroke="#333" stroke-width="0.9" />
<text x="173.60" y="115.80" font-size="9.5" text-anchor="middle" font-weight="normal" font-style="normal" fill="#111" stroke="#111" stroke-width="0.28" >+/+</text>
<rect x="196.50" y="60.61" width="22.50" height="44.09" fill="#5f8b45" stroke="#222" stroke-width="0.9"/>
<line x1="207.75" y1="59.81" x2="207.75" y2="61.41" stroke="#333" stroke-width="0.9" />
<line x1="202.05" y1="59.81" x2="213.45" y2="59.81" stroke="#333" stroke-width="0.9" />
<line x1="202.05" y1="61.41" x2="213.45" y2="61.41" stroke="#333" stroke-width="0.9" />
<text x="207.75" y="115.80" font-size="9.5" text-anchor="middle" font-weight="normal" font-style="normal" fill="#111" stroke="#111" stroke-width="0.28" >+/-</text>
<rect x="229.30" y="64.22" width="22.60" height="40.48" fill="#d63a2a" stroke="#222" stroke-width="0.9"/>
<line x1="240.60" y1="59.28" x2="240.60" y2="69.16" stroke="#333" stroke-width="0.9" />
<line x1="234.90" y1="59.28" x2="246.30" y2="59.28" stroke="#333" stroke-width="0.9" />
<line x1="234.90" y1="69.16" x2="246.30" y2="69.16" stroke="#333" stroke-width="0.9" />
<text x="240.60" y="115.80" font-size="9.5" text-anchor="middle" font-weight="normal" font-style="normal" fill="#111" stroke="#111" stroke-width="0.28" >-/-</text>
<text x="157.70" y="116.30" font-size="9.5" text-anchor="end" font-weight="normal" font-style="italic" fill="#111" stroke="#111" stroke-width="0.28" >Stat1</text>
<line x1="161.00" y1="120.20" x2="255.50" y2="120.20" stroke="#333" stroke-width="0.9" />
<text x="178.50" y="131.00" font-size="9.5" font-style="italic" fill="#111" stroke="#111" stroke-width="0.28">SclCre<tspan dy="-3.4" font-size="6.46">ER</tspan><tspan dy="3.4">;V617F</tspan></text>
<line x1="416.80" y1="38.70" x2="416.80" y2="105.50" stroke="#333" stroke-width="0.9" />
<line x1="416.80" y1="105.50" x2="518.80" y2="105.50" stroke="#333" stroke-width="0.9" />
<line x1="414.20" y1="105.50" x2="416.80" y2="105.50" stroke="#333" stroke-width="0.9" />
<text x="412.50" y="108.40" font-size="8.2" text-anchor="end" font-weight="normal" font-style="normal" fill="#222" stroke="#222" stroke-width="0.28" >0</text>
<line x1="414.20" y1="92.14" x2="416.80" y2="92.14" stroke="#333" stroke-width="0.9" />
<text x="412.50" y="95.04" font-size="8.2" text-anchor="end" font-weight="normal" font-style="normal" fill="#222" stroke="#222" stroke-width="0.28" >10</text>
<line x1="414.20" y1="78.78" x2="416.80" y2="78.78" stroke="#333" stroke-width="0.9" />
<text x="412.50" y="81.68" font-size="8.2" text-anchor="end" font-weight="normal" font-style="normal" fill="#222" stroke="#222" stroke-width="0.28" >20</text>
<line x1="414.20" y1="65.42" x2="416.80" y2="65.42" stroke="#333" stroke-width="0.9" />
<text x="412.50" y="68.32" font-size="8.2" text-anchor="end" font-weight="normal" font-style="normal" fill="#222" stroke="#222" stroke-width="0.28" >30</text>
<line x1="414.20" y1="52.06" x2="416.80" y2="52.06" stroke="#333" stroke-width="0.9" />
<text x="412.50" y="54.96" font-size="8.2" text-anchor="end" font-weight="normal" font-style="normal" fill="#222" stroke="#222" stroke-width="0.28" >40</text>
<line x1="414.20" y1="38.70" x2="416.80" y2="38.70" stroke="#333" stroke-width="0.9" />
<text x="412.50" y="41.60" font-size="8.2" text-anchor="end" font-weight="normal" font-style="normal" fill="#222" stroke="#222" stroke-width="0.28" >50</text>
<rect x="422.60" y="69.83" width="23.00" height="35.67" fill="#000000" stroke="#222" stroke-width="0.9"/>
<line x1="434.10" y1="66.36" x2="434.10" y2="69.83" stroke="#333" stroke-width="0.9" />
<line x1="428.40" y1="66.36" x2="439.80" y2="66.36" stroke="#333" stroke-width="0.9" />
<text x="434.10" y="116.10" font-size="9.5" text-anchor="middle" font-weight="normal" font-style="normal" fill="#111" stroke="#111" stroke-width="0.28" >+/+</text>
<rect x="456.50" y="72.77" width="23.10" height="32.73" fill="#5f8b45" stroke="#222" stroke-width="0.9"/>
<line x1="468.05" y1="69.96" x2="468.05" y2="75.57" stroke="#333" stroke-width="0.9" />
<line x1="462.35" y1="69.96" x2="473.75" y2="69.96" stroke="#333" stroke-width="0.9" />
<line x1="462.35" y1="75.57" x2="473.75" y2="75.57" stroke="#333" stroke-width="0.9" />
<text x="468.05" y="116.10" font-size="9.5" text-anchor="middle" font-weight="normal" font-style="normal" fill="#111" stroke="#111" stroke-width="0.28" >+/-</text>
<rect x="490.50" y="73.44" width="23.30" height="32.06" fill="#d63a2a" stroke="#222" stroke-width="0.9"/>
<line x1="502.15" y1="71.70" x2="502.15" y2="75.17" stroke="#333" stroke-width="0.9" />
<line x1="496.45" y1="71.70" x2="507.85" y2="71.70" stroke="#333" stroke-width="0.9" />
<line x1="496.45" y1="75.17" x2="507.85" y2="75.17" stroke="#333" stroke-width="0.9" />
<text x="502.15" y="116.10" font-size="9.5" text-anchor="middle" font-weight="normal" font-style="normal" fill="#111" stroke="#111" stroke-width="0.28" >-/-</text>
<text x="420.00" y="116.30" font-size="9.5" text-anchor="end" font-weight="normal" font-style="italic" fill="#111" stroke="#111" stroke-width="0.28" >Stat1</text>
<line x1="422.80" y1="120.40" x2="516.80" y2="120.40" stroke="#333" stroke-width="0.9" />
<text x="439.30" y="131.50" font-size="9.5" font-style="italic" fill="#111" stroke="#111" stroke-width="0.28">SclCre<tspan dy="-3.4" font-size="6.46">ER</tspan><tspan dy="3.4">;V617F</tspan></text>
<line x1="156.80" y1="175.80" x2="156.80" y2="242.30" stroke="#333" stroke-width="0.9" />
<line x1="156.80" y1="242.30" x2="257.40" y2="242.30" stroke="#333" stroke-width="0.9" />
<line x1="154.20" y1="242.30" x2="156.80" y2="242.30" stroke="#333" stroke-width="0.9" />
<text x="152.50" y="245.20" font-size="8.2" text-anchor="end" font-weight="normal" font-style="normal" fill="#222" stroke="#222" stroke-width="0.28" >0</text>
<line x1="154.20" y1="229.00" x2="156.80" y2="229.00" stroke="#333" stroke-width="0.9" />
<text x="152.50" y="231.90" font-size="8.2" text-anchor="end" font-weight="normal" font-style="normal" fill="#222" stroke="#222" stroke-width="0.28" >10</text>
<line x1="154.20" y1="215.70" x2="156.80" y2="215.70" stroke="#333" stroke-width="0.9" />
<text x="152.50" y="218.60" font-size="8.2" text-anchor="end" font-weight="normal" font-style="normal" fill="#222" stroke="#222" stroke-width="0.28" >20</text>
<line x1="154.20" y1="202.40" x2="156.80" y2="202.40" stroke="#333" stroke-width="0.9" />
<text x="152.50" y="205.30" font-size="8.2" text-anchor="end" font-weight="normal" font-style="normal" fill="#222" stroke="#222" stroke-width="0.28" >30</text>
<line x1="154.20" y1="189.10" x2="156.80" y2="189.10" stroke="#333" stroke-width="0.9" />
<text x="152.50" y="192.00" font-size="8.2" text-anchor="end" font-weight="normal" font-style="normal" fill="#222" stroke="#222" stroke-width="0.28" >40</text>
<line x1="154.20" y1="175.80" x2="156.80" y2="175.80" stroke="#333" stroke-width="0.9" />
<text x="152.50" y="178.70" font-size="8.2" text-anchor="end" font-weight="normal" font-style="normal" fill="#222" stroke="#222" stroke-width="0.28" >50</text>
<rect x="162.30" y="184.44" width="22.60" height="57.86" fill="#000000" stroke="#222" stroke-width="0.9"/>
<line x1="173.60" y1="177.40" x2="173.60" y2="184.44" stroke="#333" stroke-width="0.9" />
<line x1="167.90" y1="177.40" x2="179.30" y2="177.40" stroke="#333" stroke-width="0.9" />
<text x="173.60" y="255.00" font-size="9.5" text-anchor="middle" font-weight="normal" font-style="normal" fill="#111" stroke="#111" stroke-width="0.28" >+/+</text>
<rect x="195.50" y="183.38" width="22.50" height="58.92" fill="#5f8b45" stroke="#222" stroke-width="0.9"/>
<line x1="206.75" y1="178.06" x2="206.75" y2="188.70" stroke="#333" stroke-width="0.9" />
<line x1="201.05" y1="178.06" x2="212.45" y2="178.06" stroke="#333" stroke-width="0.9" />
<line x1="201.05" y1="188.70" x2="212.45" y2="188.70" stroke="#333" stroke-width="0.9" />
<text x="206.75" y="255.00" font-size="9.5" text-anchor="middle" font-weight="normal" font-style="normal" fill="#111" stroke="#111" stroke-width="0.28" >+/-</text>
<rect x="229.30" y="190.43" width="22.20" height="51.87" fill="#d63a2a" stroke="#222" stroke-width="0.9"/>
<line x1="240.40" y1="185.38" x2="240.40" y2="195.48" stroke="#333" stroke-width="0.9" />
<line x1="234.70" y1="185.38" x2="246.10" y2="185.38" stroke="#333" stroke-width="0.9" />
<line x1="234.70" y1="195.48" x2="246.10" y2="195.48" stroke="#333" stroke-width="0.9" />
<text x="240.40" y="255.00" font-size="9.5" text-anchor="middle" font-weight="normal" font-style="normal" fill="#111" stroke="#111" stroke-width="0.28" >-/-</text>
<text x="164.00" y="253.50" font-size="9.5" text-anchor="end" font-weight="normal" font-style="italic" fill="#111" stroke="#111" stroke-width="0.28" >Stat1</text>
<line x1="161.30" y1="261.20" x2="255.60" y2="261.20" stroke="#333" stroke-width="0.9" />
<text x="177.00" y="271.40" font-size="9.5" font-style="italic" fill="#111" stroke="#111" stroke-width="0.28">SclCre<tspan dy="-3.4" font-size="6.46">ER</tspan><tspan dy="3.4">;V617F</tspan></text>
<line x1="414.60" y1="178.35" x2="414.60" y2="242.10" stroke="#333" stroke-width="0.9" />
<line x1="414.60" y1="242.10" x2="511.80" y2="242.10" stroke="#333" stroke-width="0.9" />
<line x1="412.00" y1="242.10" x2="414.60" y2="242.10" stroke="#333" stroke-width="0.9" />
<text x="410.30" y="245.00" font-size="8.2" text-anchor="end" font-weight="normal" font-style="normal" fill="#222" stroke="#222" stroke-width="0.28" >0</text>
<line x1="412.00" y1="220.85" x2="414.60" y2="220.85" stroke="#333" stroke-width="0.9" />
<text x="410.30" y="223.75" font-size="8.2" text-anchor="end" font-weight="normal" font-style="normal" fill="#222" stroke="#222" stroke-width="0.28" >10</text>
<line x1="412.00" y1="199.60" x2="414.60" y2="199.60" stroke="#333" stroke-width="0.9" />
<text x="410.30" y="202.50" font-size="8.2" text-anchor="end" font-weight="normal" font-style="normal" fill="#222" stroke="#222" stroke-width="0.28" >20</text>
<line x1="412.00" y1="178.35" x2="414.60" y2="178.35" stroke="#333" stroke-width="0.9" />
<text x="410.30" y="181.25" font-size="8.2" text-anchor="end" font-weight="normal" font-style="normal" fill="#222" stroke="#222" stroke-width="0.28" >30</text>
<rect x="420.60" y="198.32" width="21.40" height="43.78" fill="#000000" stroke="#222" stroke-width="0.9"/>
<line x1="431.30" y1="196.41" x2="431.30" y2="198.32" stroke="#333" stroke-width="0.9" />
<line x1="425.60" y1="196.41" x2="437.00" y2="196.41" stroke="#333" stroke-width="0.9" />
<text x="431.30" y="254.50" font-size="9.5" text-anchor="middle" font-weight="normal" font-style="normal" fill="#111" stroke="#111" stroke-width="0.28" >+/+</text>
<rect x="451.20" y="191.52" width="22.40" height="50.58" fill="#5f8b45" stroke="#222" stroke-width="0.9"/>
<line x1="462.40" y1="186.85" x2="462.40" y2="196.20" stroke="#333" stroke-width="0.9" />
<line x1="456.70" y1="186.85" x2="468.10" y2="186.85" stroke="#333" stroke-width="0.9" />
<line x1="456.70" y1="196.20" x2="468.10" y2="196.20" stroke="#333" stroke-width="0.9" />
<text x="462.40" y="254.50" font-size="9.5" text-anchor="middle" font-weight="normal" font-style="normal" fill="#111" stroke="#111" stroke-width="0.28" >+/-</text>
<rect x="482.80" y="197.69" width="22.40" height="44.41" fill="#d63a2a" stroke="#222" stroke-width="0.9"/>
<line x1="494.00" y1="195.56" x2="494.00" y2="199.81" stroke="#333" stroke-width="0.9" />
<line x1="488.30" y1="195.56" x2="499.70" y2="195.56" stroke="#333" stroke-width="0.9" />
<line x1="488.30" y1="199.81" x2="499.70" y2="199.81" stroke="#333" stroke-width="0.9" />
<text x="494.00" y="254.50" font-size="9.5" text-anchor="middle" font-weight="normal" font-style="normal" fill="#111" stroke="#111" stroke-width="0.28" >-/-</text>
<text x="414.60" y="254.10" font-size="9.5" text-anchor="end" font-weight="normal" font-style="italic" fill="#111" stroke="#111" stroke-width="0.28" >Stat1</text>
<line x1="419.20" y1="259.00" x2="513.50" y2="259.00" stroke="#333" stroke-width="0.9" />
<text x="438.30" y="272.10" font-size="9.5" font-style="italic" fill="#111" stroke="#111" stroke-width="0.28">SclCre<tspan dy="-3.4" font-size="6.46">ER</tspan><tspan dy="3.4">;V617F</tspan></text>
<rect x="12.00" y="284.60" width="203.30" height="15.40" fill="#d0d0d0"/>
<rect x="12.00" y="285.40" width="203.30" height="1.02" fill="#fff" opacity="0.010"/>
<rect x="12.00" y="287.08" width="203.30" height="0.75" fill="#000" opacity="0.019"/>
<rect x="12.00" y="288.54" width="203.30" height="1.00" fill="#fff" opacity="0.031"/>
<rect x="12.00" y="290.66" width="203.30" height="0.80" fill="#fff" opacity="0.011"/>
<rect x="12.00" y="292.57" width="203.30" height="1.02" fill="#fff" opacity="0.017"/>
<rect x="12.00" y="294.12" width="203.30" height="1.40" fill="#fff" opacity="0.026"/>
<rect x="12.00" y="296.66" width="203.30" height="1.48" fill="#fff" opacity="0.014"/>
<rect x="12.00" y="298.48" width="203.30" height="0.77" fill="#fff" opacity="0.015"/>
<rect x="12.00" y="307.20" width="203.30" height="14.60" fill="#d2d2d2"/>
<rect x="12.00" y="308.00" width="203.30" height="1.04" fill="#000" opacity="0.037"/>
<rect x="12.00" y="309.86" width="203.30" height="1.02" fill="#000" opacity="0.020"/>
<rect x="12.00" y="311.92" width="203.30" height="0.90" fill="#000" opacity="0.041"/>
<rect x="12.00" y="313.76" width="203.30" height="0.73" fill="#fff" opacity="0.019"/>
<rect x="12.00" y="315.73" width="203.30" height="1.45" fill="#000" opacity="0.052"/>
<rect x="12.00" y="317.58" width="203.30" height="1.11" fill="#000" opacity="0.031"/>
<rect x="12.00" y="319.10" width="203.30" height="0.73" fill="#fff" opacity="0.021"/>
<rect x="12.00" y="320.26" width="203.30" height="0.82" fill="#000" opacity="0.033"/>
<rect x="12.00" y="328.50" width="203.30" height="14.30" fill="#d4d4d4"/>
<rect x="12.00" y="329.30" width="203.30" height="1.15" fill="#fff" opacity="0.025"/>
<rect x="12.00" y="331.36" width="203.30" height="1.49" fill="#fff" opacity="0.016"/>
<rect x="12.00" y="333.41" width="203.30" height="0.65" fill="#000" opacity="0.011"/>
<rect x="12.00" y="334.91" width="203.30" height="1.25" fill="#000" opacity="0.044"/>
<rect x="12.00" y="337.16" width="203.30" height="0.62" fill="#fff" opacity="0.023"/>
<rect x="12.00" y="338.59" width="203.30" height="0.88" fill="#fff" opacity="0.032"/>
<rect x="12.00" y="339.96" width="203.30" height="1.14" fill="#fff" opacity="0.025"/>
<rect x="12.00" y="341.67" width="203.30" height="0.99" fill="#fff" opacity="0.059"/>
<rect x="33.65" y="284.60" width="4" height="15.40" fill="#fff" opacity="0.12" filter="url(#b1)"/>
<rect x="33.65" y="307.20" width="4" height="14.60" fill="#fff" opacity="0.12" filter="url(#b1)"/>
<rect x="33.65" y="328.50" width="4" height="14.30" fill="#fff" opacity="0.12" filter="url(#b1)"/>
<rect x="58.90" y="284.60" width="4" height="15.40" fill="#fff" opacity="0.12" filter="url(#b1)"/>
<rect x="58.90" y="307.20" width="4" height="14.60" fill="#fff" opacity="0.12" filter="url(#b1)"/>
<rect x="58.90" y="328.50" width="4" height="14.30" fill="#fff" opacity="0.12" filter="url(#b1)"/>
<rect x="84.45" y="284.60" width="4" height="15.40" fill="#fff" opacity="0.12" filter="url(#b1)"/>
<rect x="84.45" y="307.20" width="4" height="14.60" fill="#fff" opacity="0.12" filter="url(#b1)"/>
<rect x="84.45" y="328.50" width="4" height="14.30" fill="#fff" opacity="0.12" filter="url(#b1)"/>
<rect x="110.45" y="284.60" width="4" height="15.40" fill="#fff" opacity="0.12" filter="url(#b1)"/>
<rect x="110.45" y="307.20" width="4" height="14.60" fill="#fff" opacity="0.12" filter="url(#b1)"/>
<rect x="110.45" y="328.50" width="4" height="14.30" fill="#fff" opacity="0.12" filter="url(#b1)"/>
<rect x="136.10" y="284.60" width="4" height="15.40" fill="#fff" opacity="0.12" filter="url(#b1)"/>
<rect x="136.10" y="307.20" width="4" height="14.60" fill="#fff" opacity="0.12" filter="url(#b1)"/>
<rect x="136.10" y="328.50" width="4" height="14.30" fill="#fff" opacity="0.12" filter="url(#b1)"/>
<rect x="160.95" y="284.60" width="4" height="15.40" fill="#fff" opacity="0.12" filter="url(#b1)"/>
<rect x="160.95" y="307.20" width="4" height="14.60" fill="#fff" opacity="0.12" filter="url(#b1)"/>
<rect x="160.95" y="328.50" width="4" height="14.30" fill="#fff" opacity="0.12" filter="url(#b1)"/>
<rect x="186.35" y="284.60" width="4" height="15.40" fill="#fff" opacity="0.12" filter="url(#b1)"/>
<rect x="186.35" y="307.20" width="4" height="14.60" fill="#fff" opacity="0.12" filter="url(#b1)"/>
<rect x="186.35" y="328.50" width="4" height="14.30" fill="#fff" opacity="0.12" filter="url(#b1)"/>
<path d="M12.60,292.00 Q18.60,290.70 23.10,290.70 Q29.60,290.70 33.60,292.00 Q29.60,293.30 23.10,293.30 Q18.60,293.30 12.60,292.00 Z" fill="#3a3a3a" opacity="0.55" filter="url(#b1)"/>
<path d="M14.10,297.00 Q17.10,296.20 23.10,296.20 Q30.10,296.20 32.10,297.00 Q30.10,297.80 23.10,297.80 Q17.10,297.80 14.10,297.00 Z" fill="#777" opacity="0.22" filter="url(#b1)"/>
<path d="M37.70,291.80 Q43.70,290.50 48.20,290.50 Q54.70,290.50 58.70,291.80 Q54.70,293.10 48.20,293.10 Q43.70,293.10 37.70,291.80 Z" fill="#3a3a3a" opacity="0.5" filter="url(#b1)"/>
<path d="M39.20,296.80 Q42.20,296.00 48.20,296.00 Q55.20,296.00 57.20,296.80 Q55.20,297.60 48.20,297.60 Q42.20,297.60 39.20,296.80 Z" fill="#777" opacity="0.22" filter="url(#b1)"/>
<path d="M63.10,291.60 Q69.10,290.30 73.60,290.30 Q80.10,290.30 84.10,291.60 Q80.10,292.90 73.60,292.90 Q69.10,292.90 63.10,291.60 Z" fill="#3a3a3a" opacity="0.75" filter="url(#b1)"/>
<path d="M64.60,296.60 Q67.60,295.80 73.60,295.80 Q80.60,295.80 82.60,296.60 Q80.60,297.40 73.60,297.40 Q67.60,297.40 64.60,296.60 Z" fill="#777" opacity="0.22" filter="url(#b1)"/>
<path d="M88.80,289.80 Q94.80,288.50 99.30,288.50 Q105.80,288.50 109.80,289.80 Q105.80,291.10 99.30,291.10 Q94.80,291.10 88.80,289.80 Z" fill="#3a3a3a" opacity="0.45" filter="url(#b1)"/>
<path d="M90.30,294.80 Q93.30,294.00 99.30,294.00 Q106.30,294.00 108.30,294.80 Q106.30,295.60 99.30,295.60 Q93.30,295.60 90.30,294.80 Z" fill="#777" opacity="0.22" filter="url(#b1)"/>
<path d="M115.10,289.50 Q121.10,288.20 125.60,288.20 Q132.10,288.20 136.10,289.50 Q132.10,290.80 125.60,290.80 Q121.10,290.80 115.10,289.50 Z" fill="#3a3a3a" opacity="0.5" filter="url(#b1)"/>
<path d="M116.60,294.50 Q119.60,293.70 125.60,293.70 Q132.60,293.70 134.60,294.50 Q132.60,295.30 125.60,295.30 Q119.60,295.30 116.60,294.50 Z" fill="#777" opacity="0.22" filter="url(#b1)"/>
<path d="M140.10,289.40 Q146.10,288.10 150.60,288.10 Q157.10,288.10 161.10,289.40 Q157.10,290.70 150.60,290.70 Q146.10,290.70 140.10,289.40 Z" fill="#3a3a3a" opacity="0.5" filter="url(#b1)"/>
<path d="M141.60,294.40 Q144.60,293.60 150.60,293.60 Q157.60,293.60 159.60,294.40 Q157.60,295.20 150.60,295.20 Q144.60,295.20 141.60,294.40 Z" fill="#777" opacity="0.22" filter="url(#b1)"/>
<path d="M164.80,289.30 Q170.80,288.00 175.30,288.00 Q181.80,288.00 185.80,289.30 Q181.80,290.60 175.30,290.60 Q170.80,290.60 164.80,289.30 Z" fill="#3a3a3a" opacity="0.5" filter="url(#b1)"/>
<path d="M166.30,294.30 Q169.30,293.50 175.30,293.50 Q182.30,293.50 184.30,294.30 Q182.30,295.10 175.30,295.10 Q169.30,295.10 166.30,294.30 Z" fill="#777" opacity="0.22" filter="url(#b1)"/>
<path d="M190.90,289.20 Q196.90,287.90 201.40,287.90 Q207.90,287.90 211.90,289.20 Q207.90,290.50 201.40,290.50 Q196.90,290.50 190.90,289.20 Z" fill="#3a3a3a" opacity="0.55" filter="url(#b1)"/>
<path d="M192.40,294.20 Q195.40,293.40 201.40,293.40 Q208.40,293.40 210.40,294.20 Q208.40,295.00 201.40,295.00 Q195.40,295.00 192.40,294.20 Z" fill="#777" opacity="0.22" filter="url(#b1)"/>
<path d="M13.60,312.40 Q16.60,311.50 23.10,311.50 Q30.60,311.50 32.60,312.40 Q30.60,313.30 23.10,313.30 Q16.60,313.30 13.60,312.40 Z" fill="#666" opacity="0.35" filter="url(#b1)"/>
<path d="M12.85,318.70 Q15.85,317.30 23.10,317.30 Q31.35,317.30 33.35,318.70 Q31.35,320.10 23.10,320.10 Q15.85,320.10 12.85,318.70 Z" fill="#222" opacity="0.75" filter="url(#b1)"/>
<path d="M38.70,312.40 Q41.70,311.50 48.20,311.50 Q55.70,311.50 57.70,312.40 Q55.70,313.30 48.20,313.30 Q41.70,313.30 38.70,312.40 Z" fill="#666" opacity="0.35" filter="url(#b1)"/>
<path d="M37.95,318.70 Q40.95,317.30 48.20,317.30 Q56.45,317.30 58.45,318.70 Q56.45,320.10 48.20,320.10 Q40.95,320.10 37.95,318.70 Z" fill="#222" opacity="0.8" filter="url(#b1)"/>
<path d="M64.10,312.40 Q67.10,311.50 73.60,311.50 Q81.10,311.50 83.10,312.40 Q81.10,313.30 73.60,313.30 Q67.10,313.30 64.10,312.40 Z" fill="#666" opacity="0.35" filter="url(#b1)"/>
<path d="M63.35,318.70 Q66.35,317.30 73.60,317.30 Q81.85,317.30 83.85,318.70 Q81.85,320.10 73.60,320.10 Q66.35,320.10 63.35,318.70 Z" fill="#222" opacity="0.65" filter="url(#b1)"/>
<path d="M89.80,312.40 Q92.80,311.50 99.30,311.50 Q106.80,311.50 108.80,312.40 Q106.80,313.30 99.30,313.30 Q92.80,313.30 89.80,312.40 Z" fill="#666" opacity="0.35" filter="url(#b1)"/>
<path d="M89.05,318.70 Q92.05,317.30 99.30,317.30 Q107.55,317.30 109.55,318.70 Q107.55,320.10 99.30,320.10 Q92.05,320.10 89.05,318.70 Z" fill="#222" opacity="0.75" filter="url(#b1)"/>
<path d="M116.10,312.40 Q119.10,311.50 125.60,311.50 Q133.10,311.50 135.10,312.40 Q133.10,313.30 125.60,313.30 Q119.10,313.30 116.10,312.40 Z" fill="#666" opacity="0.35" filter="url(#b1)"/>
<path d="M115.35,318.70 Q118.35,317.30 125.60,317.30 Q133.85,317.30 135.85,318.70 Q133.85,320.10 125.60,320.10 Q118.35,320.10 115.35,318.70 Z" fill="#222" opacity="0.7" filter="url(#b1)"/>
<path d="M141.10,312.40 Q144.10,311.50 150.60,311.50 Q158.10,311.50 160.10,312.40 Q158.10,313.30 150.60,313.30 Q144.10,313.30 141.10,312.40 Z" fill="#666" opacity="0.35" filter="url(#b1)"/>
<path d="M140.35,318.70 Q143.35,317.30 150.60,317.30 Q158.85,317.30 160.85,318.70 Q158.85,320.10 150.60,320.10 Q143.35,320.10 140.35,318.70 Z" fill="#222" opacity="0.7" filter="url(#b1)"/>
<path d="M165.80,312.40 Q168.80,311.50 175.30,311.50 Q182.80,311.50 184.80,312.40 Q182.80,313.30 175.30,313.30 Q168.80,313.30 165.80,312.40 Z" fill="#666" opacity="0.35" filter="url(#b1)"/>
<path d="M165.05,318.70 Q168.05,317.30 175.30,317.30 Q183.55,317.30 185.55,318.70 Q183.55,320.10 175.30,320.10 Q168.05,320.10 165.05,318.70 Z" fill="#222" opacity="0.7" filter="url(#b1)"/>
<path d="M191.90,312.40 Q194.90,311.50 201.40,311.50 Q208.90,311.50 210.90,312.40 Q208.90,313.30 201.40,313.30 Q194.90,313.30 191.90,312.40 Z" fill="#666" opacity="0.35" filter="url(#b1)"/>
<path d="M191.15,318.70 Q194.15,317.30 201.40,317.30 Q209.65,317.30 211.65,318.70 Q209.65,320.10 201.40,320.10 Q194.15,320.10 191.15,318.70 Z" fill="#222" opacity="0.7" filter="url(#b1)"/>
<ellipse cx="145.5" cy="309.8" rx="5" ry="1.8" fill="#333" opacity="0.75" filter="url(#b1)"/>
<ellipse cx="74.5" cy="313.6" rx="2.2" ry="0.9" fill="#333" opacity="0.5" filter="url(#b1)"/>
<defs><linearGradient id="g1" x1="0" y1="0" x2="0" y2="1"><stop offset="0" stop-color="#8a8a8a"/><stop offset="0.45" stop-color="#6a6a6a"/><stop offset="1" stop-color="#3e3e3e"/></linearGradient></defs>
<path d="M11.85,332.60 Q11.85,331.40 13.85,331.40 Q23.10,331.40 32.35,331.40 Q34.35,331.40 34.35,332.60 L34.35,336.10 Q33.35,337.40 30.35,338.80 Q23.10,341.00 15.85,338.80 Q12.85,337.40 11.85,336.10 Z" fill="url(#g1)" opacity="1.0" filter="url(#b1)"/>
<path d="M36.95,332.60 Q36.95,331.40 38.95,331.40 Q48.20,331.40 57.45,331.40 Q59.45,331.40 59.45,332.60 L59.45,336.10 Q58.45,337.40 55.45,338.80 Q48.20,341.00 40.95,338.80 Q37.95,337.40 36.95,336.10 Z" fill="url(#g1)" opacity="0.92" filter="url(#b1)"/>
<path d="M62.35,332.60 Q62.35,331.40 64.35,331.40 Q73.60,331.40 82.85,331.40 Q84.85,331.40 84.85,332.60 L84.85,336.10 Q83.85,337.40 80.85,338.80 Q73.60,341.00 66.35,338.80 Q63.35,337.40 62.35,336.10 Z" fill="url(#g1)" opacity="0.88" filter="url(#b1)"/>
<path d="M88.05,332.60 Q88.05,331.40 90.05,331.40 Q99.30,331.40 108.55,331.40 Q110.55,331.40 110.55,332.60 L110.55,336.10 Q109.55,337.40 106.55,338.80 Q99.30,341.00 92.05,338.80 Q89.05,337.40 88.05,336.10 Z" fill="url(#g1)" opacity="0.9" filter="url(#b1)"/>
<path d="M114.35,332.60 Q114.35,331.40 116.35,331.40 Q125.60,331.40 134.85,331.40 Q136.85,331.40 136.85,332.60 L136.85,336.10 Q135.85,337.40 132.85,338.80 Q125.60,341.00 118.35,338.80 Q115.35,337.40 114.35,336.10 Z" fill="url(#g1)" opacity="0.9" filter="url(#b1)"/>
<path d="M139.35,332.60 Q139.35,331.40 141.35,331.40 Q150.60,331.40 159.85,331.40 Q161.85,331.40 161.85,332.60 L161.85,336.10 Q160.85,337.40 157.85,338.80 Q150.60,341.00 143.35,338.80 Q140.35,337.40 139.35,336.10 Z" fill="url(#g1)" opacity="0.95" filter="url(#b1)"/>
<path d="M164.05,332.60 Q164.05,331.40 166.05,331.40 Q175.30,331.40 184.55,331.40 Q186.55,331.40 186.55,332.60 L186.55,336.10 Q185.55,337.40 182.55,338.80 Q175.30,341.00 168.05,338.80 Q165.05,337.40 164.05,336.10 Z" fill="url(#g1)" opacity="0.95" filter="url(#b1)"/>
<path d="M190.15,332.60 Q190.15,331.40 192.15,331.40 Q201.40,331.40 210.65,331.40 Q212.65,331.40 212.65,332.60 L212.65,336.10 Q211.65,337.40 208.65,338.80 Q201.40,341.00 194.15,338.80 Q191.15,337.40 190.15,336.10 Z" fill="url(#g1)" opacity="0.97" filter="url(#b1)"/>
<text x="235.00" y="296.60" font-size="9.8" text-anchor="middle" font-weight="normal" font-style="normal" fill="#111" stroke="#111" stroke-width="0.28" >pStat3</text>
<text x="235.00" y="318.30" font-size="9.8" text-anchor="middle" font-weight="normal" font-style="normal" fill="#111" stroke="#111" stroke-width="0.28" >Stat3</text>
<text x="234.40" y="336.60" font-size="9.8" text-anchor="middle" font-weight="normal" font-style="normal" fill="#111" stroke="#111" stroke-width="0.28" >βActin</text>
<rect x="284.20" y="285.00" width="203.90" height="14.80" fill="#b0b0b0"/>
<rect x="284.20" y="285.80" width="203.90" height="1.57" fill="#fff" opacity="0.078"/>
<rect x="284.20" y="288.52" width="203.90" height="1.30" fill="#000" opacity="0.078"/>
<rect x="284.20" y="290.13" width="203.90" height="0.85" fill="#000" opacity="0.065"/>
<rect x="284.20" y="291.52" width="203.90" height="1.46" fill="#fff" opacity="0.021"/>
<rect x="284.20" y="294.00" width="203.90" height="0.61" fill="#000" opacity="0.013"/>
<rect x="284.20" y="296.06" width="203.90" height="1.04" fill="#fff" opacity="0.065"/>
<rect x="284.20" y="298.43" width="203.90" height="0.77" fill="#000" opacity="0.052"/>
<rect x="284.20" y="307.00" width="203.90" height="14.60" fill="#dadada"/>
<rect x="284.20" y="307.80" width="203.90" height="0.82" fill="#fff" opacity="0.020"/>
<rect x="284.20" y="310.02" width="203.90" height="1.09" fill="#fff" opacity="0.048"/>
<rect x="284.20" y="312.03" width="203.90" height="0.90" fill="#000" opacity="0.014"/>
<rect x="284.20" y="314.12" width="203.90" height="1.04" fill="#000" opacity="0.054"/>
<rect x="284.20" y="315.79" width="203.90" height="1.01" fill="#000" opacity="0.041"/>
<rect x="284.20" y="317.80" width="203.90" height="1.20" fill="#000" opacity="0.024"/>
<rect x="284.20" y="319.60" width="203.90" height="0.93" fill="#000" opacity="0.018"/>
<rect x="284.20" y="328.20" width="203.90" height="14.60" fill="#c2c2c2"/>
<rect x="284.20" y="329.00" width="203.90" height="1.49" fill="#000" opacity="0.051"/>
<rect x="284.20" y="330.84" width="203.90" height="0.71" fill="#fff" opacity="0.036"/>
<rect x="284.20" y="332.35" width="203.90" height="0.94" fill="#fff" opacity="0.032"/>
<rect x="284.20" y="334.47" width="203.90" height="1.12" fill="#fff" opacity="0.042"/>
<rect x="284.20" y="337.08" width="203.90" height="1.42" fill="#000" opacity="0.054"/>
<rect x="284.20" y="339.79" width="203.90" height="0.65" fill="#fff" opacity="0.050"/>
<rect x="284.20" y="341.62" width="203.90" height="1.31" fill="#fff" opacity="0.016"/>
<rect x="307.20" y="285.00" width="4" height="14.80" fill="#fff" opacity="0.10" filter="url(#b1)"/>
<rect x="307.20" y="307.00" width="4" height="14.60" fill="#fff" opacity="0.10" filter="url(#b1)"/>
<rect x="332.70" y="285.00" width="4" height="14.80" fill="#fff" opacity="0.10" filter="url(#b1)"/>
<rect x="332.70" y="307.00" width="4" height="14.60" fill="#fff" opacity="0.10" filter="url(#b1)"/>
<rect x="357.80" y="285.00" width="4" height="14.80" fill="#fff" opacity="0.10" filter="url(#b1)"/>
<rect x="357.80" y="307.00" width="4" height="14.60" fill="#fff" opacity="0.10" filter="url(#b1)"/>
<rect x="383.00" y="285.00" width="4" height="14.80" fill="#fff" opacity="0.10" filter="url(#b1)"/>
<rect x="383.00" y="307.00" width="4" height="14.60" fill="#fff" opacity="0.10" filter="url(#b1)"/>
<rect x="408.50" y="285.00" width="4" height="14.80" fill="#fff" opacity="0.10" filter="url(#b1)"/>
<rect x="408.50" y="307.00" width="4" height="14.60" fill="#fff" opacity="0.10" filter="url(#b1)"/>
<rect x="433.75" y="285.00" width="4" height="14.80" fill="#fff" opacity="0.10" filter="url(#b1)"/>
<rect x="433.75" y="307.00" width="4" height="14.60" fill="#fff" opacity="0.10" filter="url(#b1)"/>
<rect x="458.90" y="285.00" width="4" height="14.80" fill="#fff" opacity="0.10" filter="url(#b1)"/>
<rect x="458.90" y="307.00" width="4" height="14.60" fill="#fff" opacity="0.10" filter="url(#b1)"/>
<path d="M285.20,294.70 Q291.20,293.70 296.20,293.70 Q303.20,293.70 307.20,294.70 Q303.20,295.70 296.20,295.70 Q291.20,295.70 285.20,294.70 Z" fill="#1a1a1a" opacity="0.65" filter="url(#b1)"/>
<path d="M311.20,294.70 Q317.20,293.70 322.20,293.70 Q329.20,293.70 333.20,294.70 Q329.20,295.70 322.20,295.70 Q317.20,295.70 311.20,294.70 Z" fill="#1a1a1a" opacity="0.6" filter="url(#b1)"/>
<path d="M336.20,294.40 Q342.20,292.90 347.20,292.90 Q354.20,292.90 358.20,294.40 Q354.20,295.90 347.20,295.90 Q342.20,295.90 336.20,294.40 Z" fill="#1a1a1a" opacity="0.95" filter="url(#b1)"/>
<path d="M361.40,294.30 Q367.40,293.50 372.40,293.50 Q379.40,293.50 383.40,294.30 Q379.40,295.10 372.40,295.10 Q367.40,295.10 361.40,294.30 Z" fill="#1a1a1a" opacity="0.3" filter="url(#b1)"/>
<path d="M386.60,293.00 Q392.60,292.00 397.60,292.00 Q404.60,292.00 408.60,293.00 Q404.60,294.00 397.60,294.00 Q392.60,294.00 386.60,293.00 Z" fill="#1a1a1a" opacity="0.65" filter="url(#b1)"/>
<path d="M412.40,293.00 Q418.40,292.00 423.40,292.00 Q430.40,292.00 434.40,293.00 Q430.40,294.00 423.40,294.00 Q418.40,294.00 412.40,293.00 Z" fill="#1a1a1a" opacity="0.7" filter="url(#b1)"/>
<path d="M437.10,293.00 Q443.10,292.00 448.10,292.00 Q455.10,292.00 459.10,293.00 Q455.10,294.00 448.10,294.00 Q443.10,294.00 437.10,293.00 Z" fill="#1a1a1a" opacity="0.65" filter="url(#b1)"/>
<path d="M462.70,293.00 Q468.70,292.00 473.70,292.00 Q480.70,292.00 484.70,293.00 Q480.70,294.00 473.70,294.00 Q468.70,294.00 462.70,293.00 Z" fill="#1a1a1a" opacity="0.65" filter="url(#b1)"/>
<defs><linearGradient id="g2" x1="0" y1="0" x2="0" y2="1"><stop offset="0" stop-color="#a8a8a8"/><stop offset="0.35" stop-color="#5e5e5e"/><stop offset="0.6" stop-color="#484848"/><stop offset="1" stop-color="#7a7a7a"/></linearGradient></defs>
<path d="M284.45,312.20 Q284.45,311.00 286.45,311.00 Q296.20,311.00 305.95,311.00 Q307.95,311.00 307.95,312.20 L307.95,316.50 Q306.95,317.80 303.95,318.40 Q296.20,319.80 288.45,318.40 Q285.45,317.80 284.45,316.50 Z" fill="url(#g2)" opacity="0.95" filter="url(#b1)"/>
<path d="M310.45,312.20 Q310.45,311.00 312.45,311.00 Q322.20,311.00 331.95,311.00 Q333.95,311.00 333.95,312.20 L333.95,316.50 Q332.95,317.80 329.95,318.40 Q322.20,319.80 314.45,318.40 Q311.45,317.80 310.45,316.50 Z" fill="url(#g2)" opacity="0.85" filter="url(#b1)"/>
<path d="M335.45,312.20 Q335.45,311.00 337.45,311.00 Q347.20,311.00 356.95,311.00 Q358.95,311.00 358.95,312.20 L358.95,316.50 Q357.95,317.80 354.95,318.40 Q347.20,319.80 339.45,318.40 Q336.45,317.80 335.45,316.50 Z" fill="url(#g2)" opacity="0.95" filter="url(#b1)"/>
<path d="M360.65,312.20 Q360.65,311.00 362.65,311.00 Q372.40,311.00 382.15,311.00 Q384.15,311.00 384.15,312.20 L384.15,316.50 Q383.15,317.80 380.15,318.40 Q372.40,319.80 364.65,318.40 Q361.65,317.80 360.65,316.50 Z" fill="url(#g2)" opacity="0.55" filter="url(#b1)"/>
<path d="M385.85,312.20 Q385.85,311.00 387.85,311.00 Q397.60,311.00 407.35,311.00 Q409.35,311.00 409.35,312.20 L409.35,316.50 Q408.35,317.80 405.35,318.40 Q397.60,319.80 389.85,318.40 Q386.85,317.80 385.85,316.50 Z" fill="url(#g2)" opacity="0.8" filter="url(#b1)"/>
<path d="M411.65,312.20 Q411.65,311.00 413.65,311.00 Q423.40,311.00 433.15,311.00 Q435.15,311.00 435.15,312.20 L435.15,316.50 Q434.15,317.80 431.15,318.40 Q423.40,319.80 415.65,318.40 Q412.65,317.80 411.65,316.50 Z" fill="url(#g2)" opacity="0.85" filter="url(#b1)"/>
<path d="M436.35,312.20 Q436.35,311.00 438.35,311.00 Q448.10,311.00 457.85,311.00 Q459.85,311.00 459.85,312.20 L459.85,316.50 Q458.85,317.80 455.85,318.40 Q448.10,319.80 440.35,318.40 Q437.35,317.80 436.35,316.50 Z" fill="url(#g2)" opacity="0.85" filter="url(#b1)"/>
<path d="M461.95,312.20 Q461.95,311.00 463.95,311.00 Q473.70,311.00 483.45,311.00 Q485.45,311.00 485.45,312.20 L485.45,316.50 Q484.45,317.80 481.45,318.40 Q473.70,319.80 465.95,318.40 Q462.95,317.80 461.95,316.50 Z" fill="url(#g2)" opacity="0.85" filter="url(#b1)"/>
<path d="M283.70,332.20 Q283.70,331.00 285.70,331.00 Q296.20,331.80 306.70,331.00 Q308.70,331.00 308.70,332.20 L308.70,337.30 Q307.70,338.60 304.70,339.50 Q296.20,341.20 287.70,339.50 Q284.70,338.60 283.70,337.30 Z" fill="#080808" opacity="0.97" filter="url(#b1)"/>
<path d="M309.70,332.20 Q309.70,331.00 311.70,331.00 Q322.20,331.80 332.70,331.00 Q334.70,331.00 334.70,332.20 L334.70,337.30 Q333.70,338.60 330.70,339.50 Q322.20,341.20 313.70,339.50 Q310.70,338.60 309.70,337.30 Z" fill="#080808" opacity="0.97" filter="url(#b1)"/>
<path d="M334.70,332.20 Q334.70,331.00 336.70,331.00 Q347.20,331.80 357.70,331.00 Q359.70,331.00 359.70,332.20 L359.70,337.30 Q358.70,338.60 355.70,339.50 Q347.20,341.20 338.70,339.50 Q335.70,338.60 334.70,337.30 Z" fill="#080808" opacity="0.97" filter="url(#b1)"/>
<path d="M359.90,332.20 Q359.90,331.00 361.90,331.00 Q372.40,331.80 382.90,331.00 Q384.90,331.00 384.90,332.20 L384.90,337.30 Q383.90,338.60 380.90,339.50 Q372.40,341.20 363.90,339.50 Q360.90,338.60 359.90,337.30 Z" fill="#080808" opacity="0.97" filter="url(#b1)"/>
<path d="M385.10,332.20 Q385.10,331.00 387.10,331.00 Q397.60,331.80 408.10,331.00 Q410.10,331.00 410.10,332.20 L410.10,337.30 Q409.10,338.60 406.10,339.50 Q397.60,341.20 389.10,339.50 Q386.10,338.60 385.10,337.30 Z" fill="#080808" opacity="0.97" filter="url(#b1)"/>
<path d="M410.90,332.20 Q410.90,331.00 412.90,331.00 Q423.40,331.80 433.90,331.00 Q435.90,331.00 435.90,332.20 L435.90,337.30 Q434.90,338.60 431.90,339.50 Q423.40,341.20 414.90,339.50 Q411.90,338.60 410.90,337.30 Z" fill="#080808" opacity="0.97" filter="url(#b1)"/>
<path d="M435.60,332.20 Q435.60,331.00 437.60,331.00 Q448.10,331.80 458.60,331.00 Q460.60,331.00 460.60,332.20 L460.60,337.30 Q459.60,338.60 456.60,339.50 Q448.10,341.20 439.60,339.50 Q436.60,338.60 435.60,337.30 Z" fill="#080808" opacity="0.97" filter="url(#b1)"/>
<path d="M461.20,332.20 Q461.20,331.00 463.20,331.00 Q473.70,331.80 484.20,331.00 Q486.20,331.00 486.20,332.20 L486.20,337.30 Q485.20,338.60 482.20,339.50 Q473.70,341.20 465.20,339.50 Q462.20,338.60 461.20,337.30 Z" fill="#080808" opacity="0.97" filter="url(#b1)"/>
<text x="504.60" y="296.70" font-size="9.8" text-anchor="middle" font-weight="normal" font-style="normal" fill="#111" stroke="#111" stroke-width="0.28" >pStat5</text>
<text x="504.30" y="318.40" font-size="9.8" text-anchor="middle" font-weight="normal" font-style="normal" fill="#111" stroke="#111" stroke-width="0.28" >Stat5</text>
<text x="503.50" y="336.80" font-size="9.8" text-anchor="middle" font-weight="normal" font-style="normal" fill="#111" stroke="#111" stroke-width="0.28" >βActin</text>
<line x1="12.00" y1="349.60" x2="83.70" y2="349.60" stroke="#333" stroke-width="1.1" />
<line x1="89.30" y1="349.60" x2="133.80" y2="349.60" stroke="#333" stroke-width="1.1" />
<line x1="140.70" y1="349.60" x2="210.00" y2="349.60" stroke="#333" stroke-width="1.1" />
<line x1="12.00" y1="365.30" x2="216.20" y2="365.30" stroke="#333" stroke-width="1.1" />
<text x="29.50" y="360.50" font-size="10" font-style="italic" fill="#111" stroke="#111" stroke-width="0.28" text-anchor="start">Stat1<tspan dy="-3.6" font-size="6.60">+/+</tspan></text>
<text x="93.70" y="360.50" font-size="10" font-style="italic" fill="#111" stroke="#111" stroke-width="0.28" text-anchor="start">Stat1<tspan dy="-3.6" font-size="6.60">+/-</tspan></text>
<text x="158.00" y="360.50" font-size="10" font-style="italic" fill="#111" stroke="#111" stroke-width="0.28" text-anchor="start">Stat1<tspan dy="-3.6" font-size="6.60">-/-</tspan></text>
<text x="82.00" y="376.90" font-size="9.5" font-style="italic" fill="#111" stroke="#111" stroke-width="0.28">SclCre<tspan dy="-3.4" font-size="6.46">ER</tspan><tspan dy="3.4">;V617F</tspan></text>
<line x1="284.90" y1="349.70" x2="357.00" y2="349.70" stroke="#333" stroke-width="1.1" />
<line x1="363.00" y1="349.70" x2="408.50" y2="349.70" stroke="#333" stroke-width="1.1" />
<line x1="415.20" y1="349.70" x2="483.70" y2="349.70" stroke="#333" stroke-width="1.1" />
<line x1="285.50" y1="365.20" x2="483.70" y2="365.20" stroke="#333" stroke-width="1.1" />
<text x="307.00" y="360.30" font-size="10" font-style="italic" fill="#111" stroke="#111" stroke-width="0.28" text-anchor="start">Stat1<tspan dy="-3.6" font-size="6.60">+/+</tspan></text>
<text x="370.80" y="360.50" font-size="10" font-style="italic" fill="#111" stroke="#111" stroke-width="0.28" text-anchor="start">Stat1<tspan dy="-3.6" font-size="6.60">+/-</tspan></text>
<text x="435.00" y="360.50" font-size="10" font-style="italic" fill="#111" stroke="#111" stroke-width="0.28" text-anchor="start">Stat1<tspan dy="-3.6" font-size="6.60">-/-</tspan></text>
<text x="358.20" y="377.00" font-size="9.5" font-style="italic" fill="#111" stroke="#111" stroke-width="0.28">SclCre<tspan dy="-3.4" font-size="6.46">ER</tspan><tspan dy="3.4">;V617F</tspan></text>
</g>
</svg>
</body></html>
